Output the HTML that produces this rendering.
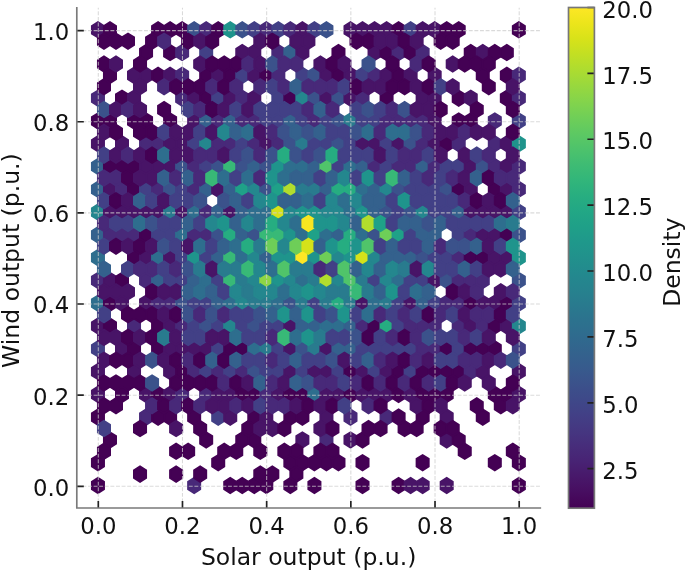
<!DOCTYPE html>
<html lang="en"><head><meta charset="utf-8"><title>Solar vs Wind output density</title>
<style>html,body{margin:0;padding:0;background:#fff}body{width:685px;height:571px;overflow:hidden}svg text{font-family:"DejaVu Sans","Liberation Sans",sans-serif}</style></head>
<body>
<svg width="685" height="571" viewBox="0 0 685 571" style="display:block">
<rect width="685" height="571" fill="#ffffff"/>
<defs><clipPath id="ax"><rect x="76.80" y="7.80" width="463.50" height="500.20"/></clipPath>
<linearGradient id="vg" x1="0" y1="0" x2="0" y2="1"><stop offset="0.0000" stop-color="#fde725"/><stop offset="0.0312" stop-color="#ece51b"/><stop offset="0.0625" stop-color="#d8e219"/><stop offset="0.0938" stop-color="#c2df23"/><stop offset="0.1250" stop-color="#addc30"/><stop offset="0.1562" stop-color="#98d83e"/><stop offset="0.1875" stop-color="#84d44b"/><stop offset="0.2188" stop-color="#70cf57"/><stop offset="0.2500" stop-color="#5ec962"/><stop offset="0.2812" stop-color="#4ec36b"/><stop offset="0.3125" stop-color="#3fbc73"/><stop offset="0.3438" stop-color="#32b67a"/><stop offset="0.3750" stop-color="#28ae80"/><stop offset="0.4062" stop-color="#22a785"/><stop offset="0.4375" stop-color="#1fa088"/><stop offset="0.4688" stop-color="#1f988b"/><stop offset="0.5000" stop-color="#21918c"/><stop offset="0.5312" stop-color="#23898e"/><stop offset="0.5625" stop-color="#26828e"/><stop offset="0.5938" stop-color="#297a8e"/><stop offset="0.6250" stop-color="#2c728e"/><stop offset="0.6562" stop-color="#2f6b8e"/><stop offset="0.6875" stop-color="#33638d"/><stop offset="0.7188" stop-color="#375b8d"/><stop offset="0.7500" stop-color="#3b528b"/><stop offset="0.7812" stop-color="#3e4989"/><stop offset="0.8125" stop-color="#424086"/><stop offset="0.8438" stop-color="#453781"/><stop offset="0.8750" stop-color="#472d7b"/><stop offset="0.9062" stop-color="#482374"/><stop offset="0.9375" stop-color="#48186a"/><stop offset="0.9688" stop-color="#470d60"/><stop offset="1.0000" stop-color="#440154"/></linearGradient></defs>
<g clip-path="url(#ax)" stroke-linejoin="miter" stroke-width="2.00">
<path fill="#440154" stroke="#440154" d="M103.96 481.70L103.96 489.30L97.95 493.10L91.94 489.30L91.94 481.70L97.95 477.90Z"/>
<path fill="#440154" stroke="#440154" d="M103.96 458.92L103.96 466.51L97.95 470.31L91.94 466.51L91.94 458.92L97.95 455.12Z"/>
<path fill="#440154" stroke="#440154" d="M103.96 413.35L103.96 420.94L97.95 424.74L91.94 420.94L91.94 413.35L97.95 409.55Z"/>
<path fill="#481467" stroke="#481467" d="M103.96 390.56L103.96 398.16L97.95 401.96L91.94 398.16L91.94 390.56L97.95 386.76Z"/>
<path fill="#481467" stroke="#481467" d="M103.96 367.78L103.96 375.37L97.95 379.17L91.94 375.37L91.94 367.78L97.95 363.98Z"/>
<path fill="#424086" stroke="#424086" d="M103.96 344.99L103.96 352.59L97.95 356.39L91.94 352.59L91.94 344.99L97.95 341.19Z"/>
<path fill="#481467" stroke="#481467" d="M103.96 322.21L103.96 329.80L97.95 333.60L91.94 329.80L91.94 322.21L97.95 318.41Z"/>
<path fill="#2e6e8e" stroke="#2e6e8e" d="M103.96 299.42L103.96 307.02L97.95 310.82L91.94 307.02L91.94 299.42L97.95 295.62Z"/>
<path fill="#482979" stroke="#482979" d="M103.96 276.64L103.96 284.23L97.95 288.03L91.94 284.23L91.94 276.64L97.95 272.84Z"/>
<path fill="#2e6e8e" stroke="#2e6e8e" d="M103.96 253.85L103.96 261.45L97.95 265.25L91.94 261.45L91.94 253.85L97.95 250.05Z"/>
<path fill="#34618d" stroke="#34618d" d="M103.96 231.07L103.96 238.66L97.95 242.46L91.94 238.66L91.94 231.07L97.95 227.27Z"/>
<path fill="#24878e" stroke="#24878e" d="M103.96 208.28L103.96 215.88L97.95 219.67L91.94 215.88L91.94 208.28L97.95 204.48Z"/>
<path fill="#34618d" stroke="#34618d" d="M103.96 185.50L103.96 193.09L97.95 196.89L91.94 193.09L91.94 185.50L97.95 181.70Z"/>
<path fill="#34618d" stroke="#34618d" d="M103.96 162.71L103.96 170.31L97.95 174.10L91.94 170.31L91.94 162.71L97.95 158.91Z"/>
<path fill="#481467" stroke="#481467" d="M103.96 139.93L103.96 147.52L97.95 151.32L91.94 147.52L91.94 139.93L97.95 136.13Z"/>
<path fill="#440154" stroke="#440154" d="M103.96 117.14L103.96 124.74L97.95 128.54L91.94 124.74L91.94 117.14L97.95 113.35Z"/>
<path fill="#482979" stroke="#482979" d="M103.96 94.36L103.96 101.95L97.95 105.75L91.94 101.95L91.94 94.36L97.95 90.56Z"/>
<path fill="#481467" stroke="#481467" d="M103.96 26.00L103.96 33.60L97.95 37.40L91.94 33.60L91.94 26.00L97.95 22.21Z"/>
<path fill="#440154" stroke="#440154" d="M115.99 436.13L115.99 443.73L109.98 447.53L103.96 443.73L103.96 436.13L109.98 432.33Z"/>
<path fill="#440154" stroke="#440154" d="M115.99 322.21L115.99 329.80L109.98 333.60L103.96 329.80L103.96 322.21L109.98 318.41Z"/>
<path fill="#440154" stroke="#440154" d="M115.99 299.42L115.99 307.02L109.98 310.82L103.96 307.02L103.96 299.42L109.98 295.62Z"/>
<path fill="#481467" stroke="#481467" d="M115.99 276.64L115.99 284.23L109.98 288.03L103.96 284.23L103.96 276.64L109.98 272.84Z"/>
<path fill="#482979" stroke="#482979" d="M115.99 231.07L115.99 238.66L109.98 242.46L103.96 238.66L103.96 231.07L109.98 227.27Z"/>
<path fill="#481467" stroke="#481467" d="M115.99 208.28L115.99 215.88L109.98 219.67L103.96 215.88L103.96 208.28L109.98 204.48Z"/>
<path fill="#481467" stroke="#481467" d="M115.99 185.50L115.99 193.09L109.98 196.89L103.96 193.09L103.96 185.50L109.98 181.70Z"/>
<path fill="#440154" stroke="#440154" d="M115.99 162.71L115.99 170.31L109.98 174.10L103.96 170.31L103.96 162.71L109.98 158.91Z"/>
<path fill="#440154" stroke="#440154" d="M115.99 117.14L115.99 124.74L109.98 128.54L103.96 124.74L103.96 117.14L109.98 113.35Z"/>
<path fill="#440154" stroke="#440154" d="M115.99 71.57L115.99 79.17L109.98 82.97L103.96 79.17L103.96 71.57L109.98 67.78Z"/>
<path fill="#440154" stroke="#440154" d="M115.99 26.00L115.99 33.60L109.98 37.40L103.96 33.60L103.96 26.00L109.98 22.21Z"/>
<path fill="#440154" stroke="#440154" d="M128.01 390.56L128.01 398.16L122.00 401.96L115.99 398.16L115.99 390.56L122.00 386.76Z"/>
<path fill="#481467" stroke="#481467" d="M128.01 344.99L128.01 352.59L122.00 356.39L115.99 352.59L115.99 344.99L122.00 341.19Z"/>
<path fill="#481467" stroke="#481467" d="M128.01 299.42L128.01 307.02L122.00 310.82L115.99 307.02L115.99 299.42L122.00 295.62Z"/>
<path fill="#440154" stroke="#440154" d="M128.01 276.64L128.01 284.23L122.00 288.03L115.99 284.23L115.99 276.64L122.00 272.84Z"/>
<path fill="#482979" stroke="#482979" d="M128.01 231.07L128.01 238.66L122.00 242.46L115.99 238.66L115.99 231.07L122.00 227.27Z"/>
<path fill="#481467" stroke="#481467" d="M128.01 208.28L128.01 215.88L122.00 219.67L115.99 215.88L115.99 208.28L122.00 204.48Z"/>
<path fill="#482979" stroke="#482979" d="M128.01 185.50L128.01 193.09L122.00 196.89L115.99 193.09L115.99 185.50L122.00 181.70Z"/>
<path fill="#440154" stroke="#440154" d="M128.01 162.71L128.01 170.31L122.00 174.10L115.99 170.31L115.99 162.71L122.00 158.91Z"/>
<path fill="#481467" stroke="#481467" d="M128.01 139.93L128.01 147.52L122.00 151.32L115.99 147.52L115.99 139.93L122.00 136.13Z"/>
<path fill="#440154" stroke="#440154" d="M128.01 94.36L128.01 101.95L122.00 105.75L115.99 101.95L115.99 94.36L122.00 90.56Z"/>
<path fill="#481467" stroke="#481467" d="M140.04 367.78L140.04 375.37L134.03 379.17L128.01 375.37L128.01 367.78L134.03 363.98Z"/>
<path fill="#440154" stroke="#440154" d="M140.04 344.99L140.04 352.59L134.03 356.39L128.01 352.59L128.01 344.99L134.03 341.19Z"/>
<path fill="#482979" stroke="#482979" d="M140.04 322.21L140.04 329.80L134.03 333.60L128.01 329.80L128.01 322.21L134.03 318.41Z"/>
<path fill="#440154" stroke="#440154" d="M140.04 253.85L140.04 261.45L134.03 265.25L128.01 261.45L128.01 253.85L134.03 250.05Z"/>
<path fill="#482979" stroke="#482979" d="M140.04 231.07L140.04 238.66L134.03 242.46L128.01 238.66L128.01 231.07L134.03 227.27Z"/>
<path fill="#481467" stroke="#481467" d="M140.04 208.28L140.04 215.88L134.03 219.67L128.01 215.88L128.01 208.28L134.03 204.48Z"/>
<path fill="#440154" stroke="#440154" d="M140.04 185.50L140.04 193.09L134.03 196.89L128.01 193.09L128.01 185.50L134.03 181.70Z"/>
<path fill="#440154" stroke="#440154" d="M140.04 162.71L140.04 170.31L134.03 174.10L128.01 170.31L128.01 162.71L134.03 158.91Z"/>
<path fill="#440154" stroke="#440154" d="M140.04 117.14L140.04 124.74L134.03 128.54L128.01 124.74L128.01 117.14L134.03 113.35Z"/>
<path fill="#481467" stroke="#481467" d="M140.04 94.36L140.04 101.95L134.03 105.75L128.01 101.95L128.01 94.36L134.03 90.56Z"/>
<path fill="#481467" stroke="#481467" d="M140.04 71.57L140.04 79.17L134.03 82.97L128.01 79.17L128.01 71.57L134.03 67.78Z"/>
<path fill="#482979" stroke="#482979" d="M152.07 413.35L152.07 420.94L146.05 424.74L140.04 420.94L140.04 413.35L146.05 409.55Z"/>
<path fill="#481467" stroke="#481467" d="M152.07 390.56L152.07 398.16L146.05 401.96L140.04 398.16L140.04 390.56L146.05 386.76Z"/>
<path fill="#481467" stroke="#481467" d="M152.07 299.42L152.07 307.02L146.05 310.82L140.04 307.02L140.04 299.42L146.05 295.62Z"/>
<path fill="#482979" stroke="#482979" d="M152.07 276.64L152.07 284.23L146.05 288.03L140.04 284.23L140.04 276.64L146.05 272.84Z"/>
<path fill="#481467" stroke="#481467" d="M152.07 253.85L152.07 261.45L146.05 265.25L140.04 261.45L140.04 253.85L146.05 250.05Z"/>
<path fill="#440154" stroke="#440154" d="M152.07 231.07L152.07 238.66L146.05 242.46L140.04 238.66L140.04 231.07L146.05 227.27Z"/>
<path fill="#481467" stroke="#481467" d="M152.07 208.28L152.07 215.88L146.05 219.67L140.04 215.88L140.04 208.28L146.05 204.48Z"/>
<path fill="#424086" stroke="#424086" d="M152.07 185.50L152.07 193.09L146.05 196.89L140.04 193.09L140.04 185.50L146.05 181.70Z"/>
<path fill="#481467" stroke="#481467" d="M152.07 162.71L152.07 170.31L146.05 174.10L140.04 170.31L140.04 162.71L146.05 158.91Z"/>
<path fill="#482979" stroke="#482979" d="M152.07 139.93L152.07 147.52L146.05 151.32L140.04 147.52L140.04 139.93L146.05 136.13Z"/>
<path fill="#440154" stroke="#440154" d="M152.07 117.14L152.07 124.74L146.05 128.54L140.04 124.74L140.04 117.14L146.05 113.35Z"/>
<path fill="#481467" stroke="#481467" d="M152.07 71.57L152.07 79.17L146.05 82.97L140.04 79.17L140.04 71.57L146.05 67.78Z"/>
<path fill="#440154" stroke="#440154" d="M152.07 48.79L152.07 56.38L146.05 60.18L140.04 56.38L140.04 48.79L146.05 44.99Z"/>
<path fill="#440154" stroke="#440154" d="M164.09 413.35L164.09 420.94L158.08 424.74L152.07 420.94L152.07 413.35L158.08 409.55Z"/>
<path fill="#440154" stroke="#440154" d="M164.09 390.56L164.09 398.16L158.08 401.96L152.07 398.16L152.07 390.56L158.08 386.76Z"/>
<path fill="#440154" stroke="#440154" d="M164.09 344.99L164.09 352.59L158.08 356.39L152.07 352.59L152.07 344.99L158.08 341.19Z"/>
<path fill="#440154" stroke="#440154" d="M164.09 322.21L164.09 329.80L158.08 333.60L152.07 329.80L152.07 322.21L158.08 318.41Z"/>
<path fill="#482979" stroke="#482979" d="M164.09 299.42L164.09 307.02L158.08 310.82L152.07 307.02L152.07 299.42L158.08 295.62Z"/>
<path fill="#34618d" stroke="#34618d" d="M164.09 276.64L164.09 284.23L158.08 288.03L152.07 284.23L152.07 276.64L158.08 272.84Z"/>
<path fill="#2e6e8e" stroke="#2e6e8e" d="M164.09 253.85L164.09 261.45L158.08 265.25L152.07 261.45L152.07 253.85L158.08 250.05Z"/>
<path fill="#424086" stroke="#424086" d="M164.09 231.07L164.09 238.66L158.08 242.46L152.07 238.66L152.07 231.07L158.08 227.27Z"/>
<path fill="#481467" stroke="#481467" d="M164.09 208.28L164.09 215.88L158.08 219.67L152.07 215.88L152.07 208.28L158.08 204.48Z"/>
<path fill="#482979" stroke="#482979" d="M164.09 185.50L164.09 193.09L158.08 196.89L152.07 193.09L152.07 185.50L158.08 181.70Z"/>
<path fill="#481467" stroke="#481467" d="M164.09 162.71L164.09 170.31L158.08 174.10L152.07 170.31L152.07 162.71L158.08 158.91Z"/>
<path fill="#482979" stroke="#482979" d="M164.09 139.93L164.09 147.52L158.08 151.32L152.07 147.52L152.07 139.93L158.08 136.13Z"/>
<path fill="#440154" stroke="#440154" d="M164.09 71.57L164.09 79.17L158.08 82.97L152.07 79.17L152.07 71.57L158.08 67.78Z"/>
<path fill="#440154" stroke="#440154" d="M164.09 26.00L164.09 33.60L158.08 37.40L152.07 33.60L152.07 26.00L158.08 22.21Z"/>
<path fill="#440154" stroke="#440154" d="M176.12 413.35L176.12 420.94L170.10 424.74L164.09 420.94L164.09 413.35L170.10 409.55Z"/>
<path fill="#481467" stroke="#481467" d="M176.12 390.56L176.12 398.16L170.10 401.96L164.09 398.16L164.09 390.56L170.10 386.76Z"/>
<path fill="#481467" stroke="#481467" d="M176.12 367.78L176.12 375.37L170.10 379.17L164.09 375.37L164.09 367.78L170.10 363.98Z"/>
<path fill="#481467" stroke="#481467" d="M176.12 344.99L176.12 352.59L170.10 356.39L164.09 352.59L164.09 344.99L170.10 341.19Z"/>
<path fill="#481467" stroke="#481467" d="M176.12 322.21L176.12 329.80L170.10 333.60L164.09 329.80L164.09 322.21L170.10 318.41Z"/>
<path fill="#482979" stroke="#482979" d="M176.12 299.42L176.12 307.02L170.10 310.82L164.09 307.02L164.09 299.42L170.10 295.62Z"/>
<path fill="#424086" stroke="#424086" d="M176.12 276.64L176.12 284.23L170.10 288.03L164.09 284.23L164.09 276.64L170.10 272.84Z"/>
<path fill="#481467" stroke="#481467" d="M176.12 253.85L176.12 261.45L170.10 265.25L164.09 261.45L164.09 253.85L170.10 250.05Z"/>
<path fill="#424086" stroke="#424086" d="M176.12 231.07L176.12 238.66L170.10 242.46L164.09 238.66L164.09 231.07L170.10 227.27Z"/>
<path fill="#297b8e" stroke="#297b8e" d="M176.12 208.28L176.12 215.88L170.10 219.67L164.09 215.88L164.09 208.28L170.10 204.48Z"/>
<path fill="#3b528b" stroke="#3b528b" d="M176.12 185.50L176.12 193.09L170.10 196.89L164.09 193.09L164.09 185.50L170.10 181.70Z"/>
<path fill="#481467" stroke="#481467" d="M176.12 162.71L176.12 170.31L170.10 174.10L164.09 170.31L164.09 162.71L170.10 158.91Z"/>
<path fill="#481467" stroke="#481467" d="M176.12 139.93L176.12 147.52L170.10 151.32L164.09 147.52L164.09 139.93L170.10 136.13Z"/>
<path fill="#440154" stroke="#440154" d="M176.12 117.14L176.12 124.74L170.10 128.54L164.09 124.74L164.09 117.14L170.10 113.35Z"/>
<path fill="#481467" stroke="#481467" d="M176.12 71.57L176.12 79.17L170.10 82.97L164.09 79.17L164.09 71.57L170.10 67.78Z"/>
<path fill="#440154" stroke="#440154" d="M176.12 48.79L176.12 56.38L170.10 60.18L164.09 56.38L164.09 48.79L170.10 44.99Z"/>
<path fill="#440154" stroke="#440154" d="M176.12 26.00L176.12 33.60L170.10 37.40L164.09 33.60L164.09 26.00L170.10 22.21Z"/>
<path fill="#482979" stroke="#482979" d="M188.14 390.56L188.14 398.16L182.13 401.96L176.12 398.16L176.12 390.56L182.13 386.76Z"/>
<path fill="#440154" stroke="#440154" d="M188.14 367.78L188.14 375.37L182.13 379.17L176.12 375.37L176.12 367.78L182.13 363.98Z"/>
<path fill="#481467" stroke="#481467" d="M188.14 344.99L188.14 352.59L182.13 356.39L176.12 352.59L176.12 344.99L182.13 341.19Z"/>
<path fill="#482979" stroke="#482979" d="M188.14 322.21L188.14 329.80L182.13 333.60L176.12 329.80L176.12 322.21L182.13 318.41Z"/>
<path fill="#3b528b" stroke="#3b528b" d="M188.14 299.42L188.14 307.02L182.13 310.82L176.12 307.02L176.12 299.42L182.13 295.62Z"/>
<path fill="#424086" stroke="#424086" d="M188.14 276.64L188.14 284.23L182.13 288.03L176.12 284.23L176.12 276.64L182.13 272.84Z"/>
<path fill="#424086" stroke="#424086" d="M188.14 253.85L188.14 261.45L182.13 265.25L176.12 261.45L176.12 253.85L182.13 250.05Z"/>
<path fill="#2e6e8e" stroke="#2e6e8e" d="M188.14 231.07L188.14 238.66L182.13 242.46L176.12 238.66L176.12 231.07L182.13 227.27Z"/>
<path fill="#481467" stroke="#481467" d="M188.14 208.28L188.14 215.88L182.13 219.67L176.12 215.88L176.12 208.28L182.13 204.48Z"/>
<path fill="#424086" stroke="#424086" d="M188.14 185.50L188.14 193.09L182.13 196.89L176.12 193.09L176.12 185.50L182.13 181.70Z"/>
<path fill="#3b528b" stroke="#3b528b" d="M188.14 162.71L188.14 170.31L182.13 174.10L176.12 170.31L176.12 162.71L182.13 158.91Z"/>
<path fill="#481467" stroke="#481467" d="M188.14 139.93L188.14 147.52L182.13 151.32L176.12 147.52L176.12 139.93L182.13 136.13Z"/>
<path fill="#482979" stroke="#482979" d="M188.14 94.36L188.14 101.95L182.13 105.75L176.12 101.95L176.12 94.36L182.13 90.56Z"/>
<path fill="#482979" stroke="#482979" d="M188.14 71.57L188.14 79.17L182.13 82.97L176.12 79.17L176.12 71.57L182.13 67.78Z"/>
<path fill="#482979" stroke="#482979" d="M188.14 48.79L188.14 56.38L182.13 60.18L176.12 56.38L176.12 48.79L182.13 44.99Z"/>
<path fill="#440154" stroke="#440154" d="M188.14 26.00L188.14 33.60L182.13 37.40L176.12 33.60L176.12 26.00L182.13 22.21Z"/>
<path fill="#482979" stroke="#482979" d="M200.17 481.70L200.17 489.30L194.16 493.10L188.14 489.30L188.14 481.70L194.16 477.90Z"/>
<path fill="#440154" stroke="#440154" d="M200.17 413.35L200.17 420.94L194.16 424.74L188.14 420.94L188.14 413.35L194.16 409.55Z"/>
<path fill="#482979" stroke="#482979" d="M200.17 367.78L200.17 375.37L194.16 379.17L188.14 375.37L188.14 367.78L194.16 363.98Z"/>
<path fill="#481467" stroke="#481467" d="M200.17 344.99L200.17 352.59L194.16 356.39L188.14 352.59L188.14 344.99L194.16 341.19Z"/>
<path fill="#424086" stroke="#424086" d="M200.17 322.21L200.17 329.80L194.16 333.60L188.14 329.80L188.14 322.21L194.16 318.41Z"/>
<path fill="#424086" stroke="#424086" d="M200.17 299.42L200.17 307.02L194.16 310.82L188.14 307.02L188.14 299.42L194.16 295.62Z"/>
<path fill="#34618d" stroke="#34618d" d="M200.17 276.64L200.17 284.23L194.16 288.03L188.14 284.23L188.14 276.64L194.16 272.84Z"/>
<path fill="#1f948c" stroke="#1f948c" d="M200.17 253.85L200.17 261.45L194.16 265.25L188.14 261.45L188.14 253.85L194.16 250.05Z"/>
<path fill="#482979" stroke="#482979" d="M200.17 231.07L200.17 238.66L194.16 242.46L188.14 238.66L188.14 231.07L194.16 227.27Z"/>
<path fill="#2e6e8e" stroke="#2e6e8e" d="M200.17 208.28L200.17 215.88L194.16 219.67L188.14 215.88L188.14 208.28L194.16 204.48Z"/>
<path fill="#482979" stroke="#482979" d="M200.17 185.50L200.17 193.09L194.16 196.89L188.14 193.09L188.14 185.50L194.16 181.70Z"/>
<path fill="#482979" stroke="#482979" d="M200.17 162.71L200.17 170.31L194.16 174.10L188.14 170.31L188.14 162.71L194.16 158.91Z"/>
<path fill="#424086" stroke="#424086" d="M200.17 139.93L200.17 147.52L194.16 151.32L188.14 147.52L188.14 139.93L194.16 136.13Z"/>
<path fill="#481467" stroke="#481467" d="M200.17 117.14L200.17 124.74L194.16 128.54L188.14 124.74L188.14 117.14L194.16 113.35Z"/>
<path fill="#481467" stroke="#481467" d="M200.17 94.36L200.17 101.95L194.16 105.75L188.14 101.95L188.14 94.36L194.16 90.56Z"/>
<path fill="#3b528b" stroke="#3b528b" d="M200.17 26.00L200.17 33.60L194.16 37.40L188.14 33.60L188.14 26.00L194.16 22.21Z"/>
<path fill="#440154" stroke="#440154" d="M212.19 436.13L212.19 443.73L206.18 447.53L200.17 443.73L200.17 436.13L206.18 432.33Z"/>
<path fill="#482979" stroke="#482979" d="M212.19 390.56L212.19 398.16L206.18 401.96L200.17 398.16L200.17 390.56L206.18 386.76Z"/>
<path fill="#424086" stroke="#424086" d="M212.19 367.78L212.19 375.37L206.18 379.17L200.17 375.37L200.17 367.78L206.18 363.98Z"/>
<path fill="#481467" stroke="#481467" d="M212.19 344.99L212.19 352.59L206.18 356.39L200.17 352.59L200.17 344.99L206.18 341.19Z"/>
<path fill="#3b528b" stroke="#3b528b" d="M212.19 322.21L212.19 329.80L206.18 333.60L200.17 329.80L200.17 322.21L206.18 318.41Z"/>
<path fill="#424086" stroke="#424086" d="M212.19 299.42L212.19 307.02L206.18 310.82L200.17 307.02L200.17 299.42L206.18 295.62Z"/>
<path fill="#2e6e8e" stroke="#2e6e8e" d="M212.19 276.64L212.19 284.23L206.18 288.03L200.17 284.23L200.17 276.64L206.18 272.84Z"/>
<path fill="#424086" stroke="#424086" d="M212.19 253.85L212.19 261.45L206.18 265.25L200.17 261.45L200.17 253.85L206.18 250.05Z"/>
<path fill="#482979" stroke="#482979" d="M212.19 231.07L212.19 238.66L206.18 242.46L200.17 238.66L200.17 231.07L206.18 227.27Z"/>
<path fill="#482979" stroke="#482979" d="M212.19 208.28L212.19 215.88L206.18 219.67L200.17 215.88L200.17 208.28L206.18 204.48Z"/>
<path fill="#34618d" stroke="#34618d" d="M212.19 185.50L212.19 193.09L206.18 196.89L200.17 193.09L200.17 185.50L206.18 181.70Z"/>
<path fill="#424086" stroke="#424086" d="M212.19 162.71L212.19 170.31L206.18 174.10L200.17 170.31L200.17 162.71L206.18 158.91Z"/>
<path fill="#24878e" stroke="#24878e" d="M212.19 139.93L212.19 147.52L206.18 151.32L200.17 147.52L200.17 139.93L206.18 136.13Z"/>
<path fill="#34618d" stroke="#34618d" d="M212.19 117.14L212.19 124.74L206.18 128.54L200.17 124.74L200.17 117.14L206.18 113.35Z"/>
<path fill="#440154" stroke="#440154" d="M212.19 94.36L212.19 101.95L206.18 105.75L200.17 101.95L200.17 94.36L206.18 90.56Z"/>
<path fill="#440154" stroke="#440154" d="M212.19 71.57L212.19 79.17L206.18 82.97L200.17 79.17L200.17 71.57L206.18 67.78Z"/>
<path fill="#424086" stroke="#424086" d="M212.19 48.79L212.19 56.38L206.18 60.18L200.17 56.38L200.17 48.79L206.18 44.99Z"/>
<path fill="#482979" stroke="#482979" d="M212.19 26.00L212.19 33.60L206.18 37.40L200.17 33.60L200.17 26.00L206.18 22.21Z"/>
<path fill="#440154" stroke="#440154" d="M224.22 458.92L224.22 466.51L218.21 470.31L212.19 466.51L212.19 458.92L218.21 455.12Z"/>
<path fill="#424086" stroke="#424086" d="M224.22 413.35L224.22 420.94L218.21 424.74L212.19 420.94L212.19 413.35L218.21 409.55Z"/>
<path fill="#481467" stroke="#481467" d="M224.22 390.56L224.22 398.16L218.21 401.96L212.19 398.16L212.19 390.56L218.21 386.76Z"/>
<path fill="#482979" stroke="#482979" d="M224.22 367.78L224.22 375.37L218.21 379.17L212.19 375.37L212.19 367.78L218.21 363.98Z"/>
<path fill="#424086" stroke="#424086" d="M224.22 344.99L224.22 352.59L218.21 356.39L212.19 352.59L212.19 344.99L218.21 341.19Z"/>
<path fill="#424086" stroke="#424086" d="M224.22 322.21L224.22 329.80L218.21 333.60L212.19 329.80L212.19 322.21L218.21 318.41Z"/>
<path fill="#34618d" stroke="#34618d" d="M224.22 299.42L224.22 307.02L218.21 310.82L212.19 307.02L212.19 299.42L218.21 295.62Z"/>
<path fill="#424086" stroke="#424086" d="M224.22 276.64L224.22 284.23L218.21 288.03L212.19 284.23L212.19 276.64L218.21 272.84Z"/>
<path fill="#34618d" stroke="#34618d" d="M224.22 253.85L224.22 261.45L218.21 265.25L212.19 261.45L212.19 253.85L218.21 250.05Z"/>
<path fill="#3b528b" stroke="#3b528b" d="M224.22 231.07L224.22 238.66L218.21 242.46L212.19 238.66L212.19 231.07L218.21 227.27Z"/>
<path fill="#34618d" stroke="#34618d" d="M224.22 208.28L224.22 215.88L218.21 219.67L212.19 215.88L212.19 208.28L218.21 204.48Z"/>
<path fill="#481467" stroke="#481467" d="M224.22 185.50L224.22 193.09L218.21 196.89L212.19 193.09L212.19 185.50L218.21 181.70Z"/>
<path fill="#3b528b" stroke="#3b528b" d="M224.22 162.71L224.22 170.31L218.21 174.10L212.19 170.31L212.19 162.71L218.21 158.91Z"/>
<path fill="#482979" stroke="#482979" d="M224.22 139.93L224.22 147.52L218.21 151.32L212.19 147.52L212.19 139.93L218.21 136.13Z"/>
<path fill="#482979" stroke="#482979" d="M224.22 117.14L224.22 124.74L218.21 128.54L212.19 124.74L212.19 117.14L218.21 113.35Z"/>
<path fill="#424086" stroke="#424086" d="M224.22 94.36L224.22 101.95L218.21 105.75L212.19 101.95L212.19 94.36L218.21 90.56Z"/>
<path fill="#481467" stroke="#481467" d="M224.22 71.57L224.22 79.17L218.21 82.97L212.19 79.17L212.19 71.57L218.21 67.78Z"/>
<path fill="#440154" stroke="#440154" d="M224.22 26.00L224.22 33.60L218.21 37.40L212.19 33.60L212.19 26.00L218.21 22.21Z"/>
<path fill="#440154" stroke="#440154" d="M236.25 481.70L236.25 489.30L230.23 493.10L224.22 489.30L224.22 481.70L230.23 477.90Z"/>
<path fill="#481467" stroke="#481467" d="M236.25 413.35L236.25 420.94L230.23 424.74L224.22 420.94L224.22 413.35L230.23 409.55Z"/>
<path fill="#481467" stroke="#481467" d="M236.25 390.56L236.25 398.16L230.23 401.96L224.22 398.16L224.22 390.56L230.23 386.76Z"/>
<path fill="#424086" stroke="#424086" d="M236.25 367.78L236.25 375.37L230.23 379.17L224.22 375.37L224.22 367.78L230.23 363.98Z"/>
<path fill="#440154" stroke="#440154" d="M236.25 344.99L236.25 352.59L230.23 356.39L224.22 352.59L224.22 344.99L230.23 341.19Z"/>
<path fill="#24878e" stroke="#24878e" d="M236.25 322.21L236.25 329.80L230.23 333.60L224.22 329.80L224.22 322.21L230.23 318.41Z"/>
<path fill="#2e6e8e" stroke="#2e6e8e" d="M236.25 299.42L236.25 307.02L230.23 310.82L224.22 307.02L224.22 299.42L230.23 295.62Z"/>
<path fill="#38b977" stroke="#38b977" d="M236.25 276.64L236.25 284.23L230.23 288.03L224.22 284.23L224.22 276.64L230.23 272.84Z"/>
<path fill="#38b977" stroke="#38b977" d="M236.25 253.85L236.25 261.45L230.23 265.25L224.22 261.45L224.22 253.85L230.23 250.05Z"/>
<path fill="#26ad81" stroke="#26ad81" d="M236.25 231.07L236.25 238.66L230.23 242.46L224.22 238.66L224.22 231.07L230.23 227.27Z"/>
<path fill="#481467" stroke="#481467" d="M236.25 208.28L236.25 215.88L230.23 219.67L224.22 215.88L224.22 208.28L230.23 204.48Z"/>
<path fill="#34618d" stroke="#34618d" d="M236.25 185.50L236.25 193.09L230.23 196.89L224.22 193.09L224.22 185.50L230.23 181.70Z"/>
<path fill="#38b977" stroke="#38b977" d="M236.25 162.71L236.25 170.31L230.23 174.10L224.22 170.31L224.22 162.71L230.23 158.91Z"/>
<path fill="#482979" stroke="#482979" d="M236.25 139.93L236.25 147.52L230.23 151.32L224.22 147.52L224.22 139.93L230.23 136.13Z"/>
<path fill="#34618d" stroke="#34618d" d="M236.25 117.14L236.25 124.74L230.23 128.54L224.22 124.74L224.22 117.14L230.23 113.35Z"/>
<path fill="#481467" stroke="#481467" d="M236.25 94.36L236.25 101.95L230.23 105.75L224.22 101.95L224.22 94.36L230.23 90.56Z"/>
<path fill="#440154" stroke="#440154" d="M236.25 71.57L236.25 79.17L230.23 82.97L224.22 79.17L224.22 71.57L230.23 67.78Z"/>
<path fill="#1f948c" stroke="#1f948c" d="M236.25 26.00L236.25 33.60L230.23 37.40L224.22 33.60L224.22 26.00L230.23 22.21Z"/>
<path fill="#440154" stroke="#440154" d="M248.27 481.70L248.27 489.30L242.26 493.10L236.25 489.30L236.25 481.70L242.26 477.90Z"/>
<path fill="#440154" stroke="#440154" d="M248.27 436.13L248.27 443.73L242.26 447.53L236.25 443.73L236.25 436.13L242.26 432.33Z"/>
<path fill="#440154" stroke="#440154" d="M248.27 390.56L248.27 398.16L242.26 401.96L236.25 398.16L236.25 390.56L242.26 386.76Z"/>
<path fill="#482979" stroke="#482979" d="M248.27 367.78L248.27 375.37L242.26 379.17L236.25 375.37L236.25 367.78L242.26 363.98Z"/>
<path fill="#440154" stroke="#440154" d="M248.27 344.99L248.27 352.59L242.26 356.39L236.25 352.59L236.25 344.99L242.26 341.19Z"/>
<path fill="#424086" stroke="#424086" d="M248.27 322.21L248.27 329.80L242.26 333.60L236.25 329.80L236.25 322.21L242.26 318.41Z"/>
<path fill="#24878e" stroke="#24878e" d="M248.27 299.42L248.27 307.02L242.26 310.82L236.25 307.02L236.25 299.42L242.26 295.62Z"/>
<path fill="#297b8e" stroke="#297b8e" d="M248.27 276.64L248.27 284.23L242.26 288.03L236.25 284.23L236.25 276.64L242.26 272.84Z"/>
<path fill="#2e6e8e" stroke="#2e6e8e" d="M248.27 253.85L248.27 261.45L242.26 265.25L236.25 261.45L236.25 253.85L242.26 250.05Z"/>
<path fill="#34618d" stroke="#34618d" d="M248.27 231.07L248.27 238.66L242.26 242.46L236.25 238.66L236.25 231.07L242.26 227.27Z"/>
<path fill="#34618d" stroke="#34618d" d="M248.27 208.28L248.27 215.88L242.26 219.67L236.25 215.88L236.25 208.28L242.26 204.48Z"/>
<path fill="#1fa188" stroke="#1fa188" d="M248.27 185.50L248.27 193.09L242.26 196.89L236.25 193.09L236.25 185.50L242.26 181.70Z"/>
<path fill="#3b528b" stroke="#3b528b" d="M248.27 162.71L248.27 170.31L242.26 174.10L236.25 170.31L236.25 162.71L242.26 158.91Z"/>
<path fill="#424086" stroke="#424086" d="M248.27 139.93L248.27 147.52L242.26 151.32L236.25 147.52L236.25 139.93L242.26 136.13Z"/>
<path fill="#482979" stroke="#482979" d="M248.27 117.14L248.27 124.74L242.26 128.54L236.25 124.74L236.25 117.14L242.26 113.35Z"/>
<path fill="#482979" stroke="#482979" d="M248.27 94.36L248.27 101.95L242.26 105.75L236.25 101.95L236.25 94.36L242.26 90.56Z"/>
<path fill="#424086" stroke="#424086" d="M248.27 71.57L248.27 79.17L242.26 82.97L236.25 79.17L236.25 71.57L242.26 67.78Z"/>
<path fill="#481467" stroke="#481467" d="M248.27 48.79L248.27 56.38L242.26 60.18L236.25 56.38L236.25 48.79L242.26 44.99Z"/>
<path fill="#3b528b" stroke="#3b528b" d="M248.27 26.00L248.27 33.60L242.26 37.40L236.25 33.60L236.25 26.00L242.26 22.21Z"/>
<path fill="#440154" stroke="#440154" d="M260.30 481.70L260.30 489.30L254.28 493.10L248.27 489.30L248.27 481.70L254.28 477.90Z"/>
<path fill="#440154" stroke="#440154" d="M260.30 436.13L260.30 443.73L254.28 447.53L248.27 443.73L248.27 436.13L254.28 432.33Z"/>
<path fill="#440154" stroke="#440154" d="M260.30 413.35L260.30 420.94L254.28 424.74L248.27 420.94L248.27 413.35L254.28 409.55Z"/>
<path fill="#440154" stroke="#440154" d="M260.30 390.56L260.30 398.16L254.28 401.96L248.27 398.16L248.27 390.56L254.28 386.76Z"/>
<path fill="#3b528b" stroke="#3b528b" d="M260.30 367.78L260.30 375.37L254.28 379.17L248.27 375.37L248.27 367.78L254.28 363.98Z"/>
<path fill="#2e6e8e" stroke="#2e6e8e" d="M260.30 344.99L260.30 352.59L254.28 356.39L248.27 352.59L248.27 344.99L254.28 341.19Z"/>
<path fill="#3b528b" stroke="#3b528b" d="M260.30 322.21L260.30 329.80L254.28 333.60L248.27 329.80L248.27 322.21L254.28 318.41Z"/>
<path fill="#297b8e" stroke="#297b8e" d="M260.30 299.42L260.30 307.02L254.28 310.82L248.27 307.02L248.27 299.42L254.28 295.62Z"/>
<path fill="#24878e" stroke="#24878e" d="M260.30 276.64L260.30 284.23L254.28 288.03L248.27 284.23L248.27 276.64L254.28 272.84Z"/>
<path fill="#24878e" stroke="#24878e" d="M260.30 253.85L260.30 261.45L254.28 265.25L248.27 261.45L248.27 253.85L254.28 250.05Z"/>
<path fill="#3b528b" stroke="#3b528b" d="M260.30 231.07L260.30 238.66L254.28 242.46L248.27 238.66L248.27 231.07L254.28 227.27Z"/>
<path fill="#2e6e8e" stroke="#2e6e8e" d="M260.30 208.28L260.30 215.88L254.28 219.67L248.27 215.88L248.27 208.28L254.28 204.48Z"/>
<path fill="#24878e" stroke="#24878e" d="M260.30 185.50L260.30 193.09L254.28 196.89L248.27 193.09L248.27 185.50L254.28 181.70Z"/>
<path fill="#34618d" stroke="#34618d" d="M260.30 162.71L260.30 170.31L254.28 174.10L248.27 170.31L248.27 162.71L254.28 158.91Z"/>
<path fill="#482979" stroke="#482979" d="M260.30 139.93L260.30 147.52L254.28 151.32L248.27 147.52L248.27 139.93L254.28 136.13Z"/>
<path fill="#482979" stroke="#482979" d="M260.30 117.14L260.30 124.74L254.28 128.54L248.27 124.74L248.27 117.14L254.28 113.35Z"/>
<path fill="#481467" stroke="#481467" d="M260.30 94.36L260.30 101.95L254.28 105.75L248.27 101.95L248.27 94.36L254.28 90.56Z"/>
<path fill="#481467" stroke="#481467" d="M260.30 71.57L260.30 79.17L254.28 82.97L248.27 79.17L248.27 71.57L254.28 67.78Z"/>
<path fill="#481467" stroke="#481467" d="M260.30 48.79L260.30 56.38L254.28 60.18L248.27 56.38L248.27 48.79L254.28 44.99Z"/>
<path fill="#424086" stroke="#424086" d="M260.30 26.00L260.30 33.60L254.28 37.40L248.27 33.60L248.27 26.00L254.28 22.21Z"/>
<path fill="#440154" stroke="#440154" d="M272.32 481.70L272.32 489.30L266.31 493.10L260.30 489.30L260.30 481.70L266.31 477.90Z"/>
<path fill="#481467" stroke="#481467" d="M272.32 413.35L272.32 420.94L266.31 424.74L260.30 420.94L260.30 413.35L266.31 409.55Z"/>
<path fill="#482979" stroke="#482979" d="M272.32 390.56L272.32 398.16L266.31 401.96L260.30 398.16L260.30 390.56L266.31 386.76Z"/>
<path fill="#424086" stroke="#424086" d="M272.32 367.78L272.32 375.37L266.31 379.17L260.30 375.37L260.30 367.78L266.31 363.98Z"/>
<path fill="#297b8e" stroke="#297b8e" d="M272.32 344.99L272.32 352.59L266.31 356.39L260.30 352.59L260.30 344.99L266.31 341.19Z"/>
<path fill="#424086" stroke="#424086" d="M272.32 322.21L272.32 329.80L266.31 333.60L260.30 329.80L260.30 322.21L266.31 318.41Z"/>
<path fill="#297b8e" stroke="#297b8e" d="M272.32 299.42L272.32 307.02L266.31 310.82L260.30 307.02L260.30 299.42L266.31 295.62Z"/>
<path fill="#8ed645" stroke="#8ed645" d="M272.32 276.64L272.32 284.23L266.31 288.03L260.30 284.23L260.30 276.64L266.31 272.84Z"/>
<path fill="#34618d" stroke="#34618d" d="M272.32 253.85L272.32 261.45L266.31 265.25L260.30 261.45L260.30 253.85L266.31 250.05Z"/>
<path fill="#38b977" stroke="#38b977" d="M272.32 231.07L272.32 238.66L266.31 242.46L260.30 238.66L260.30 231.07L266.31 227.27Z"/>
<path fill="#2e6e8e" stroke="#2e6e8e" d="M272.32 208.28L272.32 215.88L266.31 219.67L260.30 215.88L260.30 208.28L266.31 204.48Z"/>
<path fill="#3b528b" stroke="#3b528b" d="M272.32 185.50L272.32 193.09L266.31 196.89L260.30 193.09L260.30 185.50L266.31 181.70Z"/>
<path fill="#3b528b" stroke="#3b528b" d="M272.32 162.71L272.32 170.31L266.31 174.10L260.30 170.31L260.30 162.71L266.31 158.91Z"/>
<path fill="#481467" stroke="#481467" d="M272.32 139.93L272.32 147.52L266.31 151.32L260.30 147.52L260.30 139.93L266.31 136.13Z"/>
<path fill="#424086" stroke="#424086" d="M272.32 117.14L272.32 124.74L266.31 128.54L260.30 124.74L260.30 117.14L266.31 113.35Z"/>
<path fill="#440154" stroke="#440154" d="M272.32 71.57L272.32 79.17L266.31 82.97L260.30 79.17L260.30 71.57L266.31 67.78Z"/>
<path fill="#482979" stroke="#482979" d="M272.32 26.00L272.32 33.60L266.31 37.40L260.30 33.60L260.30 26.00L266.31 22.21Z"/>
<path fill="#481467" stroke="#481467" d="M284.35 390.56L284.35 398.16L278.34 401.96L272.32 398.16L272.32 390.56L278.34 386.76Z"/>
<path fill="#424086" stroke="#424086" d="M284.35 367.78L284.35 375.37L278.34 379.17L272.32 375.37L272.32 367.78L278.34 363.98Z"/>
<path fill="#424086" stroke="#424086" d="M284.35 344.99L284.35 352.59L278.34 356.39L272.32 352.59L272.32 344.99L278.34 341.19Z"/>
<path fill="#424086" stroke="#424086" d="M284.35 322.21L284.35 329.80L278.34 333.60L272.32 329.80L272.32 322.21L278.34 318.41Z"/>
<path fill="#2e6e8e" stroke="#2e6e8e" d="M284.35 299.42L284.35 307.02L278.34 310.82L272.32 307.02L272.32 299.42L278.34 295.62Z"/>
<path fill="#1f948c" stroke="#1f948c" d="M284.35 276.64L284.35 284.23L278.34 288.03L272.32 284.23L272.32 276.64L278.34 272.84Z"/>
<path fill="#1f948c" stroke="#1f948c" d="M284.35 253.85L284.35 261.45L278.34 265.25L272.32 261.45L272.32 253.85L278.34 250.05Z"/>
<path fill="#38b977" stroke="#38b977" d="M284.35 231.07L284.35 238.66L278.34 242.46L272.32 238.66L272.32 231.07L278.34 227.27Z"/>
<path fill="#d5e21a" stroke="#d5e21a" d="M284.35 208.28L284.35 215.88L278.34 219.67L272.32 215.88L272.32 208.28L278.34 204.48Z"/>
<path fill="#1fa188" stroke="#1fa188" d="M284.35 185.50L284.35 193.09L278.34 196.89L272.32 193.09L272.32 185.50L278.34 181.70Z"/>
<path fill="#1f948c" stroke="#1f948c" d="M284.35 162.71L284.35 170.31L278.34 174.10L272.32 170.31L272.32 162.71L278.34 158.91Z"/>
<path fill="#482979" stroke="#482979" d="M284.35 139.93L284.35 147.52L278.34 151.32L272.32 147.52L272.32 139.93L278.34 136.13Z"/>
<path fill="#424086" stroke="#424086" d="M284.35 117.14L284.35 124.74L278.34 128.54L272.32 124.74L272.32 117.14L278.34 113.35Z"/>
<path fill="#424086" stroke="#424086" d="M284.35 94.36L284.35 101.95L278.34 105.75L272.32 101.95L272.32 94.36L278.34 90.56Z"/>
<path fill="#482979" stroke="#482979" d="M284.35 71.57L284.35 79.17L278.34 82.97L272.32 79.17L272.32 71.57L278.34 67.78Z"/>
<path fill="#482979" stroke="#482979" d="M284.35 48.79L284.35 56.38L278.34 60.18L272.32 56.38L272.32 48.79L278.34 44.99Z"/>
<path fill="#424086" stroke="#424086" d="M284.35 26.00L284.35 33.60L278.34 37.40L272.32 33.60L272.32 26.00L278.34 22.21Z"/>
<path fill="#440154" stroke="#440154" d="M296.37 481.70L296.37 489.30L290.36 493.10L284.35 489.30L284.35 481.70L290.36 477.90Z"/>
<path fill="#440154" stroke="#440154" d="M296.37 458.92L296.37 466.51L290.36 470.31L284.35 466.51L284.35 458.92L290.36 455.12Z"/>
<path fill="#440154" stroke="#440154" d="M296.37 413.35L296.37 420.94L290.36 424.74L284.35 420.94L284.35 413.35L290.36 409.55Z"/>
<path fill="#440154" stroke="#440154" d="M296.37 390.56L296.37 398.16L290.36 401.96L284.35 398.16L284.35 390.56L290.36 386.76Z"/>
<path fill="#481467" stroke="#481467" d="M296.37 367.78L296.37 375.37L290.36 379.17L284.35 375.37L284.35 367.78L290.36 363.98Z"/>
<path fill="#481467" stroke="#481467" d="M296.37 344.99L296.37 352.59L290.36 356.39L284.35 352.59L284.35 344.99L290.36 341.19Z"/>
<path fill="#481467" stroke="#481467" d="M296.37 322.21L296.37 329.80L290.36 333.60L284.35 329.80L284.35 322.21L290.36 318.41Z"/>
<path fill="#3b528b" stroke="#3b528b" d="M296.37 299.42L296.37 307.02L290.36 310.82L284.35 307.02L284.35 299.42L290.36 295.62Z"/>
<path fill="#24878e" stroke="#24878e" d="M296.37 276.64L296.37 284.23L290.36 288.03L284.35 284.23L284.35 276.64L290.36 272.84Z"/>
<path fill="#1f948c" stroke="#1f948c" d="M296.37 253.85L296.37 261.45L290.36 265.25L284.35 261.45L284.35 253.85L290.36 250.05Z"/>
<path fill="#1f948c" stroke="#1f948c" d="M296.37 231.07L296.37 238.66L290.36 242.46L284.35 238.66L284.35 231.07L290.36 227.27Z"/>
<path fill="#24878e" stroke="#24878e" d="M296.37 208.28L296.37 215.88L290.36 219.67L284.35 215.88L284.35 208.28L290.36 204.48Z"/>
<path fill="#b2dd2d" stroke="#b2dd2d" d="M296.37 185.50L296.37 193.09L290.36 196.89L284.35 193.09L284.35 185.50L290.36 181.70Z"/>
<path fill="#2e6e8e" stroke="#2e6e8e" d="M296.37 162.71L296.37 170.31L290.36 174.10L284.35 170.31L284.35 162.71L290.36 158.91Z"/>
<path fill="#3b528b" stroke="#3b528b" d="M296.37 139.93L296.37 147.52L290.36 151.32L284.35 147.52L284.35 139.93L290.36 136.13Z"/>
<path fill="#34618d" stroke="#34618d" d="M296.37 117.14L296.37 124.74L290.36 128.54L284.35 124.74L284.35 117.14L290.36 113.35Z"/>
<path fill="#440154" stroke="#440154" d="M296.37 94.36L296.37 101.95L290.36 105.75L284.35 101.95L284.35 94.36L290.36 90.56Z"/>
<path fill="#34618d" stroke="#34618d" d="M296.37 48.79L296.37 56.38L290.36 60.18L284.35 56.38L284.35 48.79L290.36 44.99Z"/>
<path fill="#482979" stroke="#482979" d="M296.37 26.00L296.37 33.60L290.36 37.40L284.35 33.60L284.35 26.00L290.36 22.21Z"/>
<path fill="#440154" stroke="#440154" d="M308.40 458.92L308.40 466.51L302.39 470.31L296.37 466.51L296.37 458.92L302.39 455.12Z"/>
<path fill="#481467" stroke="#481467" d="M308.40 436.13L308.40 443.73L302.39 447.53L296.37 443.73L296.37 436.13L302.39 432.33Z"/>
<path fill="#440154" stroke="#440154" d="M308.40 413.35L308.40 420.94L302.39 424.74L296.37 420.94L296.37 413.35L302.39 409.55Z"/>
<path fill="#440154" stroke="#440154" d="M308.40 390.56L308.40 398.16L302.39 401.96L296.37 398.16L296.37 390.56L302.39 386.76Z"/>
<path fill="#424086" stroke="#424086" d="M308.40 367.78L308.40 375.37L302.39 379.17L296.37 375.37L296.37 367.78L302.39 363.98Z"/>
<path fill="#3b528b" stroke="#3b528b" d="M308.40 344.99L308.40 352.59L302.39 356.39L296.37 352.59L296.37 344.99L302.39 341.19Z"/>
<path fill="#34618d" stroke="#34618d" d="M308.40 322.21L308.40 329.80L302.39 333.60L296.37 329.80L296.37 322.21L302.39 318.41Z"/>
<path fill="#297b8e" stroke="#297b8e" d="M308.40 299.42L308.40 307.02L302.39 310.82L296.37 307.02L296.37 299.42L302.39 295.62Z"/>
<path fill="#2e6e8e" stroke="#2e6e8e" d="M308.40 276.64L308.40 284.23L302.39 288.03L296.37 284.23L296.37 276.64L302.39 272.84Z"/>
<path fill="#fde725" stroke="#fde725" d="M308.40 253.85L308.40 261.45L302.39 265.25L296.37 261.45L296.37 253.85L302.39 250.05Z"/>
<path fill="#2e6e8e" stroke="#2e6e8e" d="M308.40 231.07L308.40 238.66L302.39 242.46L296.37 238.66L296.37 231.07L302.39 227.27Z"/>
<path fill="#1f948c" stroke="#1f948c" d="M308.40 208.28L308.40 215.88L302.39 219.67L296.37 215.88L296.37 208.28L302.39 204.48Z"/>
<path fill="#297b8e" stroke="#297b8e" d="M308.40 185.50L308.40 193.09L302.39 196.89L296.37 193.09L296.37 185.50L302.39 181.70Z"/>
<path fill="#2e6e8e" stroke="#2e6e8e" d="M308.40 162.71L308.40 170.31L302.39 174.10L296.37 170.31L296.37 162.71L302.39 158.91Z"/>
<path fill="#297b8e" stroke="#297b8e" d="M308.40 139.93L308.40 147.52L302.39 151.32L296.37 147.52L296.37 139.93L302.39 136.13Z"/>
<path fill="#424086" stroke="#424086" d="M308.40 117.14L308.40 124.74L302.39 128.54L296.37 124.74L296.37 117.14L302.39 113.35Z"/>
<path fill="#24878e" stroke="#24878e" d="M308.40 94.36L308.40 101.95L302.39 105.75L296.37 101.95L296.37 94.36L302.39 90.56Z"/>
<path fill="#424086" stroke="#424086" d="M308.40 71.57L308.40 79.17L302.39 82.97L296.37 79.17L296.37 71.57L302.39 67.78Z"/>
<path fill="#481467" stroke="#481467" d="M308.40 48.79L308.40 56.38L302.39 60.18L296.37 56.38L296.37 48.79L302.39 44.99Z"/>
<path fill="#481467" stroke="#481467" d="M308.40 26.00L308.40 33.60L302.39 37.40L296.37 33.60L296.37 26.00L302.39 22.21Z"/>
<path fill="#440154" stroke="#440154" d="M320.43 481.70L320.43 489.30L314.41 493.10L308.40 489.30L308.40 481.70L314.41 477.90Z"/>
<path fill="#440154" stroke="#440154" d="M320.43 458.92L320.43 466.51L314.41 470.31L308.40 466.51L308.40 458.92L314.41 455.12Z"/>
<path fill="#2e6e8e" stroke="#2e6e8e" d="M320.43 390.56L320.43 398.16L314.41 401.96L308.40 398.16L308.40 390.56L314.41 386.76Z"/>
<path fill="#481467" stroke="#481467" d="M320.43 367.78L320.43 375.37L314.41 379.17L308.40 375.37L308.40 367.78L314.41 363.98Z"/>
<path fill="#297b8e" stroke="#297b8e" d="M320.43 344.99L320.43 352.59L314.41 356.39L308.40 352.59L308.40 344.99L314.41 341.19Z"/>
<path fill="#34618d" stroke="#34618d" d="M320.43 322.21L320.43 329.80L314.41 333.60L308.40 329.80L308.40 322.21L314.41 318.41Z"/>
<path fill="#424086" stroke="#424086" d="M320.43 299.42L320.43 307.02L314.41 310.82L308.40 307.02L308.40 299.42L314.41 295.62Z"/>
<path fill="#297b8e" stroke="#297b8e" d="M320.43 276.64L320.43 284.23L314.41 288.03L308.40 284.23L308.40 276.64L314.41 272.84Z"/>
<path fill="#1f948c" stroke="#1f948c" d="M320.43 253.85L320.43 261.45L314.41 265.25L308.40 261.45L308.40 253.85L314.41 250.05Z"/>
<path fill="#1fa188" stroke="#1fa188" d="M320.43 231.07L320.43 238.66L314.41 242.46L308.40 238.66L308.40 231.07L314.41 227.27Z"/>
<path fill="#1f948c" stroke="#1f948c" d="M320.43 208.28L320.43 215.88L314.41 219.67L308.40 215.88L308.40 208.28L314.41 204.48Z"/>
<path fill="#297b8e" stroke="#297b8e" d="M320.43 185.50L320.43 193.09L314.41 196.89L308.40 193.09L308.40 185.50L314.41 181.70Z"/>
<path fill="#34618d" stroke="#34618d" d="M320.43 162.71L320.43 170.31L314.41 174.10L308.40 170.31L308.40 162.71L314.41 158.91Z"/>
<path fill="#424086" stroke="#424086" d="M320.43 139.93L320.43 147.52L314.41 151.32L308.40 147.52L308.40 139.93L314.41 136.13Z"/>
<path fill="#482979" stroke="#482979" d="M320.43 117.14L320.43 124.74L314.41 128.54L308.40 124.74L308.40 117.14L314.41 113.35Z"/>
<path fill="#3b528b" stroke="#3b528b" d="M320.43 94.36L320.43 101.95L314.41 105.75L308.40 101.95L308.40 94.36L314.41 90.56Z"/>
<path fill="#3b528b" stroke="#3b528b" d="M320.43 71.57L320.43 79.17L314.41 82.97L308.40 79.17L308.40 71.57L314.41 67.78Z"/>
<path fill="#424086" stroke="#424086" d="M320.43 26.00L320.43 33.60L314.41 37.40L308.40 33.60L308.40 26.00L314.41 22.21Z"/>
<path fill="#440154" stroke="#440154" d="M332.45 458.92L332.45 466.51L326.44 470.31L320.43 466.51L320.43 458.92L326.44 455.12Z"/>
<path fill="#482979" stroke="#482979" d="M332.45 436.13L332.45 443.73L326.44 447.53L320.43 443.73L320.43 436.13L326.44 432.33Z"/>
<path fill="#481467" stroke="#481467" d="M332.45 413.35L332.45 420.94L326.44 424.74L320.43 420.94L320.43 413.35L326.44 409.55Z"/>
<path fill="#481467" stroke="#481467" d="M332.45 390.56L332.45 398.16L326.44 401.96L320.43 398.16L320.43 390.56L326.44 386.76Z"/>
<path fill="#481467" stroke="#481467" d="M332.45 367.78L332.45 375.37L326.44 379.17L320.43 375.37L320.43 367.78L326.44 363.98Z"/>
<path fill="#481467" stroke="#481467" d="M332.45 344.99L332.45 352.59L326.44 356.39L320.43 352.59L320.43 344.99L326.44 341.19Z"/>
<path fill="#2e6e8e" stroke="#2e6e8e" d="M332.45 322.21L332.45 329.80L326.44 333.60L320.43 329.80L320.43 322.21L326.44 318.41Z"/>
<path fill="#297b8e" stroke="#297b8e" d="M332.45 299.42L332.45 307.02L326.44 310.82L320.43 307.02L320.43 299.42L326.44 295.62Z"/>
<path fill="#b2dd2d" stroke="#b2dd2d" d="M332.45 276.64L332.45 284.23L326.44 288.03L320.43 284.23L320.43 276.64L326.44 272.84Z"/>
<path fill="#6ece58" stroke="#6ece58" d="M332.45 253.85L332.45 261.45L326.44 265.25L320.43 261.45L320.43 253.85L326.44 250.05Z"/>
<path fill="#2e6e8e" stroke="#2e6e8e" d="M332.45 231.07L332.45 238.66L326.44 242.46L320.43 238.66L320.43 231.07L326.44 227.27Z"/>
<path fill="#24878e" stroke="#24878e" d="M332.45 208.28L332.45 215.88L326.44 219.67L320.43 215.88L320.43 208.28L326.44 204.48Z"/>
<path fill="#34618d" stroke="#34618d" d="M332.45 185.50L332.45 193.09L326.44 196.89L320.43 193.09L320.43 185.50L326.44 181.70Z"/>
<path fill="#50c46a" stroke="#50c46a" d="M332.45 162.71L332.45 170.31L326.44 174.10L320.43 170.31L320.43 162.71L326.44 158.91Z"/>
<path fill="#424086" stroke="#424086" d="M332.45 139.93L332.45 147.52L326.44 151.32L320.43 147.52L320.43 139.93L326.44 136.13Z"/>
<path fill="#424086" stroke="#424086" d="M332.45 117.14L332.45 124.74L326.44 128.54L320.43 124.74L320.43 117.14L326.44 113.35Z"/>
<path fill="#481467" stroke="#481467" d="M332.45 94.36L332.45 101.95L326.44 105.75L320.43 101.95L320.43 94.36L326.44 90.56Z"/>
<path fill="#481467" stroke="#481467" d="M332.45 71.57L332.45 79.17L326.44 82.97L320.43 79.17L320.43 71.57L326.44 67.78Z"/>
<path fill="#3b528b" stroke="#3b528b" d="M332.45 26.00L332.45 33.60L326.44 37.40L320.43 33.60L320.43 26.00L326.44 22.21Z"/>
<path fill="#440154" stroke="#440154" d="M344.48 458.92L344.48 466.51L338.46 470.31L332.45 466.51L332.45 458.92L338.46 455.12Z"/>
<path fill="#481467" stroke="#481467" d="M344.48 390.56L344.48 398.16L338.46 401.96L332.45 398.16L332.45 390.56L338.46 386.76Z"/>
<path fill="#424086" stroke="#424086" d="M344.48 367.78L344.48 375.37L338.46 379.17L332.45 375.37L332.45 367.78L338.46 363.98Z"/>
<path fill="#34618d" stroke="#34618d" d="M344.48 344.99L344.48 352.59L338.46 356.39L332.45 352.59L332.45 344.99L338.46 341.19Z"/>
<path fill="#2e6e8e" stroke="#2e6e8e" d="M344.48 322.21L344.48 329.80L338.46 333.60L332.45 329.80L332.45 322.21L338.46 318.41Z"/>
<path fill="#26ad81" stroke="#26ad81" d="M344.48 299.42L344.48 307.02L338.46 310.82L332.45 307.02L332.45 299.42L338.46 295.62Z"/>
<path fill="#24878e" stroke="#24878e" d="M344.48 276.64L344.48 284.23L338.46 288.03L332.45 284.23L332.45 276.64L338.46 272.84Z"/>
<path fill="#24878e" stroke="#24878e" d="M344.48 253.85L344.48 261.45L338.46 265.25L332.45 261.45L332.45 253.85L338.46 250.05Z"/>
<path fill="#34618d" stroke="#34618d" d="M344.48 231.07L344.48 238.66L338.46 242.46L332.45 238.66L332.45 231.07L338.46 227.27Z"/>
<path fill="#24878e" stroke="#24878e" d="M344.48 208.28L344.48 215.88L338.46 219.67L332.45 215.88L332.45 208.28L338.46 204.48Z"/>
<path fill="#26ad81" stroke="#26ad81" d="M344.48 185.50L344.48 193.09L338.46 196.89L332.45 193.09L332.45 185.50L338.46 181.70Z"/>
<path fill="#424086" stroke="#424086" d="M344.48 162.71L344.48 170.31L338.46 174.10L332.45 170.31L332.45 162.71L338.46 158.91Z"/>
<path fill="#3b528b" stroke="#3b528b" d="M344.48 139.93L344.48 147.52L338.46 151.32L332.45 147.52L332.45 139.93L338.46 136.13Z"/>
<path fill="#3b528b" stroke="#3b528b" d="M344.48 117.14L344.48 124.74L338.46 128.54L332.45 124.74L332.45 117.14L338.46 113.35Z"/>
<path fill="#3b528b" stroke="#3b528b" d="M344.48 94.36L344.48 101.95L338.46 105.75L332.45 101.95L332.45 94.36L338.46 90.56Z"/>
<path fill="#440154" stroke="#440154" d="M344.48 71.57L344.48 79.17L338.46 82.97L332.45 79.17L332.45 71.57L338.46 67.78Z"/>
<path fill="#440154" stroke="#440154" d="M344.48 48.79L344.48 56.38L338.46 60.18L332.45 56.38L332.45 48.79L338.46 44.99Z"/>
<path fill="#481467" stroke="#481467" d="M356.50 436.13L356.50 443.73L350.49 447.53L344.48 443.73L344.48 436.13L350.49 432.33Z"/>
<path fill="#482979" stroke="#482979" d="M356.50 413.35L356.50 420.94L350.49 424.74L344.48 420.94L344.48 413.35L350.49 409.55Z"/>
<path fill="#440154" stroke="#440154" d="M356.50 390.56L356.50 398.16L350.49 401.96L344.48 398.16L344.48 390.56L350.49 386.76Z"/>
<path fill="#440154" stroke="#440154" d="M356.50 367.78L356.50 375.37L350.49 379.17L344.48 375.37L344.48 367.78L350.49 363.98Z"/>
<path fill="#34618d" stroke="#34618d" d="M356.50 344.99L356.50 352.59L350.49 356.39L344.48 352.59L344.48 344.99L350.49 341.19Z"/>
<path fill="#34618d" stroke="#34618d" d="M356.50 322.21L356.50 329.80L350.49 333.60L344.48 329.80L344.48 322.21L350.49 318.41Z"/>
<path fill="#297b8e" stroke="#297b8e" d="M356.50 299.42L356.50 307.02L350.49 310.82L344.48 307.02L344.48 299.42L350.49 295.62Z"/>
<path fill="#50c46a" stroke="#50c46a" d="M356.50 276.64L356.50 284.23L350.49 288.03L344.48 284.23L344.48 276.64L350.49 272.84Z"/>
<path fill="#1f948c" stroke="#1f948c" d="M356.50 253.85L356.50 261.45L350.49 265.25L344.48 261.45L344.48 253.85L350.49 250.05Z"/>
<path fill="#26ad81" stroke="#26ad81" d="M356.50 231.07L356.50 238.66L350.49 242.46L344.48 238.66L344.48 231.07L350.49 227.27Z"/>
<path fill="#2e6e8e" stroke="#2e6e8e" d="M356.50 208.28L356.50 215.88L350.49 219.67L344.48 215.88L344.48 208.28L350.49 204.48Z"/>
<path fill="#26ad81" stroke="#26ad81" d="M356.50 185.50L356.50 193.09L350.49 196.89L344.48 193.09L344.48 185.50L350.49 181.70Z"/>
<path fill="#2e6e8e" stroke="#2e6e8e" d="M356.50 162.71L356.50 170.31L350.49 174.10L344.48 170.31L344.48 162.71L350.49 158.91Z"/>
<path fill="#424086" stroke="#424086" d="M356.50 139.93L356.50 147.52L350.49 151.32L344.48 147.52L344.48 139.93L350.49 136.13Z"/>
<path fill="#297b8e" stroke="#297b8e" d="M356.50 117.14L356.50 124.74L350.49 128.54L344.48 124.74L344.48 117.14L350.49 113.35Z"/>
<path fill="#481467" stroke="#481467" d="M356.50 94.36L356.50 101.95L350.49 105.75L344.48 101.95L344.48 94.36L350.49 90.56Z"/>
<path fill="#481467" stroke="#481467" d="M356.50 71.57L356.50 79.17L350.49 82.97L344.48 79.17L344.48 71.57L350.49 67.78Z"/>
<path fill="#481467" stroke="#481467" d="M356.50 26.00L356.50 33.60L350.49 37.40L344.48 33.60L344.48 26.00L350.49 22.21Z"/>
<path fill="#440154" stroke="#440154" d="M368.53 481.70L368.53 489.30L362.52 493.10L356.50 489.30L356.50 481.70L362.52 477.90Z"/>
<path fill="#440154" stroke="#440154" d="M368.53 458.92L368.53 466.51L362.52 470.31L356.50 466.51L356.50 458.92L362.52 455.12Z"/>
<path fill="#440154" stroke="#440154" d="M368.53 436.13L368.53 443.73L362.52 447.53L356.50 443.73L356.50 436.13L362.52 432.33Z"/>
<path fill="#481467" stroke="#481467" d="M368.53 390.56L368.53 398.16L362.52 401.96L356.50 398.16L356.50 390.56L362.52 386.76Z"/>
<path fill="#481467" stroke="#481467" d="M368.53 367.78L368.53 375.37L362.52 379.17L356.50 375.37L356.50 367.78L362.52 363.98Z"/>
<path fill="#424086" stroke="#424086" d="M368.53 344.99L368.53 352.59L362.52 356.39L356.50 352.59L356.50 344.99L362.52 341.19Z"/>
<path fill="#482979" stroke="#482979" d="M368.53 322.21L368.53 329.80L362.52 333.60L356.50 329.80L356.50 322.21L362.52 318.41Z"/>
<path fill="#481467" stroke="#481467" d="M368.53 299.42L368.53 307.02L362.52 310.82L356.50 307.02L356.50 299.42L362.52 295.62Z"/>
<path fill="#297b8e" stroke="#297b8e" d="M368.53 276.64L368.53 284.23L362.52 288.03L356.50 284.23L356.50 276.64L362.52 272.84Z"/>
<path fill="#d5e21a" stroke="#d5e21a" d="M368.53 253.85L368.53 261.45L362.52 265.25L356.50 261.45L356.50 253.85L362.52 250.05Z"/>
<path fill="#2e6e8e" stroke="#2e6e8e" d="M368.53 231.07L368.53 238.66L362.52 242.46L356.50 238.66L356.50 231.07L362.52 227.27Z"/>
<path fill="#1f948c" stroke="#1f948c" d="M368.53 208.28L368.53 215.88L362.52 219.67L356.50 215.88L356.50 208.28L362.52 204.48Z"/>
<path fill="#2e6e8e" stroke="#2e6e8e" d="M368.53 185.50L368.53 193.09L362.52 196.89L356.50 193.09L356.50 185.50L362.52 181.70Z"/>
<path fill="#34618d" stroke="#34618d" d="M368.53 162.71L368.53 170.31L362.52 174.10L356.50 170.31L356.50 162.71L362.52 158.91Z"/>
<path fill="#481467" stroke="#481467" d="M368.53 139.93L368.53 147.52L362.52 151.32L356.50 147.52L356.50 139.93L362.52 136.13Z"/>
<path fill="#424086" stroke="#424086" d="M368.53 117.14L368.53 124.74L362.52 128.54L356.50 124.74L356.50 117.14L362.52 113.35Z"/>
<path fill="#482979" stroke="#482979" d="M368.53 94.36L368.53 101.95L362.52 105.75L356.50 101.95L356.50 94.36L362.52 90.56Z"/>
<path fill="#424086" stroke="#424086" d="M368.53 71.57L368.53 79.17L362.52 82.97L356.50 79.17L356.50 71.57L362.52 67.78Z"/>
<path fill="#481467" stroke="#481467" d="M368.53 26.00L368.53 33.60L362.52 37.40L356.50 33.60L356.50 26.00L362.52 22.21Z"/>
<path fill="#481467" stroke="#481467" d="M380.55 390.56L380.55 398.16L374.54 401.96L368.53 398.16L368.53 390.56L374.54 386.76Z"/>
<path fill="#424086" stroke="#424086" d="M380.55 367.78L380.55 375.37L374.54 379.17L368.53 375.37L368.53 367.78L374.54 363.98Z"/>
<path fill="#424086" stroke="#424086" d="M380.55 344.99L380.55 352.59L374.54 356.39L368.53 352.59L368.53 344.99L374.54 341.19Z"/>
<path fill="#440154" stroke="#440154" d="M380.55 322.21L380.55 329.80L374.54 333.60L368.53 329.80L368.53 322.21L374.54 318.41Z"/>
<path fill="#2e6e8e" stroke="#2e6e8e" d="M380.55 299.42L380.55 307.02L374.54 310.82L368.53 307.02L368.53 299.42L374.54 295.62Z"/>
<path fill="#424086" stroke="#424086" d="M380.55 276.64L380.55 284.23L374.54 288.03L368.53 284.23L368.53 276.64L374.54 272.84Z"/>
<path fill="#24878e" stroke="#24878e" d="M380.55 253.85L380.55 261.45L374.54 265.25L368.53 261.45L368.53 253.85L374.54 250.05Z"/>
<path fill="#3b528b" stroke="#3b528b" d="M380.55 231.07L380.55 238.66L374.54 242.46L368.53 238.66L368.53 231.07L374.54 227.27Z"/>
<path fill="#34618d" stroke="#34618d" d="M380.55 208.28L380.55 215.88L374.54 219.67L368.53 215.88L368.53 208.28L374.54 204.48Z"/>
<path fill="#34618d" stroke="#34618d" d="M380.55 185.50L380.55 193.09L374.54 196.89L368.53 193.09L368.53 185.50L374.54 181.70Z"/>
<path fill="#482979" stroke="#482979" d="M380.55 162.71L380.55 170.31L374.54 174.10L368.53 170.31L368.53 162.71L374.54 158.91Z"/>
<path fill="#481467" stroke="#481467" d="M380.55 139.93L380.55 147.52L374.54 151.32L368.53 147.52L368.53 139.93L374.54 136.13Z"/>
<path fill="#424086" stroke="#424086" d="M380.55 117.14L380.55 124.74L374.54 128.54L368.53 124.74L368.53 117.14L374.54 113.35Z"/>
<path fill="#482979" stroke="#482979" d="M380.55 71.57L380.55 79.17L374.54 82.97L368.53 79.17L368.53 71.57L374.54 67.78Z"/>
<path fill="#481467" stroke="#481467" d="M380.55 48.79L380.55 56.38L374.54 60.18L368.53 56.38L368.53 48.79L374.54 44.99Z"/>
<path fill="#481467" stroke="#481467" d="M380.55 26.00L380.55 33.60L374.54 37.40L368.53 33.60L368.53 26.00L374.54 22.21Z"/>
<path fill="#482979" stroke="#482979" d="M392.58 413.35L392.58 420.94L386.57 424.74L380.55 420.94L380.55 413.35L386.57 409.55Z"/>
<path fill="#481467" stroke="#481467" d="M392.58 390.56L392.58 398.16L386.57 401.96L380.55 398.16L380.55 390.56L386.57 386.76Z"/>
<path fill="#481467" stroke="#481467" d="M392.58 367.78L392.58 375.37L386.57 379.17L380.55 375.37L380.55 367.78L386.57 363.98Z"/>
<path fill="#424086" stroke="#424086" d="M392.58 344.99L392.58 352.59L386.57 356.39L380.55 352.59L380.55 344.99L386.57 341.19Z"/>
<path fill="#26ad81" stroke="#26ad81" d="M392.58 322.21L392.58 329.80L386.57 333.60L380.55 329.80L380.55 322.21L386.57 318.41Z"/>
<path fill="#297b8e" stroke="#297b8e" d="M392.58 299.42L392.58 307.02L386.57 310.82L380.55 307.02L380.55 299.42L386.57 295.62Z"/>
<path fill="#24878e" stroke="#24878e" d="M392.58 276.64L392.58 284.23L386.57 288.03L380.55 284.23L380.55 276.64L386.57 272.84Z"/>
<path fill="#34618d" stroke="#34618d" d="M392.58 253.85L392.58 261.45L386.57 265.25L380.55 261.45L380.55 253.85L386.57 250.05Z"/>
<path fill="#6ece58" stroke="#6ece58" d="M392.58 231.07L392.58 238.66L386.57 242.46L380.55 238.66L380.55 231.07L386.57 227.27Z"/>
<path fill="#3b528b" stroke="#3b528b" d="M392.58 208.28L392.58 215.88L386.57 219.67L380.55 215.88L380.55 208.28L386.57 204.48Z"/>
<path fill="#24878e" stroke="#24878e" d="M392.58 185.50L392.58 193.09L386.57 196.89L380.55 193.09L380.55 185.50L386.57 181.70Z"/>
<path fill="#424086" stroke="#424086" d="M392.58 162.71L392.58 170.31L386.57 174.10L380.55 170.31L380.55 162.71L386.57 158.91Z"/>
<path fill="#424086" stroke="#424086" d="M392.58 139.93L392.58 147.52L386.57 151.32L380.55 147.52L380.55 139.93L386.57 136.13Z"/>
<path fill="#482979" stroke="#482979" d="M392.58 117.14L392.58 124.74L386.57 128.54L380.55 124.74L380.55 117.14L386.57 113.35Z"/>
<path fill="#440154" stroke="#440154" d="M392.58 94.36L392.58 101.95L386.57 105.75L380.55 101.95L380.55 94.36L386.57 90.56Z"/>
<path fill="#481467" stroke="#481467" d="M392.58 71.57L392.58 79.17L386.57 82.97L380.55 79.17L380.55 71.57L386.57 67.78Z"/>
<path fill="#440154" stroke="#440154" d="M392.58 48.79L392.58 56.38L386.57 60.18L380.55 56.38L380.55 48.79L386.57 44.99Z"/>
<path fill="#481467" stroke="#481467" d="M392.58 26.00L392.58 33.60L386.57 37.40L380.55 33.60L380.55 26.00L386.57 22.21Z"/>
<path fill="#440154" stroke="#440154" d="M404.61 481.70L404.61 489.30L398.59 493.10L392.58 489.30L392.58 481.70L398.59 477.90Z"/>
<path fill="#440154" stroke="#440154" d="M404.61 413.35L404.61 420.94L398.59 424.74L392.58 420.94L392.58 413.35L398.59 409.55Z"/>
<path fill="#440154" stroke="#440154" d="M404.61 390.56L404.61 398.16L398.59 401.96L392.58 398.16L392.58 390.56L398.59 386.76Z"/>
<path fill="#440154" stroke="#440154" d="M404.61 367.78L404.61 375.37L398.59 379.17L392.58 375.37L392.58 367.78L398.59 363.98Z"/>
<path fill="#424086" stroke="#424086" d="M404.61 344.99L404.61 352.59L398.59 356.39L392.58 352.59L392.58 344.99L398.59 341.19Z"/>
<path fill="#424086" stroke="#424086" d="M404.61 322.21L404.61 329.80L398.59 333.60L392.58 329.80L392.58 322.21L398.59 318.41Z"/>
<path fill="#424086" stroke="#424086" d="M404.61 299.42L404.61 307.02L398.59 310.82L392.58 307.02L392.58 299.42L398.59 295.62Z"/>
<path fill="#2e6e8e" stroke="#2e6e8e" d="M404.61 276.64L404.61 284.23L398.59 288.03L392.58 284.23L392.58 276.64L398.59 272.84Z"/>
<path fill="#34618d" stroke="#34618d" d="M404.61 253.85L404.61 261.45L398.59 265.25L392.58 261.45L392.58 253.85L398.59 250.05Z"/>
<path fill="#1fa188" stroke="#1fa188" d="M404.61 231.07L404.61 238.66L398.59 242.46L392.58 238.66L392.58 231.07L398.59 227.27Z"/>
<path fill="#424086" stroke="#424086" d="M404.61 208.28L404.61 215.88L398.59 219.67L392.58 215.88L392.58 208.28L398.59 204.48Z"/>
<path fill="#3b528b" stroke="#3b528b" d="M404.61 185.50L404.61 193.09L398.59 196.89L392.58 193.09L392.58 185.50L398.59 181.70Z"/>
<path fill="#482979" stroke="#482979" d="M404.61 162.71L404.61 170.31L398.59 174.10L392.58 170.31L392.58 162.71L398.59 158.91Z"/>
<path fill="#481467" stroke="#481467" d="M404.61 139.93L404.61 147.52L398.59 151.32L392.58 147.52L392.58 139.93L398.59 136.13Z"/>
<path fill="#482979" stroke="#482979" d="M404.61 117.14L404.61 124.74L398.59 128.54L392.58 124.74L392.58 117.14L398.59 113.35Z"/>
<path fill="#440154" stroke="#440154" d="M404.61 71.57L404.61 79.17L398.59 82.97L392.58 79.17L392.58 71.57L398.59 67.78Z"/>
<path fill="#482979" stroke="#482979" d="M404.61 48.79L404.61 56.38L398.59 60.18L392.58 56.38L392.58 48.79L398.59 44.99Z"/>
<path fill="#440154" stroke="#440154" d="M404.61 26.00L404.61 33.60L398.59 37.40L392.58 33.60L392.58 26.00L398.59 22.21Z"/>
<path fill="#481467" stroke="#481467" d="M416.63 481.70L416.63 489.30L410.62 493.10L404.61 489.30L404.61 481.70L410.62 477.90Z"/>
<path fill="#481467" stroke="#481467" d="M416.63 390.56L416.63 398.16L410.62 401.96L404.61 398.16L404.61 390.56L410.62 386.76Z"/>
<path fill="#424086" stroke="#424086" d="M416.63 367.78L416.63 375.37L410.62 379.17L404.61 375.37L404.61 367.78L410.62 363.98Z"/>
<path fill="#424086" stroke="#424086" d="M416.63 344.99L416.63 352.59L410.62 356.39L404.61 352.59L404.61 344.99L410.62 341.19Z"/>
<path fill="#482979" stroke="#482979" d="M416.63 322.21L416.63 329.80L410.62 333.60L404.61 329.80L404.61 322.21L410.62 318.41Z"/>
<path fill="#481467" stroke="#481467" d="M416.63 299.42L416.63 307.02L410.62 310.82L404.61 307.02L404.61 299.42L410.62 295.62Z"/>
<path fill="#424086" stroke="#424086" d="M416.63 276.64L416.63 284.23L410.62 288.03L404.61 284.23L404.61 276.64L410.62 272.84Z"/>
<path fill="#34618d" stroke="#34618d" d="M416.63 253.85L416.63 261.45L410.62 265.25L404.61 261.45L404.61 253.85L410.62 250.05Z"/>
<path fill="#424086" stroke="#424086" d="M416.63 231.07L416.63 238.66L410.62 242.46L404.61 238.66L404.61 231.07L410.62 227.27Z"/>
<path fill="#3b528b" stroke="#3b528b" d="M416.63 208.28L416.63 215.88L410.62 219.67L404.61 215.88L404.61 208.28L410.62 204.48Z"/>
<path fill="#424086" stroke="#424086" d="M416.63 185.50L416.63 193.09L410.62 196.89L404.61 193.09L404.61 185.50L410.62 181.70Z"/>
<path fill="#482979" stroke="#482979" d="M416.63 162.71L416.63 170.31L410.62 174.10L404.61 170.31L404.61 162.71L410.62 158.91Z"/>
<path fill="#3b528b" stroke="#3b528b" d="M416.63 139.93L416.63 147.52L410.62 151.32L404.61 147.52L404.61 139.93L410.62 136.13Z"/>
<path fill="#482979" stroke="#482979" d="M416.63 117.14L416.63 124.74L410.62 128.54L404.61 124.74L404.61 117.14L410.62 113.35Z"/>
<path fill="#481467" stroke="#481467" d="M416.63 71.57L416.63 79.17L410.62 82.97L404.61 79.17L404.61 71.57L410.62 67.78Z"/>
<path fill="#440154" stroke="#440154" d="M416.63 48.79L416.63 56.38L410.62 60.18L404.61 56.38L404.61 48.79L410.62 44.99Z"/>
<path fill="#424086" stroke="#424086" d="M416.63 26.00L416.63 33.60L410.62 37.40L404.61 33.60L404.61 26.00L410.62 22.21Z"/>
<path fill="#481467" stroke="#481467" d="M428.66 481.70L428.66 489.30L422.64 493.10L416.63 489.30L416.63 481.70L422.64 477.90Z"/>
<path fill="#440154" stroke="#440154" d="M428.66 458.92L428.66 466.51L422.64 470.31L416.63 466.51L416.63 458.92L422.64 455.12Z"/>
<path fill="#440154" stroke="#440154" d="M428.66 413.35L428.66 420.94L422.64 424.74L416.63 420.94L416.63 413.35L422.64 409.55Z"/>
<path fill="#440154" stroke="#440154" d="M428.66 390.56L428.66 398.16L422.64 401.96L416.63 398.16L416.63 390.56L422.64 386.76Z"/>
<path fill="#440154" stroke="#440154" d="M428.66 367.78L428.66 375.37L422.64 379.17L416.63 375.37L416.63 367.78L422.64 363.98Z"/>
<path fill="#482979" stroke="#482979" d="M428.66 344.99L428.66 352.59L422.64 356.39L416.63 352.59L416.63 344.99L422.64 341.19Z"/>
<path fill="#482979" stroke="#482979" d="M428.66 322.21L428.66 329.80L422.64 333.60L416.63 329.80L416.63 322.21L422.64 318.41Z"/>
<path fill="#34618d" stroke="#34618d" d="M428.66 299.42L428.66 307.02L422.64 310.82L416.63 307.02L416.63 299.42L422.64 295.62Z"/>
<path fill="#424086" stroke="#424086" d="M428.66 276.64L428.66 284.23L422.64 288.03L416.63 284.23L416.63 276.64L422.64 272.84Z"/>
<path fill="#3b528b" stroke="#3b528b" d="M428.66 253.85L428.66 261.45L422.64 265.25L416.63 261.45L416.63 253.85L422.64 250.05Z"/>
<path fill="#34618d" stroke="#34618d" d="M428.66 231.07L428.66 238.66L422.64 242.46L416.63 238.66L416.63 231.07L422.64 227.27Z"/>
<path fill="#24878e" stroke="#24878e" d="M428.66 208.28L428.66 215.88L422.64 219.67L416.63 215.88L416.63 208.28L422.64 204.48Z"/>
<path fill="#424086" stroke="#424086" d="M428.66 185.50L428.66 193.09L422.64 196.89L416.63 193.09L416.63 185.50L422.64 181.70Z"/>
<path fill="#34618d" stroke="#34618d" d="M428.66 162.71L428.66 170.31L422.64 174.10L416.63 170.31L416.63 162.71L422.64 158.91Z"/>
<path fill="#482979" stroke="#482979" d="M428.66 139.93L428.66 147.52L422.64 151.32L416.63 147.52L416.63 139.93L422.64 136.13Z"/>
<path fill="#482979" stroke="#482979" d="M428.66 117.14L428.66 124.74L422.64 128.54L416.63 124.74L416.63 117.14L422.64 113.35Z"/>
<path fill="#481467" stroke="#481467" d="M428.66 94.36L428.66 101.95L422.64 105.75L416.63 101.95L416.63 94.36L422.64 90.56Z"/>
<path fill="#482979" stroke="#482979" d="M428.66 48.79L428.66 56.38L422.64 60.18L416.63 56.38L416.63 48.79L422.64 44.99Z"/>
<path fill="#481467" stroke="#481467" d="M428.66 26.00L428.66 33.60L422.64 37.40L416.63 33.60L416.63 26.00L422.64 22.21Z"/>
<path fill="#440154" stroke="#440154" d="M440.68 390.56L440.68 398.16L434.67 401.96L428.66 398.16L428.66 390.56L434.67 386.76Z"/>
<path fill="#440154" stroke="#440154" d="M440.68 367.78L440.68 375.37L434.67 379.17L428.66 375.37L428.66 367.78L434.67 363.98Z"/>
<path fill="#482979" stroke="#482979" d="M440.68 344.99L440.68 352.59L434.67 356.39L428.66 352.59L428.66 344.99L434.67 341.19Z"/>
<path fill="#482979" stroke="#482979" d="M440.68 322.21L440.68 329.80L434.67 333.60L428.66 329.80L428.66 322.21L434.67 318.41Z"/>
<path fill="#424086" stroke="#424086" d="M440.68 299.42L440.68 307.02L434.67 310.82L428.66 307.02L428.66 299.42L434.67 295.62Z"/>
<path fill="#481467" stroke="#481467" d="M440.68 276.64L440.68 284.23L434.67 288.03L428.66 284.23L428.66 276.64L434.67 272.84Z"/>
<path fill="#424086" stroke="#424086" d="M440.68 253.85L440.68 261.45L434.67 265.25L428.66 261.45L428.66 253.85L434.67 250.05Z"/>
<path fill="#34618d" stroke="#34618d" d="M440.68 231.07L440.68 238.66L434.67 242.46L428.66 238.66L428.66 231.07L434.67 227.27Z"/>
<path fill="#424086" stroke="#424086" d="M440.68 208.28L440.68 215.88L434.67 219.67L428.66 215.88L428.66 208.28L434.67 204.48Z"/>
<path fill="#424086" stroke="#424086" d="M440.68 185.50L440.68 193.09L434.67 196.89L428.66 193.09L428.66 185.50L434.67 181.70Z"/>
<path fill="#482979" stroke="#482979" d="M440.68 162.71L440.68 170.31L434.67 174.10L428.66 170.31L428.66 162.71L434.67 158.91Z"/>
<path fill="#481467" stroke="#481467" d="M440.68 139.93L440.68 147.52L434.67 151.32L428.66 147.52L428.66 139.93L434.67 136.13Z"/>
<path fill="#481467" stroke="#481467" d="M440.68 117.14L440.68 124.74L434.67 128.54L428.66 124.74L428.66 117.14L434.67 113.35Z"/>
<path fill="#481467" stroke="#481467" d="M440.68 94.36L440.68 101.95L434.67 105.75L428.66 101.95L428.66 94.36L434.67 90.56Z"/>
<path fill="#481467" stroke="#481467" d="M440.68 71.57L440.68 79.17L434.67 82.97L428.66 79.17L428.66 71.57L434.67 67.78Z"/>
<path fill="#481467" stroke="#481467" d="M440.68 26.00L440.68 33.60L434.67 37.40L428.66 33.60L428.66 26.00L434.67 22.21Z"/>
<path fill="#481467" stroke="#481467" d="M452.71 481.70L452.71 489.30L446.70 493.10L440.68 489.30L440.68 481.70L446.70 477.90Z"/>
<path fill="#481467" stroke="#481467" d="M452.71 436.13L452.71 443.73L446.70 447.53L440.68 443.73L440.68 436.13L446.70 432.33Z"/>
<path fill="#481467" stroke="#481467" d="M452.71 413.35L452.71 420.94L446.70 424.74L440.68 420.94L440.68 413.35L446.70 409.55Z"/>
<path fill="#440154" stroke="#440154" d="M452.71 390.56L452.71 398.16L446.70 401.96L440.68 398.16L440.68 390.56L446.70 386.76Z"/>
<path fill="#440154" stroke="#440154" d="M452.71 367.78L452.71 375.37L446.70 379.17L440.68 375.37L440.68 367.78L446.70 363.98Z"/>
<path fill="#440154" stroke="#440154" d="M452.71 344.99L452.71 352.59L446.70 356.39L440.68 352.59L440.68 344.99L446.70 341.19Z"/>
<path fill="#482979" stroke="#482979" d="M452.71 299.42L452.71 307.02L446.70 310.82L440.68 307.02L440.68 299.42L446.70 295.62Z"/>
<path fill="#3b528b" stroke="#3b528b" d="M452.71 276.64L452.71 284.23L446.70 288.03L440.68 284.23L440.68 276.64L446.70 272.84Z"/>
<path fill="#424086" stroke="#424086" d="M452.71 253.85L452.71 261.45L446.70 265.25L440.68 261.45L440.68 253.85L446.70 250.05Z"/>
<path fill="#424086" stroke="#424086" d="M452.71 208.28L452.71 215.88L446.70 219.67L440.68 215.88L440.68 208.28L446.70 204.48Z"/>
<path fill="#3b528b" stroke="#3b528b" d="M452.71 185.50L452.71 193.09L446.70 196.89L440.68 193.09L440.68 185.50L446.70 181.70Z"/>
<path fill="#424086" stroke="#424086" d="M452.71 162.71L452.71 170.31L446.70 174.10L440.68 170.31L440.68 162.71L446.70 158.91Z"/>
<path fill="#440154" stroke="#440154" d="M452.71 139.93L452.71 147.52L446.70 151.32L440.68 147.52L440.68 139.93L446.70 136.13Z"/>
<path fill="#440154" stroke="#440154" d="M452.71 26.00L452.71 33.60L446.70 37.40L440.68 33.60L440.68 26.00L446.70 22.21Z"/>
<path fill="#440154" stroke="#440154" d="M464.73 436.13L464.73 443.73L458.72 447.53L452.71 443.73L452.71 436.13L458.72 432.33Z"/>
<path fill="#440154" stroke="#440154" d="M464.73 367.78L464.73 375.37L458.72 379.17L452.71 375.37L452.71 367.78L458.72 363.98Z"/>
<path fill="#424086" stroke="#424086" d="M464.73 344.99L464.73 352.59L458.72 356.39L452.71 352.59L452.71 344.99L458.72 341.19Z"/>
<path fill="#482979" stroke="#482979" d="M464.73 322.21L464.73 329.80L458.72 333.60L452.71 329.80L452.71 322.21L458.72 318.41Z"/>
<path fill="#482979" stroke="#482979" d="M464.73 299.42L464.73 307.02L458.72 310.82L452.71 307.02L452.71 299.42L458.72 295.62Z"/>
<path fill="#482979" stroke="#482979" d="M464.73 276.64L464.73 284.23L458.72 288.03L452.71 284.23L452.71 276.64L458.72 272.84Z"/>
<path fill="#482979" stroke="#482979" d="M464.73 253.85L464.73 261.45L458.72 265.25L452.71 261.45L452.71 253.85L458.72 250.05Z"/>
<path fill="#424086" stroke="#424086" d="M464.73 231.07L464.73 238.66L458.72 242.46L452.71 238.66L452.71 231.07L458.72 227.27Z"/>
<path fill="#34618d" stroke="#34618d" d="M464.73 208.28L464.73 215.88L458.72 219.67L452.71 215.88L452.71 208.28L458.72 204.48Z"/>
<path fill="#440154" stroke="#440154" d="M464.73 185.50L464.73 193.09L458.72 196.89L452.71 193.09L452.71 185.50L458.72 181.70Z"/>
<path fill="#424086" stroke="#424086" d="M464.73 162.71L464.73 170.31L458.72 174.10L452.71 170.31L452.71 162.71L458.72 158.91Z"/>
<path fill="#482979" stroke="#482979" d="M464.73 139.93L464.73 147.52L458.72 151.32L452.71 147.52L452.71 139.93L458.72 136.13Z"/>
<path fill="#440154" stroke="#440154" d="M464.73 117.14L464.73 124.74L458.72 128.54L452.71 124.74L452.71 117.14L458.72 113.35Z"/>
<path fill="#440154" stroke="#440154" d="M464.73 94.36L464.73 101.95L458.72 105.75L452.71 101.95L452.71 94.36L458.72 90.56Z"/>
<path fill="#440154" stroke="#440154" d="M464.73 26.00L464.73 33.60L458.72 37.40L452.71 33.60L452.71 26.00L458.72 22.21Z"/>
<path fill="#482979" stroke="#482979" d="M476.76 367.78L476.76 375.37L470.75 379.17L464.73 375.37L464.73 367.78L470.75 363.98Z"/>
<path fill="#440154" stroke="#440154" d="M476.76 344.99L476.76 352.59L470.75 356.39L464.73 352.59L464.73 344.99L470.75 341.19Z"/>
<path fill="#481467" stroke="#481467" d="M476.76 322.21L476.76 329.80L470.75 333.60L464.73 329.80L464.73 322.21L470.75 318.41Z"/>
<path fill="#440154" stroke="#440154" d="M476.76 299.42L476.76 307.02L470.75 310.82L464.73 307.02L464.73 299.42L470.75 295.62Z"/>
<path fill="#482979" stroke="#482979" d="M476.76 276.64L476.76 284.23L470.75 288.03L464.73 284.23L464.73 276.64L470.75 272.84Z"/>
<path fill="#440154" stroke="#440154" d="M476.76 253.85L476.76 261.45L470.75 265.25L464.73 261.45L464.73 253.85L470.75 250.05Z"/>
<path fill="#482979" stroke="#482979" d="M476.76 231.07L476.76 238.66L470.75 242.46L464.73 238.66L464.73 231.07L470.75 227.27Z"/>
<path fill="#481467" stroke="#481467" d="M476.76 208.28L476.76 215.88L470.75 219.67L464.73 215.88L464.73 208.28L470.75 204.48Z"/>
<path fill="#481467" stroke="#481467" d="M476.76 185.50L476.76 193.09L470.75 196.89L464.73 193.09L464.73 185.50L470.75 181.70Z"/>
<path fill="#481467" stroke="#481467" d="M476.76 162.71L476.76 170.31L470.75 174.10L464.73 170.31L464.73 162.71L470.75 158.91Z"/>
<path fill="#440154" stroke="#440154" d="M476.76 117.14L476.76 124.74L470.75 128.54L464.73 124.74L464.73 117.14L470.75 113.35Z"/>
<path fill="#481467" stroke="#481467" d="M476.76 94.36L476.76 101.95L470.75 105.75L464.73 101.95L464.73 94.36L470.75 90.56Z"/>
<path fill="#440154" stroke="#440154" d="M476.76 48.79L476.76 56.38L470.75 60.18L464.73 56.38L464.73 48.79L470.75 44.99Z"/>
<path fill="#440154" stroke="#440154" d="M488.79 413.35L488.79 420.94L482.77 424.74L476.76 420.94L476.76 413.35L482.77 409.55Z"/>
<path fill="#481467" stroke="#481467" d="M488.79 367.78L488.79 375.37L482.77 379.17L476.76 375.37L476.76 367.78L482.77 363.98Z"/>
<path fill="#440154" stroke="#440154" d="M488.79 344.99L488.79 352.59L482.77 356.39L476.76 352.59L476.76 344.99L482.77 341.19Z"/>
<path fill="#482979" stroke="#482979" d="M488.79 322.21L488.79 329.80L482.77 333.60L476.76 329.80L476.76 322.21L482.77 318.41Z"/>
<path fill="#481467" stroke="#481467" d="M488.79 299.42L488.79 307.02L482.77 310.82L476.76 307.02L476.76 299.42L482.77 295.62Z"/>
<path fill="#482979" stroke="#482979" d="M488.79 276.64L488.79 284.23L482.77 288.03L476.76 284.23L476.76 276.64L482.77 272.84Z"/>
<path fill="#440154" stroke="#440154" d="M488.79 253.85L488.79 261.45L482.77 265.25L476.76 261.45L476.76 253.85L482.77 250.05Z"/>
<path fill="#481467" stroke="#481467" d="M488.79 231.07L488.79 238.66L482.77 242.46L476.76 238.66L476.76 231.07L482.77 227.27Z"/>
<path fill="#481467" stroke="#481467" d="M488.79 208.28L488.79 215.88L482.77 219.67L476.76 215.88L476.76 208.28L482.77 204.48Z"/>
<path fill="#3b528b" stroke="#3b528b" d="M488.79 162.71L488.79 170.31L482.77 174.10L476.76 170.31L476.76 162.71L482.77 158.91Z"/>
<path fill="#440154" stroke="#440154" d="M488.79 71.57L488.79 79.17L482.77 82.97L476.76 79.17L476.76 71.57L482.77 67.78Z"/>
<path fill="#481467" stroke="#481467" d="M488.79 48.79L488.79 56.38L482.77 60.18L476.76 56.38L476.76 48.79L482.77 44.99Z"/>
<path fill="#440154" stroke="#440154" d="M500.81 458.92L500.81 466.51L494.80 470.31L488.79 466.51L488.79 458.92L494.80 455.12Z"/>
<path fill="#440154" stroke="#440154" d="M500.81 390.56L500.81 398.16L494.80 401.96L488.79 398.16L488.79 390.56L494.80 386.76Z"/>
<path fill="#440154" stroke="#440154" d="M500.81 344.99L500.81 352.59L494.80 356.39L488.79 352.59L488.79 344.99L494.80 341.19Z"/>
<path fill="#440154" stroke="#440154" d="M500.81 322.21L500.81 329.80L494.80 333.60L488.79 329.80L488.79 322.21L494.80 318.41Z"/>
<path fill="#481467" stroke="#481467" d="M500.81 299.42L500.81 307.02L494.80 310.82L488.79 307.02L488.79 299.42L494.80 295.62Z"/>
<path fill="#481467" stroke="#481467" d="M500.81 253.85L500.81 261.45L494.80 265.25L488.79 261.45L488.79 253.85L494.80 250.05Z"/>
<path fill="#481467" stroke="#481467" d="M500.81 231.07L500.81 238.66L494.80 242.46L488.79 238.66L488.79 231.07L494.80 227.27Z"/>
<path fill="#481467" stroke="#481467" d="M500.81 208.28L500.81 215.88L494.80 219.67L488.79 215.88L488.79 208.28L494.80 204.48Z"/>
<path fill="#440154" stroke="#440154" d="M500.81 185.50L500.81 193.09L494.80 196.89L488.79 193.09L488.79 185.50L494.80 181.70Z"/>
<path fill="#482979" stroke="#482979" d="M500.81 162.71L500.81 170.31L494.80 174.10L488.79 170.31L488.79 162.71L494.80 158.91Z"/>
<path fill="#482979" stroke="#482979" d="M500.81 139.93L500.81 147.52L494.80 151.32L488.79 147.52L488.79 139.93L494.80 136.13Z"/>
<path fill="#482979" stroke="#482979" d="M500.81 117.14L500.81 124.74L494.80 128.54L488.79 124.74L488.79 117.14L494.80 113.35Z"/>
<path fill="#440154" stroke="#440154" d="M500.81 48.79L500.81 56.38L494.80 60.18L488.79 56.38L488.79 48.79L494.80 44.99Z"/>
<path fill="#440154" stroke="#440154" d="M512.84 390.56L512.84 398.16L506.82 401.96L500.81 398.16L500.81 390.56L506.82 386.76Z"/>
<path fill="#481467" stroke="#481467" d="M512.84 322.21L512.84 329.80L506.82 333.60L500.81 329.80L500.81 322.21L506.82 318.41Z"/>
<path fill="#440154" stroke="#440154" d="M512.84 299.42L512.84 307.02L506.82 310.82L500.81 307.02L500.81 299.42L506.82 295.62Z"/>
<path fill="#481467" stroke="#481467" d="M512.84 253.85L512.84 261.45L506.82 265.25L500.81 261.45L500.81 253.85L506.82 250.05Z"/>
<path fill="#440154" stroke="#440154" d="M512.84 231.07L512.84 238.66L506.82 242.46L500.81 238.66L500.81 231.07L506.82 227.27Z"/>
<path fill="#481467" stroke="#481467" d="M512.84 208.28L512.84 215.88L506.82 219.67L500.81 215.88L500.81 208.28L506.82 204.48Z"/>
<path fill="#481467" stroke="#481467" d="M512.84 185.50L512.84 193.09L506.82 196.89L500.81 193.09L500.81 185.50L506.82 181.70Z"/>
<path fill="#481467" stroke="#481467" d="M512.84 162.71L512.84 170.31L506.82 174.10L500.81 170.31L500.81 162.71L506.82 158.91Z"/>
<path fill="#481467" stroke="#481467" d="M512.84 139.93L512.84 147.52L506.82 151.32L500.81 147.52L500.81 139.93L506.82 136.13Z"/>
<path fill="#440154" stroke="#440154" d="M512.84 94.36L512.84 101.95L506.82 105.75L500.81 101.95L500.81 94.36L506.82 90.56Z"/>
<path fill="#440154" stroke="#440154" d="M512.84 71.57L512.84 79.17L506.82 82.97L500.81 79.17L500.81 71.57L506.82 67.78Z"/>
<path fill="#440154" stroke="#440154" d="M512.84 48.79L512.84 56.38L506.82 60.18L500.81 56.38L500.81 48.79L506.82 44.99Z"/>
<path fill="#440154" stroke="#440154" d="M524.86 481.70L524.86 489.30L518.85 493.10L512.84 489.30L512.84 481.70L518.85 477.90Z"/>
<path fill="#440154" stroke="#440154" d="M524.86 458.92L524.86 466.51L518.85 470.31L512.84 466.51L512.84 458.92L518.85 455.12Z"/>
<path fill="#481467" stroke="#481467" d="M524.86 390.56L524.86 398.16L518.85 401.96L512.84 398.16L512.84 390.56L518.85 386.76Z"/>
<path fill="#481467" stroke="#481467" d="M524.86 367.78L524.86 375.37L518.85 379.17L512.84 375.37L512.84 367.78L518.85 363.98Z"/>
<path fill="#424086" stroke="#424086" d="M524.86 344.99L524.86 352.59L518.85 356.39L512.84 352.59L512.84 344.99L518.85 341.19Z"/>
<path fill="#24878e" stroke="#24878e" d="M524.86 322.21L524.86 329.80L518.85 333.60L512.84 329.80L512.84 322.21L518.85 318.41Z"/>
<path fill="#424086" stroke="#424086" d="M524.86 299.42L524.86 307.02L518.85 310.82L512.84 307.02L512.84 299.42L518.85 295.62Z"/>
<path fill="#3b528b" stroke="#3b528b" d="M524.86 276.64L524.86 284.23L518.85 288.03L512.84 284.23L512.84 276.64L518.85 272.84Z"/>
<path fill="#1f948c" stroke="#1f948c" d="M524.86 253.85L524.86 261.45L518.85 265.25L512.84 261.45L512.84 253.85L518.85 250.05Z"/>
<path fill="#3b528b" stroke="#3b528b" d="M524.86 231.07L524.86 238.66L518.85 242.46L512.84 238.66L512.84 231.07L518.85 227.27Z"/>
<path fill="#424086" stroke="#424086" d="M524.86 208.28L524.86 215.88L518.85 219.67L512.84 215.88L512.84 208.28L518.85 204.48Z"/>
<path fill="#482979" stroke="#482979" d="M524.86 185.50L524.86 193.09L518.85 196.89L512.84 193.09L512.84 185.50L518.85 181.70Z"/>
<path fill="#482979" stroke="#482979" d="M524.86 162.71L524.86 170.31L518.85 174.10L512.84 170.31L512.84 162.71L518.85 158.91Z"/>
<path fill="#1f948c" stroke="#1f948c" d="M524.86 139.93L524.86 147.52L518.85 151.32L512.84 147.52L512.84 139.93L518.85 136.13Z"/>
<path fill="#424086" stroke="#424086" d="M524.86 117.14L524.86 124.74L518.85 128.54L512.84 124.74L512.84 117.14L518.85 113.35Z"/>
<path fill="#482979" stroke="#482979" d="M524.86 94.36L524.86 101.95L518.85 105.75L512.84 101.95L512.84 94.36L518.85 90.56Z"/>
<path fill="#482979" stroke="#482979" d="M524.86 71.57L524.86 79.17L518.85 82.97L512.84 79.17L512.84 71.57L518.85 67.78Z"/>
<path fill="#440154" stroke="#440154" d="M524.86 26.00L524.86 33.60L518.85 37.40L512.84 33.60L512.84 26.00L518.85 22.21Z"/>
<path fill="#440154" stroke="#440154" d="M109.98 447.52L109.98 455.12L103.96 458.92L97.95 455.12L97.95 447.52L103.96 443.73Z"/>
<path fill="#424086" stroke="#424086" d="M109.98 424.74L109.98 432.34L103.96 436.13L97.95 432.34L97.95 424.74L103.96 420.94Z"/>
<path fill="#440154" stroke="#440154" d="M109.98 401.95L109.98 409.55L103.96 413.35L97.95 409.55L97.95 401.95L103.96 398.16Z"/>
<path fill="#440154" stroke="#440154" d="M109.98 379.17L109.98 386.77L103.96 390.56L97.95 386.77L97.95 379.17L103.96 375.37Z"/>
<path fill="#481467" stroke="#481467" d="M109.98 356.38L109.98 363.98L103.96 367.78L97.95 363.98L97.95 356.38L103.96 352.59Z"/>
<path fill="#481467" stroke="#481467" d="M109.98 333.60L109.98 341.20L103.96 344.99L97.95 341.20L97.95 333.60L103.96 329.80Z"/>
<path fill="#424086" stroke="#424086" d="M109.98 310.81L109.98 318.41L103.96 322.21L97.95 318.41L97.95 310.81L103.96 307.02Z"/>
<path fill="#481467" stroke="#481467" d="M109.98 288.03L109.98 295.62L103.96 299.42L97.95 295.62L97.95 288.03L103.96 284.23Z"/>
<path fill="#34618d" stroke="#34618d" d="M109.98 265.25L109.98 272.84L103.96 276.64L97.95 272.84L97.95 265.25L103.96 261.45Z"/>
<path fill="#424086" stroke="#424086" d="M109.98 242.46L109.98 250.06L103.96 253.85L97.95 250.06L97.95 242.46L103.96 238.66Z"/>
<path fill="#482979" stroke="#482979" d="M109.98 219.67L109.98 227.27L103.96 231.07L97.95 227.27L97.95 219.67L103.96 215.88Z"/>
<path fill="#424086" stroke="#424086" d="M109.98 196.89L109.98 204.48L103.96 208.28L97.95 204.48L97.95 196.89L103.96 193.09Z"/>
<path fill="#482979" stroke="#482979" d="M109.98 174.10L109.98 181.70L103.96 185.50L97.95 181.70L97.95 174.10L103.96 170.31Z"/>
<path fill="#424086" stroke="#424086" d="M109.98 151.32L109.98 158.91L103.96 162.71L97.95 158.91L97.95 151.32L103.96 147.52Z"/>
<path fill="#481467" stroke="#481467" d="M109.98 128.53L109.98 136.13L103.96 139.93L97.95 136.13L97.95 128.53L103.96 124.74Z"/>
<path fill="#3b528b" stroke="#3b528b" d="M109.98 105.75L109.98 113.34L103.96 117.14L97.95 113.34L97.95 105.75L103.96 101.95Z"/>
<path fill="#440154" stroke="#440154" d="M109.98 82.97L109.98 90.56L103.96 94.36L97.95 90.56L97.95 82.97L103.96 79.17Z"/>
<path fill="#440154" stroke="#440154" d="M109.98 60.18L109.98 67.78L103.96 71.57L97.95 67.78L97.95 60.18L103.96 56.38Z"/>
<path fill="#440154" stroke="#440154" d="M109.98 37.40L109.98 44.99L103.96 48.79L97.95 44.99L97.95 37.40L103.96 33.60Z"/>
<path fill="#440154" stroke="#440154" d="M122.00 401.95L122.00 409.55L115.99 413.35L109.98 409.55L109.98 401.95L115.99 398.16Z"/>
<path fill="#440154" stroke="#440154" d="M122.00 379.17L122.00 386.77L115.99 390.56L109.98 386.77L109.98 379.17L115.99 375.37Z"/>
<path fill="#440154" stroke="#440154" d="M122.00 356.38L122.00 363.98L115.99 367.78L109.98 363.98L109.98 356.38L115.99 352.59Z"/>
<path fill="#481467" stroke="#481467" d="M122.00 333.60L122.00 341.20L115.99 344.99L109.98 341.20L109.98 333.60L115.99 329.80Z"/>
<path fill="#481467" stroke="#481467" d="M122.00 288.03L122.00 295.62L115.99 299.42L109.98 295.62L109.98 288.03L115.99 284.23Z"/>
<path fill="#440154" stroke="#440154" d="M122.00 242.46L122.00 250.06L115.99 253.85L109.98 250.06L109.98 242.46L115.99 238.66Z"/>
<path fill="#424086" stroke="#424086" d="M122.00 219.67L122.00 227.27L115.99 231.07L109.98 227.27L109.98 219.67L115.99 215.88Z"/>
<path fill="#440154" stroke="#440154" d="M122.00 196.89L122.00 204.48L115.99 208.28L109.98 204.48L109.98 196.89L115.99 193.09Z"/>
<path fill="#482979" stroke="#482979" d="M122.00 174.10L122.00 181.70L115.99 185.50L109.98 181.70L109.98 174.10L115.99 170.31Z"/>
<path fill="#481467" stroke="#481467" d="M122.00 151.32L122.00 158.91L115.99 162.71L109.98 158.91L109.98 151.32L115.99 147.52Z"/>
<path fill="#440154" stroke="#440154" d="M122.00 128.53L122.00 136.13L115.99 139.93L109.98 136.13L109.98 128.53L115.99 124.74Z"/>
<path fill="#481467" stroke="#481467" d="M122.00 105.75L122.00 113.34L115.99 117.14L109.98 113.34L109.98 105.75L115.99 101.95Z"/>
<path fill="#481467" stroke="#481467" d="M122.00 60.18L122.00 67.78L115.99 71.57L109.98 67.78L109.98 60.18L115.99 56.38Z"/>
<path fill="#440154" stroke="#440154" d="M122.00 37.40L122.00 44.99L115.99 48.79L109.98 44.99L109.98 37.40L115.99 33.60Z"/>
<path fill="#440154" stroke="#440154" d="M134.03 379.17L134.03 386.77L128.01 390.56L122.00 386.77L122.00 379.17L128.01 375.37Z"/>
<path fill="#440154" stroke="#440154" d="M134.03 356.38L134.03 363.98L128.01 367.78L122.00 363.98L122.00 356.38L128.01 352.59Z"/>
<path fill="#440154" stroke="#440154" d="M134.03 333.60L134.03 341.20L128.01 344.99L122.00 341.20L122.00 333.60L128.01 329.80Z"/>
<path fill="#440154" stroke="#440154" d="M134.03 310.81L134.03 318.41L128.01 322.21L122.00 318.41L122.00 310.81L128.01 307.02Z"/>
<path fill="#481467" stroke="#481467" d="M134.03 288.03L134.03 295.62L128.01 299.42L122.00 295.62L122.00 288.03L128.01 284.23Z"/>
<path fill="#424086" stroke="#424086" d="M134.03 265.25L134.03 272.84L128.01 276.64L122.00 272.84L122.00 265.25L128.01 261.45Z"/>
<path fill="#481467" stroke="#481467" d="M134.03 242.46L134.03 250.06L128.01 253.85L122.00 250.06L122.00 242.46L128.01 238.66Z"/>
<path fill="#424086" stroke="#424086" d="M134.03 219.67L134.03 227.27L128.01 231.07L122.00 227.27L122.00 219.67L128.01 215.88Z"/>
<path fill="#481467" stroke="#481467" d="M134.03 196.89L134.03 204.48L128.01 208.28L122.00 204.48L122.00 196.89L128.01 193.09Z"/>
<path fill="#440154" stroke="#440154" d="M134.03 174.10L134.03 181.70L128.01 185.50L122.00 181.70L122.00 174.10L128.01 170.31Z"/>
<path fill="#482979" stroke="#482979" d="M134.03 151.32L134.03 158.91L128.01 162.71L122.00 158.91L122.00 151.32L128.01 147.52Z"/>
<path fill="#482979" stroke="#482979" d="M134.03 105.75L134.03 113.34L128.01 117.14L122.00 113.34L122.00 105.75L128.01 101.95Z"/>
<path fill="#440154" stroke="#440154" d="M134.03 37.40L134.03 44.99L128.01 48.79L122.00 44.99L122.00 37.40L128.01 33.60Z"/>
<path fill="#440154" stroke="#440154" d="M146.05 470.31L146.05 477.91L140.04 481.70L134.03 477.91L134.03 470.31L140.04 466.51Z"/>
<path fill="#440154" stroke="#440154" d="M146.05 424.74L146.05 432.34L140.04 436.13L134.03 432.34L134.03 424.74L140.04 420.94Z"/>
<path fill="#440154" stroke="#440154" d="M146.05 379.17L146.05 386.77L140.04 390.56L134.03 386.77L134.03 379.17L140.04 375.37Z"/>
<path fill="#481467" stroke="#481467" d="M146.05 356.38L146.05 363.98L140.04 367.78L134.03 363.98L134.03 356.38L140.04 352.59Z"/>
<path fill="#481467" stroke="#481467" d="M146.05 333.60L146.05 341.20L140.04 344.99L134.03 341.20L134.03 333.60L140.04 329.80Z"/>
<path fill="#440154" stroke="#440154" d="M146.05 310.81L146.05 318.41L140.04 322.21L134.03 318.41L134.03 310.81L140.04 307.02Z"/>
<path fill="#482979" stroke="#482979" d="M146.05 265.25L146.05 272.84L140.04 276.64L134.03 272.84L134.03 265.25L140.04 261.45Z"/>
<path fill="#440154" stroke="#440154" d="M146.05 242.46L146.05 250.06L140.04 253.85L134.03 250.06L134.03 242.46L140.04 238.66Z"/>
<path fill="#2e6e8e" stroke="#2e6e8e" d="M146.05 219.67L146.05 227.27L140.04 231.07L134.03 227.27L134.03 219.67L140.04 215.88Z"/>
<path fill="#34618d" stroke="#34618d" d="M146.05 196.89L146.05 204.48L140.04 208.28L134.03 204.48L134.03 196.89L140.04 193.09Z"/>
<path fill="#481467" stroke="#481467" d="M146.05 174.10L146.05 181.70L140.04 185.50L134.03 181.70L134.03 174.10L140.04 170.31Z"/>
<path fill="#481467" stroke="#481467" d="M146.05 151.32L146.05 158.91L140.04 162.71L134.03 158.91L134.03 151.32L140.04 147.52Z"/>
<path fill="#440154" stroke="#440154" d="M146.05 128.53L146.05 136.13L140.04 139.93L134.03 136.13L134.03 128.53L140.04 124.74Z"/>
<path fill="#481467" stroke="#481467" d="M146.05 105.75L146.05 113.34L140.04 117.14L134.03 113.34L134.03 105.75L140.04 101.95Z"/>
<path fill="#481467" stroke="#481467" d="M146.05 82.97L146.05 90.56L140.04 94.36L134.03 90.56L134.03 82.97L140.04 79.17Z"/>
<path fill="#440154" stroke="#440154" d="M146.05 60.18L146.05 67.78L140.04 71.57L134.03 67.78L134.03 60.18L140.04 56.38Z"/>
<path fill="#482979" stroke="#482979" d="M158.08 401.95L158.08 409.55L152.07 413.35L146.05 409.55L146.05 401.95L152.07 398.16Z"/>
<path fill="#3b528b" stroke="#3b528b" d="M158.08 379.17L158.08 386.77L152.07 390.56L146.05 386.77L146.05 379.17L152.07 375.37Z"/>
<path fill="#3b528b" stroke="#3b528b" d="M158.08 356.38L158.08 363.98L152.07 367.78L146.05 363.98L146.05 356.38L152.07 352.59Z"/>
<path fill="#440154" stroke="#440154" d="M158.08 333.60L158.08 341.20L152.07 344.99L146.05 341.20L146.05 333.60L152.07 329.80Z"/>
<path fill="#440154" stroke="#440154" d="M158.08 310.81L158.08 318.41L152.07 322.21L146.05 318.41L146.05 310.81L152.07 307.02Z"/>
<path fill="#440154" stroke="#440154" d="M158.08 288.03L158.08 295.62L152.07 299.42L146.05 295.62L146.05 288.03L152.07 284.23Z"/>
<path fill="#482979" stroke="#482979" d="M158.08 265.25L158.08 272.84L152.07 276.64L146.05 272.84L146.05 265.25L152.07 261.45Z"/>
<path fill="#481467" stroke="#481467" d="M158.08 242.46L158.08 250.06L152.07 253.85L146.05 250.06L146.05 242.46L152.07 238.66Z"/>
<path fill="#3b528b" stroke="#3b528b" d="M158.08 219.67L158.08 227.27L152.07 231.07L146.05 227.27L146.05 219.67L152.07 215.88Z"/>
<path fill="#424086" stroke="#424086" d="M158.08 196.89L158.08 204.48L152.07 208.28L146.05 204.48L146.05 196.89L152.07 193.09Z"/>
<path fill="#481467" stroke="#481467" d="M158.08 174.10L158.08 181.70L152.07 185.50L146.05 181.70L146.05 174.10L152.07 170.31Z"/>
<path fill="#440154" stroke="#440154" d="M158.08 151.32L158.08 158.91L152.07 162.71L146.05 158.91L146.05 151.32L152.07 147.52Z"/>
<path fill="#440154" stroke="#440154" d="M158.08 128.53L158.08 136.13L152.07 139.93L146.05 136.13L146.05 128.53L152.07 124.74Z"/>
<path fill="#440154" stroke="#440154" d="M158.08 37.40L158.08 44.99L152.07 48.79L146.05 44.99L146.05 37.40L152.07 33.60Z"/>
<path fill="#440154" stroke="#440154" d="M170.10 401.95L170.10 409.55L164.09 413.35L158.08 409.55L158.08 401.95L164.09 398.16Z"/>
<path fill="#481467" stroke="#481467" d="M170.10 356.38L170.10 363.98L164.09 367.78L158.08 363.98L158.08 356.38L164.09 352.59Z"/>
<path fill="#297b8e" stroke="#297b8e" d="M170.10 333.60L170.10 341.20L164.09 344.99L158.08 341.20L158.08 333.60L164.09 329.80Z"/>
<path fill="#481467" stroke="#481467" d="M170.10 310.81L170.10 318.41L164.09 322.21L158.08 318.41L158.08 310.81L164.09 307.02Z"/>
<path fill="#481467" stroke="#481467" d="M170.10 288.03L170.10 295.62L164.09 299.42L158.08 295.62L158.08 288.03L164.09 284.23Z"/>
<path fill="#424086" stroke="#424086" d="M170.10 265.25L170.10 272.84L164.09 276.64L158.08 272.84L158.08 265.25L164.09 261.45Z"/>
<path fill="#3b528b" stroke="#3b528b" d="M170.10 242.46L170.10 250.06L164.09 253.85L158.08 250.06L158.08 242.46L164.09 238.66Z"/>
<path fill="#424086" stroke="#424086" d="M170.10 219.67L170.10 227.27L164.09 231.07L158.08 227.27L158.08 219.67L164.09 215.88Z"/>
<path fill="#481467" stroke="#481467" d="M170.10 196.89L170.10 204.48L164.09 208.28L158.08 204.48L158.08 196.89L164.09 193.09Z"/>
<path fill="#34618d" stroke="#34618d" d="M170.10 174.10L170.10 181.70L164.09 185.50L158.08 181.70L158.08 174.10L164.09 170.31Z"/>
<path fill="#2e6e8e" stroke="#2e6e8e" d="M170.10 151.32L170.10 158.91L164.09 162.71L158.08 158.91L158.08 151.32L164.09 147.52Z"/>
<path fill="#424086" stroke="#424086" d="M170.10 128.53L170.10 136.13L164.09 139.93L158.08 136.13L158.08 128.53L164.09 124.74Z"/>
<path fill="#440154" stroke="#440154" d="M170.10 105.75L170.10 113.34L164.09 117.14L158.08 113.34L158.08 105.75L164.09 101.95Z"/>
<path fill="#482979" stroke="#482979" d="M170.10 82.97L170.10 90.56L164.09 94.36L158.08 90.56L158.08 82.97L164.09 79.17Z"/>
<path fill="#482979" stroke="#482979" d="M170.10 37.40L170.10 44.99L164.09 48.79L158.08 44.99L158.08 37.40L164.09 33.60Z"/>
<path fill="#440154" stroke="#440154" d="M182.13 470.31L182.13 477.91L176.12 481.70L170.10 477.91L170.10 470.31L176.12 466.51Z"/>
<path fill="#440154" stroke="#440154" d="M182.13 447.52L182.13 455.12L176.12 458.92L170.10 455.12L170.10 447.52L176.12 443.73Z"/>
<path fill="#481467" stroke="#481467" d="M182.13 424.74L182.13 432.34L176.12 436.13L170.10 432.34L170.10 424.74L176.12 420.94Z"/>
<path fill="#482979" stroke="#482979" d="M182.13 401.95L182.13 409.55L176.12 413.35L170.10 409.55L170.10 401.95L176.12 398.16Z"/>
<path fill="#440154" stroke="#440154" d="M182.13 379.17L182.13 386.77L176.12 390.56L170.10 386.77L170.10 379.17L176.12 375.37Z"/>
<path fill="#440154" stroke="#440154" d="M182.13 356.38L182.13 363.98L176.12 367.78L170.10 363.98L170.10 356.38L176.12 352.59Z"/>
<path fill="#481467" stroke="#481467" d="M182.13 333.60L182.13 341.20L176.12 344.99L170.10 341.20L170.10 333.60L176.12 329.80Z"/>
<path fill="#440154" stroke="#440154" d="M182.13 310.81L182.13 318.41L176.12 322.21L170.10 318.41L170.10 310.81L176.12 307.02Z"/>
<path fill="#481467" stroke="#481467" d="M182.13 288.03L182.13 295.62L176.12 299.42L170.10 295.62L170.10 288.03L176.12 284.23Z"/>
<path fill="#482979" stroke="#482979" d="M182.13 265.25L182.13 272.84L176.12 276.64L170.10 272.84L170.10 265.25L176.12 261.45Z"/>
<path fill="#424086" stroke="#424086" d="M182.13 242.46L182.13 250.06L176.12 253.85L170.10 250.06L170.10 242.46L176.12 238.66Z"/>
<path fill="#424086" stroke="#424086" d="M182.13 219.67L182.13 227.27L176.12 231.07L170.10 227.27L170.10 219.67L176.12 215.88Z"/>
<path fill="#424086" stroke="#424086" d="M182.13 196.89L182.13 204.48L176.12 208.28L170.10 204.48L170.10 196.89L176.12 193.09Z"/>
<path fill="#482979" stroke="#482979" d="M182.13 174.10L182.13 181.70L176.12 185.50L170.10 181.70L170.10 174.10L176.12 170.31Z"/>
<path fill="#481467" stroke="#481467" d="M182.13 151.32L182.13 158.91L176.12 162.71L170.10 158.91L170.10 151.32L176.12 147.52Z"/>
<path fill="#481467" stroke="#481467" d="M182.13 128.53L182.13 136.13L176.12 139.93L170.10 136.13L170.10 128.53L176.12 124.74Z"/>
<path fill="#440154" stroke="#440154" d="M182.13 82.97L182.13 90.56L176.12 94.36L170.10 90.56L170.10 82.97L176.12 79.17Z"/>
<path fill="#440154" stroke="#440154" d="M194.16 447.52L194.16 455.12L188.14 458.92L182.13 455.12L182.13 447.52L188.14 443.73Z"/>
<path fill="#440154" stroke="#440154" d="M194.16 401.95L194.16 409.55L188.14 413.35L182.13 409.55L182.13 401.95L188.14 398.16Z"/>
<path fill="#440154" stroke="#440154" d="M194.16 379.17L194.16 386.77L188.14 390.56L182.13 386.77L182.13 379.17L188.14 375.37Z"/>
<path fill="#482979" stroke="#482979" d="M194.16 356.38L194.16 363.98L188.14 367.78L182.13 363.98L182.13 356.38L188.14 352.59Z"/>
<path fill="#424086" stroke="#424086" d="M194.16 333.60L194.16 341.20L188.14 344.99L182.13 341.20L182.13 333.60L188.14 329.80Z"/>
<path fill="#3b528b" stroke="#3b528b" d="M194.16 310.81L194.16 318.41L188.14 322.21L182.13 318.41L182.13 310.81L188.14 307.02Z"/>
<path fill="#34618d" stroke="#34618d" d="M194.16 288.03L194.16 295.62L188.14 299.42L182.13 295.62L182.13 288.03L188.14 284.23Z"/>
<path fill="#3b528b" stroke="#3b528b" d="M194.16 265.25L194.16 272.84L188.14 276.64L182.13 272.84L182.13 265.25L188.14 261.45Z"/>
<path fill="#481467" stroke="#481467" d="M194.16 242.46L194.16 250.06L188.14 253.85L182.13 250.06L182.13 242.46L188.14 238.66Z"/>
<path fill="#34618d" stroke="#34618d" d="M194.16 219.67L194.16 227.27L188.14 231.07L182.13 227.27L182.13 219.67L188.14 215.88Z"/>
<path fill="#424086" stroke="#424086" d="M194.16 196.89L194.16 204.48L188.14 208.28L182.13 204.48L182.13 196.89L188.14 193.09Z"/>
<path fill="#34618d" stroke="#34618d" d="M194.16 174.10L194.16 181.70L188.14 185.50L182.13 181.70L182.13 174.10L188.14 170.31Z"/>
<path fill="#481467" stroke="#481467" d="M194.16 151.32L194.16 158.91L188.14 162.71L182.13 158.91L182.13 151.32L188.14 147.52Z"/>
<path fill="#481467" stroke="#481467" d="M194.16 128.53L194.16 136.13L188.14 139.93L182.13 136.13L182.13 128.53L188.14 124.74Z"/>
<path fill="#424086" stroke="#424086" d="M194.16 105.75L194.16 113.34L188.14 117.14L182.13 113.34L182.13 105.75L188.14 101.95Z"/>
<path fill="#440154" stroke="#440154" d="M194.16 82.97L194.16 90.56L188.14 94.36L182.13 90.56L182.13 82.97L188.14 79.17Z"/>
<path fill="#440154" stroke="#440154" d="M194.16 37.40L194.16 44.99L188.14 48.79L182.13 44.99L182.13 37.40L188.14 33.60Z"/>
<path fill="#440154" stroke="#440154" d="M206.18 470.31L206.18 477.91L200.17 481.70L194.16 477.91L194.16 470.31L200.17 466.51Z"/>
<path fill="#440154" stroke="#440154" d="M206.18 424.74L206.18 432.34L200.17 436.13L194.16 432.34L194.16 424.74L200.17 420.94Z"/>
<path fill="#482979" stroke="#482979" d="M206.18 401.95L206.18 409.55L200.17 413.35L194.16 409.55L194.16 401.95L200.17 398.16Z"/>
<path fill="#440154" stroke="#440154" d="M206.18 379.17L206.18 386.77L200.17 390.56L194.16 386.77L194.16 379.17L200.17 375.37Z"/>
<path fill="#440154" stroke="#440154" d="M206.18 356.38L206.18 363.98L200.17 367.78L194.16 363.98L194.16 356.38L200.17 352.59Z"/>
<path fill="#424086" stroke="#424086" d="M206.18 333.60L206.18 341.20L200.17 344.99L194.16 341.20L194.16 333.60L200.17 329.80Z"/>
<path fill="#482979" stroke="#482979" d="M206.18 310.81L206.18 318.41L200.17 322.21L194.16 318.41L194.16 310.81L200.17 307.02Z"/>
<path fill="#2e6e8e" stroke="#2e6e8e" d="M206.18 288.03L206.18 295.62L200.17 299.42L194.16 295.62L194.16 288.03L200.17 284.23Z"/>
<path fill="#297b8e" stroke="#297b8e" d="M206.18 265.25L206.18 272.84L200.17 276.64L194.16 272.84L194.16 265.25L200.17 261.45Z"/>
<path fill="#2e6e8e" stroke="#2e6e8e" d="M206.18 242.46L206.18 250.06L200.17 253.85L194.16 250.06L194.16 242.46L200.17 238.66Z"/>
<path fill="#424086" stroke="#424086" d="M206.18 219.67L206.18 227.27L200.17 231.07L194.16 227.27L194.16 219.67L200.17 215.88Z"/>
<path fill="#3b528b" stroke="#3b528b" d="M206.18 196.89L206.18 204.48L200.17 208.28L194.16 204.48L194.16 196.89L200.17 193.09Z"/>
<path fill="#482979" stroke="#482979" d="M206.18 174.10L206.18 181.70L200.17 185.50L194.16 181.70L194.16 174.10L200.17 170.31Z"/>
<path fill="#482979" stroke="#482979" d="M206.18 151.32L206.18 158.91L200.17 162.71L194.16 158.91L194.16 151.32L200.17 147.52Z"/>
<path fill="#424086" stroke="#424086" d="M206.18 128.53L206.18 136.13L200.17 139.93L194.16 136.13L194.16 128.53L200.17 124.74Z"/>
<path fill="#482979" stroke="#482979" d="M206.18 105.75L206.18 113.34L200.17 117.14L194.16 113.34L194.16 105.75L200.17 101.95Z"/>
<path fill="#440154" stroke="#440154" d="M206.18 82.97L206.18 90.56L200.17 94.36L194.16 90.56L194.16 82.97L200.17 79.17Z"/>
<path fill="#481467" stroke="#481467" d="M206.18 60.18L206.18 67.78L200.17 71.57L194.16 67.78L194.16 60.18L200.17 56.38Z"/>
<path fill="#481467" stroke="#481467" d="M206.18 37.40L206.18 44.99L200.17 48.79L194.16 44.99L194.16 37.40L200.17 33.60Z"/>
<path fill="#481467" stroke="#481467" d="M218.21 401.95L218.21 409.55L212.19 413.35L206.18 409.55L206.18 401.95L212.19 398.16Z"/>
<path fill="#440154" stroke="#440154" d="M218.21 379.17L218.21 386.77L212.19 390.56L206.18 386.77L206.18 379.17L212.19 375.37Z"/>
<path fill="#34618d" stroke="#34618d" d="M218.21 356.38L218.21 363.98L212.19 367.78L206.18 363.98L206.18 356.38L212.19 352.59Z"/>
<path fill="#481467" stroke="#481467" d="M218.21 333.60L218.21 341.20L212.19 344.99L206.18 341.20L206.18 333.60L212.19 329.80Z"/>
<path fill="#3b528b" stroke="#3b528b" d="M218.21 310.81L218.21 318.41L212.19 322.21L206.18 318.41L206.18 310.81L212.19 307.02Z"/>
<path fill="#34618d" stroke="#34618d" d="M218.21 288.03L218.21 295.62L212.19 299.42L206.18 295.62L206.18 288.03L212.19 284.23Z"/>
<path fill="#481467" stroke="#481467" d="M218.21 265.25L218.21 272.84L212.19 276.64L206.18 272.84L206.18 265.25L212.19 261.45Z"/>
<path fill="#424086" stroke="#424086" d="M218.21 242.46L218.21 250.06L212.19 253.85L206.18 250.06L206.18 242.46L212.19 238.66Z"/>
<path fill="#24878e" stroke="#24878e" d="M218.21 219.67L218.21 227.27L212.19 231.07L206.18 227.27L206.18 219.67L212.19 215.88Z"/>
<path fill="#38b977" stroke="#38b977" d="M218.21 174.10L218.21 181.70L212.19 185.50L206.18 181.70L206.18 174.10L212.19 170.31Z"/>
<path fill="#482979" stroke="#482979" d="M218.21 151.32L218.21 158.91L212.19 162.71L206.18 158.91L206.18 151.32L212.19 147.52Z"/>
<path fill="#481467" stroke="#481467" d="M218.21 128.53L218.21 136.13L212.19 139.93L206.18 136.13L206.18 128.53L212.19 124.74Z"/>
<path fill="#440154" stroke="#440154" d="M218.21 105.75L218.21 113.34L212.19 117.14L206.18 113.34L206.18 105.75L212.19 101.95Z"/>
<path fill="#482979" stroke="#482979" d="M218.21 82.97L218.21 90.56L212.19 94.36L206.18 90.56L206.18 82.97L212.19 79.17Z"/>
<path fill="#440154" stroke="#440154" d="M218.21 60.18L218.21 67.78L212.19 71.57L206.18 67.78L206.18 60.18L212.19 56.38Z"/>
<path fill="#440154" stroke="#440154" d="M218.21 37.40L218.21 44.99L212.19 48.79L206.18 44.99L206.18 37.40L212.19 33.60Z"/>
<path fill="#440154" stroke="#440154" d="M230.23 447.52L230.23 455.12L224.22 458.92L218.21 455.12L218.21 447.52L224.22 443.73Z"/>
<path fill="#481467" stroke="#481467" d="M230.23 401.95L230.23 409.55L224.22 413.35L218.21 409.55L218.21 401.95L224.22 398.16Z"/>
<path fill="#482979" stroke="#482979" d="M230.23 379.17L230.23 386.77L224.22 390.56L218.21 386.77L218.21 379.17L224.22 375.37Z"/>
<path fill="#440154" stroke="#440154" d="M230.23 356.38L230.23 363.98L224.22 367.78L218.21 363.98L218.21 356.38L224.22 352.59Z"/>
<path fill="#481467" stroke="#481467" d="M230.23 333.60L230.23 341.20L224.22 344.99L218.21 341.20L218.21 333.60L224.22 329.80Z"/>
<path fill="#482979" stroke="#482979" d="M230.23 310.81L230.23 318.41L224.22 322.21L218.21 318.41L218.21 310.81L224.22 307.02Z"/>
<path fill="#424086" stroke="#424086" d="M230.23 288.03L230.23 295.62L224.22 299.42L218.21 295.62L218.21 288.03L224.22 284.23Z"/>
<path fill="#297b8e" stroke="#297b8e" d="M230.23 265.25L230.23 272.84L224.22 276.64L218.21 272.84L218.21 265.25L224.22 261.45Z"/>
<path fill="#34618d" stroke="#34618d" d="M230.23 242.46L230.23 250.06L224.22 253.85L218.21 250.06L218.21 242.46L224.22 238.66Z"/>
<path fill="#1f948c" stroke="#1f948c" d="M230.23 219.67L230.23 227.27L224.22 231.07L218.21 227.27L218.21 219.67L224.22 215.88Z"/>
<path fill="#3b528b" stroke="#3b528b" d="M230.23 196.89L230.23 204.48L224.22 208.28L218.21 204.48L218.21 196.89L224.22 193.09Z"/>
<path fill="#2e6e8e" stroke="#2e6e8e" d="M230.23 174.10L230.23 181.70L224.22 185.50L218.21 181.70L218.21 174.10L224.22 170.31Z"/>
<path fill="#481467" stroke="#481467" d="M230.23 151.32L230.23 158.91L224.22 162.71L218.21 158.91L218.21 151.32L224.22 147.52Z"/>
<path fill="#24878e" stroke="#24878e" d="M230.23 128.53L230.23 136.13L224.22 139.93L218.21 136.13L218.21 128.53L224.22 124.74Z"/>
<path fill="#481467" stroke="#481467" d="M230.23 105.75L230.23 113.34L224.22 117.14L218.21 113.34L218.21 105.75L224.22 101.95Z"/>
<path fill="#440154" stroke="#440154" d="M230.23 82.97L230.23 90.56L224.22 94.36L218.21 90.56L218.21 82.97L224.22 79.17Z"/>
<path fill="#440154" stroke="#440154" d="M230.23 60.18L230.23 67.78L224.22 71.57L218.21 67.78L218.21 60.18L224.22 56.38Z"/>
<path fill="#440154" stroke="#440154" d="M242.26 447.52L242.26 455.12L236.25 458.92L230.23 455.12L230.23 447.52L236.25 443.73Z"/>
<path fill="#482979" stroke="#482979" d="M242.26 401.95L242.26 409.55L236.25 413.35L230.23 409.55L230.23 401.95L236.25 398.16Z"/>
<path fill="#440154" stroke="#440154" d="M242.26 379.17L242.26 386.77L236.25 390.56L230.23 386.77L230.23 379.17L236.25 375.37Z"/>
<path fill="#34618d" stroke="#34618d" d="M242.26 356.38L242.26 363.98L236.25 367.78L230.23 363.98L230.23 356.38L236.25 352.59Z"/>
<path fill="#2e6e8e" stroke="#2e6e8e" d="M242.26 333.60L242.26 341.20L236.25 344.99L230.23 341.20L230.23 333.60L236.25 329.80Z"/>
<path fill="#424086" stroke="#424086" d="M242.26 310.81L242.26 318.41L236.25 322.21L230.23 318.41L230.23 310.81L236.25 307.02Z"/>
<path fill="#24878e" stroke="#24878e" d="M242.26 288.03L242.26 295.62L236.25 299.42L230.23 295.62L230.23 288.03L236.25 284.23Z"/>
<path fill="#297b8e" stroke="#297b8e" d="M242.26 265.25L242.26 272.84L236.25 276.64L230.23 272.84L230.23 265.25L236.25 261.45Z"/>
<path fill="#2e6e8e" stroke="#2e6e8e" d="M242.26 242.46L242.26 250.06L236.25 253.85L230.23 250.06L230.23 242.46L236.25 238.66Z"/>
<path fill="#34618d" stroke="#34618d" d="M242.26 219.67L242.26 227.27L236.25 231.07L230.23 227.27L230.23 219.67L236.25 215.88Z"/>
<path fill="#34618d" stroke="#34618d" d="M242.26 196.89L242.26 204.48L236.25 208.28L230.23 204.48L230.23 196.89L236.25 193.09Z"/>
<path fill="#424086" stroke="#424086" d="M242.26 174.10L242.26 181.70L236.25 185.50L230.23 181.70L230.23 174.10L236.25 170.31Z"/>
<path fill="#424086" stroke="#424086" d="M242.26 151.32L242.26 158.91L236.25 162.71L230.23 158.91L230.23 151.32L236.25 147.52Z"/>
<path fill="#34618d" stroke="#34618d" d="M242.26 128.53L242.26 136.13L236.25 139.93L230.23 136.13L230.23 128.53L236.25 124.74Z"/>
<path fill="#424086" stroke="#424086" d="M242.26 105.75L242.26 113.34L236.25 117.14L230.23 113.34L230.23 105.75L236.25 101.95Z"/>
<path fill="#482979" stroke="#482979" d="M242.26 82.97L242.26 90.56L236.25 94.36L230.23 90.56L230.23 82.97L236.25 79.17Z"/>
<path fill="#440154" stroke="#440154" d="M242.26 60.18L242.26 67.78L236.25 71.57L230.23 67.78L230.23 60.18L236.25 56.38Z"/>
<path fill="#440154" stroke="#440154" d="M254.28 424.74L254.28 432.34L248.27 436.13L242.26 432.34L242.26 424.74L248.27 420.94Z"/>
<path fill="#481467" stroke="#481467" d="M254.28 401.95L254.28 409.55L248.27 413.35L242.26 409.55L242.26 401.95L248.27 398.16Z"/>
<path fill="#481467" stroke="#481467" d="M254.28 379.17L254.28 386.77L248.27 390.56L242.26 386.77L242.26 379.17L248.27 375.37Z"/>
<path fill="#424086" stroke="#424086" d="M254.28 356.38L254.28 363.98L248.27 367.78L242.26 363.98L242.26 356.38L248.27 352.59Z"/>
<path fill="#424086" stroke="#424086" d="M254.28 333.60L254.28 341.20L248.27 344.99L242.26 341.20L242.26 333.60L248.27 329.80Z"/>
<path fill="#424086" stroke="#424086" d="M254.28 310.81L254.28 318.41L248.27 322.21L242.26 318.41L242.26 310.81L248.27 307.02Z"/>
<path fill="#297b8e" stroke="#297b8e" d="M254.28 288.03L254.28 295.62L248.27 299.42L242.26 295.62L242.26 288.03L248.27 284.23Z"/>
<path fill="#38b977" stroke="#38b977" d="M254.28 265.25L254.28 272.84L248.27 276.64L242.26 272.84L242.26 265.25L248.27 261.45Z"/>
<path fill="#26ad81" stroke="#26ad81" d="M254.28 242.46L254.28 250.06L248.27 253.85L242.26 250.06L242.26 242.46L248.27 238.66Z"/>
<path fill="#24878e" stroke="#24878e" d="M254.28 219.67L254.28 227.27L248.27 231.07L242.26 227.27L242.26 219.67L248.27 215.88Z"/>
<path fill="#424086" stroke="#424086" d="M254.28 196.89L254.28 204.48L248.27 208.28L242.26 204.48L242.26 196.89L248.27 193.09Z"/>
<path fill="#2e6e8e" stroke="#2e6e8e" d="M254.28 174.10L254.28 181.70L248.27 185.50L242.26 181.70L242.26 174.10L248.27 170.31Z"/>
<path fill="#3b528b" stroke="#3b528b" d="M254.28 151.32L254.28 158.91L248.27 162.71L242.26 158.91L242.26 151.32L248.27 147.52Z"/>
<path fill="#2e6e8e" stroke="#2e6e8e" d="M254.28 128.53L254.28 136.13L248.27 139.93L242.26 136.13L242.26 128.53L248.27 124.74Z"/>
<path fill="#481467" stroke="#481467" d="M254.28 105.75L254.28 113.34L248.27 117.14L242.26 113.34L242.26 105.75L248.27 101.95Z"/>
<path fill="#482979" stroke="#482979" d="M254.28 60.18L254.28 67.78L248.27 71.57L242.26 67.78L242.26 60.18L248.27 56.38Z"/>
<path fill="#440154" stroke="#440154" d="M266.31 470.31L266.31 477.91L260.30 481.70L254.28 477.91L254.28 470.31L260.30 466.51Z"/>
<path fill="#440154" stroke="#440154" d="M266.31 447.52L266.31 455.12L260.30 458.92L254.28 455.12L254.28 447.52L260.30 443.73Z"/>
<path fill="#481467" stroke="#481467" d="M266.31 424.74L266.31 432.34L260.30 436.13L254.28 432.34L254.28 424.74L260.30 420.94Z"/>
<path fill="#424086" stroke="#424086" d="M266.31 401.95L266.31 409.55L260.30 413.35L254.28 409.55L254.28 401.95L260.30 398.16Z"/>
<path fill="#34618d" stroke="#34618d" d="M266.31 379.17L266.31 386.77L260.30 390.56L254.28 386.77L254.28 379.17L260.30 375.37Z"/>
<path fill="#424086" stroke="#424086" d="M266.31 356.38L266.31 363.98L260.30 367.78L254.28 363.98L254.28 356.38L260.30 352.59Z"/>
<path fill="#424086" stroke="#424086" d="M266.31 333.60L266.31 341.20L260.30 344.99L254.28 341.20L254.28 333.60L260.30 329.80Z"/>
<path fill="#3b528b" stroke="#3b528b" d="M266.31 310.81L266.31 318.41L260.30 322.21L254.28 318.41L254.28 310.81L260.30 307.02Z"/>
<path fill="#24878e" stroke="#24878e" d="M266.31 288.03L266.31 295.62L260.30 299.42L254.28 295.62L254.28 288.03L260.30 284.23Z"/>
<path fill="#24878e" stroke="#24878e" d="M266.31 265.25L266.31 272.84L260.30 276.64L254.28 272.84L254.28 265.25L260.30 261.45Z"/>
<path fill="#297b8e" stroke="#297b8e" d="M266.31 242.46L266.31 250.06L260.30 253.85L254.28 250.06L254.28 242.46L260.30 238.66Z"/>
<path fill="#2e6e8e" stroke="#2e6e8e" d="M266.31 219.67L266.31 227.27L260.30 231.07L254.28 227.27L254.28 219.67L260.30 215.88Z"/>
<path fill="#24878e" stroke="#24878e" d="M266.31 196.89L266.31 204.48L260.30 208.28L254.28 204.48L254.28 196.89L260.30 193.09Z"/>
<path fill="#482979" stroke="#482979" d="M266.31 174.10L266.31 181.70L260.30 185.50L254.28 181.70L254.28 174.10L260.30 170.31Z"/>
<path fill="#482979" stroke="#482979" d="M266.31 151.32L266.31 158.91L260.30 162.71L254.28 158.91L254.28 151.32L260.30 147.52Z"/>
<path fill="#481467" stroke="#481467" d="M266.31 128.53L266.31 136.13L260.30 139.93L254.28 136.13L254.28 128.53L260.30 124.74Z"/>
<path fill="#424086" stroke="#424086" d="M266.31 105.75L266.31 113.34L260.30 117.14L254.28 113.34L254.28 105.75L260.30 101.95Z"/>
<path fill="#482979" stroke="#482979" d="M266.31 82.97L266.31 90.56L260.30 94.36L254.28 90.56L254.28 82.97L260.30 79.17Z"/>
<path fill="#481467" stroke="#481467" d="M266.31 60.18L266.31 67.78L260.30 71.57L254.28 67.78L254.28 60.18L260.30 56.38Z"/>
<path fill="#481467" stroke="#481467" d="M266.31 37.40L266.31 44.99L260.30 48.79L254.28 44.99L254.28 37.40L260.30 33.60Z"/>
<path fill="#440154" stroke="#440154" d="M278.34 470.31L278.34 477.91L272.32 481.70L266.31 477.91L266.31 470.31L272.32 466.51Z"/>
<path fill="#481467" stroke="#481467" d="M278.34 424.74L278.34 432.34L272.32 436.13L266.31 432.34L266.31 424.74L272.32 420.94Z"/>
<path fill="#482979" stroke="#482979" d="M278.34 401.95L278.34 409.55L272.32 413.35L266.31 409.55L266.31 401.95L272.32 398.16Z"/>
<path fill="#482979" stroke="#482979" d="M278.34 379.17L278.34 386.77L272.32 390.56L266.31 386.77L266.31 379.17L272.32 375.37Z"/>
<path fill="#482979" stroke="#482979" d="M278.34 356.38L278.34 363.98L272.32 367.78L266.31 363.98L266.31 356.38L272.32 352.59Z"/>
<path fill="#482979" stroke="#482979" d="M278.34 333.60L278.34 341.20L272.32 344.99L266.31 341.20L266.31 333.60L272.32 329.80Z"/>
<path fill="#34618d" stroke="#34618d" d="M278.34 310.81L278.34 318.41L272.32 322.21L266.31 318.41L266.31 310.81L272.32 307.02Z"/>
<path fill="#24878e" stroke="#24878e" d="M278.34 288.03L278.34 295.62L272.32 299.42L266.31 295.62L266.31 288.03L272.32 284.23Z"/>
<path fill="#2e6e8e" stroke="#2e6e8e" d="M278.34 265.25L278.34 272.84L272.32 276.64L266.31 272.84L266.31 265.25L272.32 261.45Z"/>
<path fill="#6ece58" stroke="#6ece58" d="M278.34 242.46L278.34 250.06L272.32 253.85L266.31 250.06L266.31 242.46L272.32 238.66Z"/>
<path fill="#26ad81" stroke="#26ad81" d="M278.34 219.67L278.34 227.27L272.32 231.07L266.31 227.27L266.31 219.67L272.32 215.88Z"/>
<path fill="#1f948c" stroke="#1f948c" d="M278.34 196.89L278.34 204.48L272.32 208.28L266.31 204.48L266.31 196.89L272.32 193.09Z"/>
<path fill="#1f948c" stroke="#1f948c" d="M278.34 174.10L278.34 181.70L272.32 185.50L266.31 181.70L266.31 174.10L272.32 170.31Z"/>
<path fill="#3b528b" stroke="#3b528b" d="M278.34 151.32L278.34 158.91L272.32 162.71L266.31 158.91L266.31 151.32L272.32 147.52Z"/>
<path fill="#482979" stroke="#482979" d="M278.34 128.53L278.34 136.13L272.32 139.93L266.31 136.13L266.31 128.53L272.32 124.74Z"/>
<path fill="#424086" stroke="#424086" d="M278.34 105.75L278.34 113.34L272.32 117.14L266.31 113.34L266.31 105.75L272.32 101.95Z"/>
<path fill="#424086" stroke="#424086" d="M278.34 82.97L278.34 90.56L272.32 94.36L266.31 90.56L266.31 82.97L272.32 79.17Z"/>
<path fill="#3b528b" stroke="#3b528b" d="M278.34 60.18L278.34 67.78L272.32 71.57L266.31 67.78L266.31 60.18L272.32 56.38Z"/>
<path fill="#440154" stroke="#440154" d="M278.34 37.40L278.34 44.99L272.32 48.79L266.31 44.99L266.31 37.40L272.32 33.60Z"/>
<path fill="#440154" stroke="#440154" d="M290.36 447.52L290.36 455.12L284.35 458.92L278.34 455.12L278.34 447.52L284.35 443.73Z"/>
<path fill="#440154" stroke="#440154" d="M290.36 424.74L290.36 432.34L284.35 436.13L278.34 432.34L278.34 424.74L284.35 420.94Z"/>
<path fill="#482979" stroke="#482979" d="M290.36 401.95L290.36 409.55L284.35 413.35L278.34 409.55L278.34 401.95L284.35 398.16Z"/>
<path fill="#481467" stroke="#481467" d="M290.36 379.17L290.36 386.77L284.35 390.56L278.34 386.77L278.34 379.17L284.35 375.37Z"/>
<path fill="#424086" stroke="#424086" d="M290.36 356.38L290.36 363.98L284.35 367.78L278.34 363.98L278.34 356.38L284.35 352.59Z"/>
<path fill="#38b977" stroke="#38b977" d="M290.36 333.60L290.36 341.20L284.35 344.99L278.34 341.20L278.34 333.60L284.35 329.80Z"/>
<path fill="#1f948c" stroke="#1f948c" d="M290.36 310.81L290.36 318.41L284.35 322.21L278.34 318.41L278.34 310.81L284.35 307.02Z"/>
<path fill="#2e6e8e" stroke="#2e6e8e" d="M290.36 288.03L290.36 295.62L284.35 299.42L278.34 295.62L278.34 288.03L284.35 284.23Z"/>
<path fill="#50c46a" stroke="#50c46a" d="M290.36 265.25L290.36 272.84L284.35 276.64L278.34 272.84L278.34 265.25L284.35 261.45Z"/>
<path fill="#24878e" stroke="#24878e" d="M290.36 242.46L290.36 250.06L284.35 253.85L278.34 250.06L278.34 242.46L284.35 238.66Z"/>
<path fill="#24878e" stroke="#24878e" d="M290.36 219.67L290.36 227.27L284.35 231.07L278.34 227.27L278.34 219.67L284.35 215.88Z"/>
<path fill="#34618d" stroke="#34618d" d="M290.36 196.89L290.36 204.48L284.35 208.28L278.34 204.48L278.34 196.89L284.35 193.09Z"/>
<path fill="#2e6e8e" stroke="#2e6e8e" d="M290.36 174.10L290.36 181.70L284.35 185.50L278.34 181.70L278.34 174.10L284.35 170.31Z"/>
<path fill="#26ad81" stroke="#26ad81" d="M290.36 151.32L290.36 158.91L284.35 162.71L278.34 158.91L278.34 151.32L284.35 147.52Z"/>
<path fill="#3b528b" stroke="#3b528b" d="M290.36 128.53L290.36 136.13L284.35 139.93L278.34 136.13L278.34 128.53L284.35 124.74Z"/>
<path fill="#424086" stroke="#424086" d="M290.36 105.75L290.36 113.34L284.35 117.14L278.34 113.34L278.34 105.75L284.35 101.95Z"/>
<path fill="#482979" stroke="#482979" d="M290.36 82.97L290.36 90.56L284.35 94.36L278.34 90.56L278.34 82.97L284.35 79.17Z"/>
<path fill="#482979" stroke="#482979" d="M290.36 60.18L290.36 67.78L284.35 71.57L278.34 67.78L278.34 60.18L284.35 56.38Z"/>
<path fill="#440154" stroke="#440154" d="M302.39 470.31L302.39 477.91L296.37 481.70L290.36 477.91L290.36 470.31L296.37 466.51Z"/>
<path fill="#440154" stroke="#440154" d="M302.39 447.52L302.39 455.12L296.37 458.92L290.36 455.12L290.36 447.52L296.37 443.73Z"/>
<path fill="#481467" stroke="#481467" d="M302.39 401.95L302.39 409.55L296.37 413.35L290.36 409.55L290.36 401.95L296.37 398.16Z"/>
<path fill="#34618d" stroke="#34618d" d="M302.39 379.17L302.39 386.77L296.37 390.56L290.36 386.77L290.36 379.17L296.37 375.37Z"/>
<path fill="#34618d" stroke="#34618d" d="M302.39 356.38L302.39 363.98L296.37 367.78L290.36 363.98L290.36 356.38L296.37 352.59Z"/>
<path fill="#2e6e8e" stroke="#2e6e8e" d="M302.39 333.60L302.39 341.20L296.37 344.99L290.36 341.20L290.36 333.60L296.37 329.80Z"/>
<path fill="#34618d" stroke="#34618d" d="M302.39 310.81L302.39 318.41L296.37 322.21L290.36 318.41L290.36 310.81L296.37 307.02Z"/>
<path fill="#24878e" stroke="#24878e" d="M302.39 288.03L302.39 295.62L296.37 299.42L290.36 295.62L290.36 288.03L296.37 284.23Z"/>
<path fill="#297b8e" stroke="#297b8e" d="M302.39 265.25L302.39 272.84L296.37 276.64L290.36 272.84L290.36 265.25L296.37 261.45Z"/>
<path fill="#6ece58" stroke="#6ece58" d="M302.39 242.46L302.39 250.06L296.37 253.85L290.36 250.06L290.36 242.46L296.37 238.66Z"/>
<path fill="#2e6e8e" stroke="#2e6e8e" d="M302.39 219.67L302.39 227.27L296.37 231.07L290.36 227.27L290.36 219.67L296.37 215.88Z"/>
<path fill="#34618d" stroke="#34618d" d="M302.39 196.89L302.39 204.48L296.37 208.28L290.36 204.48L290.36 196.89L296.37 193.09Z"/>
<path fill="#34618d" stroke="#34618d" d="M302.39 174.10L302.39 181.70L296.37 185.50L290.36 181.70L290.36 174.10L296.37 170.31Z"/>
<path fill="#3b528b" stroke="#3b528b" d="M302.39 151.32L302.39 158.91L296.37 162.71L290.36 158.91L290.36 151.32L296.37 147.52Z"/>
<path fill="#34618d" stroke="#34618d" d="M302.39 128.53L302.39 136.13L296.37 139.93L290.36 136.13L290.36 128.53L296.37 124.74Z"/>
<path fill="#424086" stroke="#424086" d="M302.39 105.75L302.39 113.34L296.37 117.14L290.36 113.34L290.36 105.75L296.37 101.95Z"/>
<path fill="#34618d" stroke="#34618d" d="M302.39 82.97L302.39 90.56L296.37 94.36L290.36 90.56L290.36 82.97L296.37 79.17Z"/>
<path fill="#482979" stroke="#482979" d="M302.39 60.18L302.39 67.78L296.37 71.57L290.36 67.78L290.36 60.18L296.37 56.38Z"/>
<path fill="#481467" stroke="#481467" d="M302.39 37.40L302.39 44.99L296.37 48.79L290.36 44.99L290.36 37.40L296.37 33.60Z"/>
<path fill="#440154" stroke="#440154" d="M314.41 401.95L314.41 409.55L308.40 413.35L302.39 409.55L302.39 401.95L308.40 398.16Z"/>
<path fill="#3b528b" stroke="#3b528b" d="M314.41 379.17L314.41 386.77L308.40 390.56L302.39 386.77L302.39 379.17L308.40 375.37Z"/>
<path fill="#424086" stroke="#424086" d="M314.41 356.38L314.41 363.98L308.40 367.78L302.39 363.98L302.39 356.38L308.40 352.59Z"/>
<path fill="#1f948c" stroke="#1f948c" d="M314.41 333.60L314.41 341.20L308.40 344.99L302.39 341.20L302.39 333.60L308.40 329.80Z"/>
<path fill="#1f948c" stroke="#1f948c" d="M314.41 310.81L314.41 318.41L308.40 322.21L302.39 318.41L302.39 310.81L308.40 307.02Z"/>
<path fill="#1f948c" stroke="#1f948c" d="M314.41 288.03L314.41 295.62L308.40 299.42L302.39 295.62L302.39 288.03L308.40 284.23Z"/>
<path fill="#297b8e" stroke="#297b8e" d="M314.41 265.25L314.41 272.84L308.40 276.64L302.39 272.84L302.39 265.25L308.40 261.45Z"/>
<path fill="#d5e21a" stroke="#d5e21a" d="M314.41 242.46L314.41 250.06L308.40 253.85L302.39 250.06L302.39 242.46L308.40 238.66Z"/>
<path fill="#f8e621" stroke="#f8e621" d="M314.41 219.67L314.41 227.27L308.40 231.07L302.39 227.27L302.39 219.67L308.40 215.88Z"/>
<path fill="#2e6e8e" stroke="#2e6e8e" d="M314.41 196.89L314.41 204.48L308.40 208.28L302.39 204.48L302.39 196.89L308.40 193.09Z"/>
<path fill="#34618d" stroke="#34618d" d="M314.41 174.10L314.41 181.70L308.40 185.50L302.39 181.70L302.39 174.10L308.40 170.31Z"/>
<path fill="#424086" stroke="#424086" d="M314.41 151.32L314.41 158.91L308.40 162.71L302.39 158.91L302.39 151.32L308.40 147.52Z"/>
<path fill="#3b528b" stroke="#3b528b" d="M314.41 128.53L314.41 136.13L308.40 139.93L302.39 136.13L302.39 128.53L308.40 124.74Z"/>
<path fill="#482979" stroke="#482979" d="M314.41 105.75L314.41 113.34L308.40 117.14L302.39 113.34L302.39 105.75L308.40 101.95Z"/>
<path fill="#482979" stroke="#482979" d="M314.41 82.97L314.41 90.56L308.40 94.36L302.39 90.56L302.39 82.97L308.40 79.17Z"/>
<path fill="#481467" stroke="#481467" d="M314.41 37.40L314.41 44.99L308.40 48.79L302.39 44.99L302.39 37.40L308.40 33.60Z"/>
<path fill="#440154" stroke="#440154" d="M326.44 447.52L326.44 455.12L320.43 458.92L314.41 455.12L314.41 447.52L320.43 443.73Z"/>
<path fill="#481467" stroke="#481467" d="M326.44 424.74L326.44 432.34L320.43 436.13L314.41 432.34L314.41 424.74L320.43 420.94Z"/>
<path fill="#481467" stroke="#481467" d="M326.44 401.95L326.44 409.55L320.43 413.35L314.41 409.55L314.41 401.95L320.43 398.16Z"/>
<path fill="#482979" stroke="#482979" d="M326.44 379.17L326.44 386.77L320.43 390.56L314.41 386.77L314.41 379.17L320.43 375.37Z"/>
<path fill="#424086" stroke="#424086" d="M326.44 356.38L326.44 363.98L320.43 367.78L314.41 363.98L314.41 356.38L320.43 352.59Z"/>
<path fill="#297b8e" stroke="#297b8e" d="M326.44 333.60L326.44 341.20L320.43 344.99L314.41 341.20L314.41 333.60L320.43 329.80Z"/>
<path fill="#424086" stroke="#424086" d="M326.44 310.81L326.44 318.41L320.43 322.21L314.41 318.41L314.41 310.81L320.43 307.02Z"/>
<path fill="#24878e" stroke="#24878e" d="M326.44 288.03L326.44 295.62L320.43 299.42L314.41 295.62L314.41 288.03L320.43 284.23Z"/>
<path fill="#482979" stroke="#482979" d="M326.44 265.25L326.44 272.84L320.43 276.64L314.41 272.84L314.41 265.25L320.43 261.45Z"/>
<path fill="#34618d" stroke="#34618d" d="M326.44 242.46L326.44 250.06L320.43 253.85L314.41 250.06L314.41 242.46L320.43 238.66Z"/>
<path fill="#1f948c" stroke="#1f948c" d="M326.44 219.67L326.44 227.27L320.43 231.07L314.41 227.27L314.41 219.67L320.43 215.88Z"/>
<path fill="#424086" stroke="#424086" d="M326.44 196.89L326.44 204.48L320.43 208.28L314.41 204.48L314.41 196.89L320.43 193.09Z"/>
<path fill="#424086" stroke="#424086" d="M326.44 174.10L326.44 181.70L320.43 185.50L314.41 181.70L314.41 174.10L320.43 170.31Z"/>
<path fill="#3b528b" stroke="#3b528b" d="M326.44 151.32L326.44 158.91L320.43 162.71L314.41 158.91L314.41 151.32L320.43 147.52Z"/>
<path fill="#34618d" stroke="#34618d" d="M326.44 128.53L326.44 136.13L320.43 139.93L314.41 136.13L314.41 128.53L320.43 124.74Z"/>
<path fill="#34618d" stroke="#34618d" d="M326.44 105.75L326.44 113.34L320.43 117.14L314.41 113.34L314.41 105.75L320.43 101.95Z"/>
<path fill="#482979" stroke="#482979" d="M326.44 82.97L326.44 90.56L320.43 94.36L314.41 90.56L314.41 82.97L320.43 79.17Z"/>
<path fill="#481467" stroke="#481467" d="M326.44 60.18L326.44 67.78L320.43 71.57L314.41 67.78L314.41 60.18L320.43 56.38Z"/>
<path fill="#440154" stroke="#440154" d="M338.46 447.52L338.46 455.12L332.45 458.92L326.44 455.12L326.44 447.52L332.45 443.73Z"/>
<path fill="#440154" stroke="#440154" d="M338.46 424.74L338.46 432.34L332.45 436.13L326.44 432.34L326.44 424.74L332.45 420.94Z"/>
<path fill="#440154" stroke="#440154" d="M338.46 401.95L338.46 409.55L332.45 413.35L326.44 409.55L326.44 401.95L332.45 398.16Z"/>
<path fill="#482979" stroke="#482979" d="M338.46 379.17L338.46 386.77L332.45 390.56L326.44 386.77L326.44 379.17L332.45 375.37Z"/>
<path fill="#3b528b" stroke="#3b528b" d="M338.46 356.38L338.46 363.98L332.45 367.78L326.44 363.98L326.44 356.38L332.45 352.59Z"/>
<path fill="#424086" stroke="#424086" d="M338.46 333.60L338.46 341.20L332.45 344.99L326.44 341.20L326.44 333.60L332.45 329.80Z"/>
<path fill="#3b528b" stroke="#3b528b" d="M338.46 310.81L338.46 318.41L332.45 322.21L326.44 318.41L326.44 310.81L332.45 307.02Z"/>
<path fill="#297b8e" stroke="#297b8e" d="M338.46 288.03L338.46 295.62L332.45 299.42L326.44 295.62L326.44 288.03L332.45 284.23Z"/>
<path fill="#424086" stroke="#424086" d="M338.46 265.25L338.46 272.84L332.45 276.64L326.44 272.84L326.44 265.25L332.45 261.45Z"/>
<path fill="#1f948c" stroke="#1f948c" d="M338.46 242.46L338.46 250.06L332.45 253.85L326.44 250.06L326.44 242.46L332.45 238.66Z"/>
<path fill="#1f948c" stroke="#1f948c" d="M338.46 219.67L338.46 227.27L332.45 231.07L326.44 227.27L326.44 219.67L332.45 215.88Z"/>
<path fill="#24878e" stroke="#24878e" d="M338.46 196.89L338.46 204.48L332.45 208.28L326.44 204.48L326.44 196.89L332.45 193.09Z"/>
<path fill="#34618d" stroke="#34618d" d="M338.46 174.10L338.46 181.70L332.45 185.50L326.44 181.70L326.44 174.10L332.45 170.31Z"/>
<path fill="#26ad81" stroke="#26ad81" d="M338.46 151.32L338.46 158.91L332.45 162.71L326.44 158.91L326.44 151.32L332.45 147.52Z"/>
<path fill="#424086" stroke="#424086" d="M338.46 128.53L338.46 136.13L332.45 139.93L326.44 136.13L326.44 128.53L332.45 124.74Z"/>
<path fill="#482979" stroke="#482979" d="M338.46 105.75L338.46 113.34L332.45 117.14L326.44 113.34L326.44 105.75L332.45 101.95Z"/>
<path fill="#482979" stroke="#482979" d="M338.46 82.97L338.46 90.56L332.45 94.36L326.44 90.56L326.44 82.97L332.45 79.17Z"/>
<path fill="#440154" stroke="#440154" d="M338.46 60.18L338.46 67.78L332.45 71.57L326.44 67.78L326.44 60.18L332.45 56.38Z"/>
<path fill="#424086" stroke="#424086" d="M350.49 401.95L350.49 409.55L344.48 413.35L338.46 409.55L338.46 401.95L344.48 398.16Z"/>
<path fill="#424086" stroke="#424086" d="M350.49 379.17L350.49 386.77L344.48 390.56L338.46 386.77L338.46 379.17L344.48 375.37Z"/>
<path fill="#481467" stroke="#481467" d="M350.49 356.38L350.49 363.98L344.48 367.78L338.46 363.98L338.46 356.38L344.48 352.59Z"/>
<path fill="#424086" stroke="#424086" d="M350.49 333.60L350.49 341.20L344.48 344.99L338.46 341.20L338.46 333.60L344.48 329.80Z"/>
<path fill="#1f948c" stroke="#1f948c" d="M350.49 310.81L350.49 318.41L344.48 322.21L338.46 318.41L338.46 310.81L344.48 307.02Z"/>
<path fill="#297b8e" stroke="#297b8e" d="M350.49 288.03L350.49 295.62L344.48 299.42L338.46 295.62L338.46 288.03L344.48 284.23Z"/>
<path fill="#50c46a" stroke="#50c46a" d="M350.49 265.25L350.49 272.84L344.48 276.64L338.46 272.84L338.46 265.25L344.48 261.45Z"/>
<path fill="#26ad81" stroke="#26ad81" d="M350.49 242.46L350.49 250.06L344.48 253.85L338.46 250.06L338.46 242.46L344.48 238.66Z"/>
<path fill="#24878e" stroke="#24878e" d="M350.49 219.67L350.49 227.27L344.48 231.07L338.46 227.27L338.46 219.67L344.48 215.88Z"/>
<path fill="#2e6e8e" stroke="#2e6e8e" d="M350.49 196.89L350.49 204.48L344.48 208.28L338.46 204.48L338.46 196.89L344.48 193.09Z"/>
<path fill="#24878e" stroke="#24878e" d="M350.49 174.10L350.49 181.70L344.48 185.50L338.46 181.70L338.46 174.10L344.48 170.31Z"/>
<path fill="#424086" stroke="#424086" d="M350.49 151.32L350.49 158.91L344.48 162.71L338.46 158.91L338.46 151.32L344.48 147.52Z"/>
<path fill="#424086" stroke="#424086" d="M350.49 128.53L350.49 136.13L344.48 139.93L338.46 136.13L338.46 128.53L344.48 124.74Z"/>
<path fill="#424086" stroke="#424086" d="M350.49 82.97L350.49 90.56L344.48 94.36L338.46 90.56L338.46 82.97L344.48 79.17Z"/>
<path fill="#481467" stroke="#481467" d="M350.49 60.18L350.49 67.78L344.48 71.57L338.46 67.78L338.46 60.18L344.48 56.38Z"/>
<path fill="#482979" stroke="#482979" d="M362.52 379.17L362.52 386.77L356.50 390.56L350.49 386.77L350.49 379.17L356.50 375.37Z"/>
<path fill="#424086" stroke="#424086" d="M362.52 356.38L362.52 363.98L356.50 367.78L350.49 363.98L350.49 356.38L356.50 352.59Z"/>
<path fill="#3b528b" stroke="#3b528b" d="M362.52 333.60L362.52 341.20L356.50 344.99L350.49 341.20L350.49 333.60L356.50 329.80Z"/>
<path fill="#424086" stroke="#424086" d="M362.52 310.81L362.52 318.41L356.50 322.21L350.49 318.41L350.49 310.81L356.50 307.02Z"/>
<path fill="#38b977" stroke="#38b977" d="M362.52 288.03L362.52 295.62L356.50 299.42L350.49 295.62L350.49 288.03L356.50 284.23Z"/>
<path fill="#34618d" stroke="#34618d" d="M362.52 265.25L362.52 272.84L356.50 276.64L350.49 272.84L350.49 265.25L356.50 261.45Z"/>
<path fill="#1f948c" stroke="#1f948c" d="M362.52 242.46L362.52 250.06L356.50 253.85L350.49 250.06L350.49 242.46L356.50 238.66Z"/>
<path fill="#34618d" stroke="#34618d" d="M362.52 219.67L362.52 227.27L356.50 231.07L350.49 227.27L350.49 219.67L356.50 215.88Z"/>
<path fill="#24878e" stroke="#24878e" d="M362.52 196.89L362.52 204.48L356.50 208.28L350.49 204.48L350.49 196.89L356.50 193.09Z"/>
<path fill="#424086" stroke="#424086" d="M362.52 174.10L362.52 181.70L356.50 185.50L350.49 181.70L350.49 174.10L356.50 170.31Z"/>
<path fill="#424086" stroke="#424086" d="M362.52 151.32L362.52 158.91L356.50 162.71L350.49 158.91L350.49 151.32L356.50 147.52Z"/>
<path fill="#3b528b" stroke="#3b528b" d="M362.52 128.53L362.52 136.13L356.50 139.93L350.49 136.13L350.49 128.53L356.50 124.74Z"/>
<path fill="#424086" stroke="#424086" d="M362.52 105.75L362.52 113.34L356.50 117.14L350.49 113.34L350.49 105.75L356.50 101.95Z"/>
<path fill="#440154" stroke="#440154" d="M362.52 82.97L362.52 90.56L356.50 94.36L350.49 90.56L350.49 82.97L356.50 79.17Z"/>
<path fill="#440154" stroke="#440154" d="M362.52 37.40L362.52 44.99L356.50 48.79L350.49 44.99L350.49 37.40L356.50 33.60Z"/>
<path fill="#440154" stroke="#440154" d="M374.54 424.74L374.54 432.34L368.53 436.13L362.52 432.34L362.52 424.74L368.53 420.94Z"/>
<path fill="#482979" stroke="#482979" d="M374.54 401.95L374.54 409.55L368.53 413.35L362.52 409.55L362.52 401.95L368.53 398.16Z"/>
<path fill="#440154" stroke="#440154" d="M374.54 379.17L374.54 386.77L368.53 390.56L362.52 386.77L362.52 379.17L368.53 375.37Z"/>
<path fill="#34618d" stroke="#34618d" d="M374.54 356.38L374.54 363.98L368.53 367.78L362.52 363.98L362.52 356.38L368.53 352.59Z"/>
<path fill="#440154" stroke="#440154" d="M374.54 333.60L374.54 341.20L368.53 344.99L362.52 341.20L362.52 333.60L368.53 329.80Z"/>
<path fill="#2e6e8e" stroke="#2e6e8e" d="M374.54 310.81L374.54 318.41L368.53 322.21L362.52 318.41L362.52 310.81L368.53 307.02Z"/>
<path fill="#297b8e" stroke="#297b8e" d="M374.54 288.03L374.54 295.62L368.53 299.42L362.52 295.62L362.52 288.03L368.53 284.23Z"/>
<path fill="#24878e" stroke="#24878e" d="M374.54 265.25L374.54 272.84L368.53 276.64L362.52 272.84L362.52 265.25L368.53 261.45Z"/>
<path fill="#50c46a" stroke="#50c46a" d="M374.54 242.46L374.54 250.06L368.53 253.85L362.52 250.06L362.52 242.46L368.53 238.66Z"/>
<path fill="#b2dd2d" stroke="#b2dd2d" d="M374.54 219.67L374.54 227.27L368.53 231.07L362.52 227.27L362.52 219.67L368.53 215.88Z"/>
<path fill="#34618d" stroke="#34618d" d="M374.54 196.89L374.54 204.48L368.53 208.28L362.52 204.48L362.52 196.89L368.53 193.09Z"/>
<path fill="#1f948c" stroke="#1f948c" d="M374.54 174.10L374.54 181.70L368.53 185.50L362.52 181.70L362.52 174.10L368.53 170.31Z"/>
<path fill="#424086" stroke="#424086" d="M374.54 151.32L374.54 158.91L368.53 162.71L362.52 158.91L362.52 151.32L368.53 147.52Z"/>
<path fill="#2e6e8e" stroke="#2e6e8e" d="M374.54 128.53L374.54 136.13L368.53 139.93L362.52 136.13L362.52 128.53L368.53 124.74Z"/>
<path fill="#3b528b" stroke="#3b528b" d="M374.54 105.75L374.54 113.34L368.53 117.14L362.52 113.34L362.52 105.75L368.53 101.95Z"/>
<path fill="#481467" stroke="#481467" d="M374.54 82.97L374.54 90.56L368.53 94.36L362.52 90.56L362.52 82.97L368.53 79.17Z"/>
<path fill="#3b528b" stroke="#3b528b" d="M374.54 60.18L374.54 67.78L368.53 71.57L362.52 67.78L362.52 60.18L368.53 56.38Z"/>
<path fill="#440154" stroke="#440154" d="M374.54 37.40L374.54 44.99L368.53 48.79L362.52 44.99L362.52 37.40L368.53 33.60Z"/>
<path fill="#440154" stroke="#440154" d="M386.57 424.74L386.57 432.34L380.55 436.13L374.54 432.34L374.54 424.74L380.55 420.94Z"/>
<path fill="#440154" stroke="#440154" d="M386.57 401.95L386.57 409.55L380.55 413.35L374.54 409.55L374.54 401.95L380.55 398.16Z"/>
<path fill="#482979" stroke="#482979" d="M386.57 379.17L386.57 386.77L380.55 390.56L374.54 386.77L374.54 379.17L380.55 375.37Z"/>
<path fill="#482979" stroke="#482979" d="M386.57 356.38L386.57 363.98L380.55 367.78L374.54 363.98L374.54 356.38L380.55 352.59Z"/>
<path fill="#424086" stroke="#424086" d="M386.57 333.60L386.57 341.20L380.55 344.99L374.54 341.20L374.54 333.60L380.55 329.80Z"/>
<path fill="#482979" stroke="#482979" d="M386.57 310.81L386.57 318.41L380.55 322.21L374.54 318.41L374.54 310.81L380.55 307.02Z"/>
<path fill="#34618d" stroke="#34618d" d="M386.57 288.03L386.57 295.62L380.55 299.42L374.54 295.62L374.54 288.03L380.55 284.23Z"/>
<path fill="#34618d" stroke="#34618d" d="M386.57 265.25L386.57 272.84L380.55 276.64L374.54 272.84L374.54 265.25L380.55 261.45Z"/>
<path fill="#424086" stroke="#424086" d="M386.57 242.46L386.57 250.06L380.55 253.85L374.54 250.06L374.54 242.46L380.55 238.66Z"/>
<path fill="#1fa188" stroke="#1fa188" d="M386.57 219.67L386.57 227.27L380.55 231.07L374.54 227.27L374.54 219.67L380.55 215.88Z"/>
<path fill="#34618d" stroke="#34618d" d="M386.57 196.89L386.57 204.48L380.55 208.28L374.54 204.48L374.54 196.89L380.55 193.09Z"/>
<path fill="#424086" stroke="#424086" d="M386.57 174.10L386.57 181.70L380.55 185.50L374.54 181.70L374.54 174.10L380.55 170.31Z"/>
<path fill="#481467" stroke="#481467" d="M386.57 151.32L386.57 158.91L380.55 162.71L374.54 158.91L374.54 151.32L380.55 147.52Z"/>
<path fill="#482979" stroke="#482979" d="M386.57 128.53L386.57 136.13L380.55 139.93L374.54 136.13L374.54 128.53L380.55 124.74Z"/>
<path fill="#424086" stroke="#424086" d="M386.57 105.75L386.57 113.34L380.55 117.14L374.54 113.34L374.54 105.75L380.55 101.95Z"/>
<path fill="#481467" stroke="#481467" d="M386.57 82.97L386.57 90.56L380.55 94.36L374.54 90.56L374.54 82.97L380.55 79.17Z"/>
<path fill="#481467" stroke="#481467" d="M386.57 37.40L386.57 44.99L380.55 48.79L374.54 44.99L374.54 37.40L380.55 33.60Z"/>
<path fill="#440154" stroke="#440154" d="M398.59 379.17L398.59 386.77L392.58 390.56L386.57 386.77L386.57 379.17L392.58 375.37Z"/>
<path fill="#481467" stroke="#481467" d="M398.59 356.38L398.59 363.98L392.58 367.78L386.57 363.98L386.57 356.38L392.58 352.59Z"/>
<path fill="#482979" stroke="#482979" d="M398.59 333.60L398.59 341.20L392.58 344.99L386.57 341.20L386.57 333.60L392.58 329.80Z"/>
<path fill="#424086" stroke="#424086" d="M398.59 310.81L398.59 318.41L392.58 322.21L386.57 318.41L386.57 310.81L392.58 307.02Z"/>
<path fill="#1f948c" stroke="#1f948c" d="M398.59 288.03L398.59 295.62L392.58 299.42L386.57 295.62L386.57 288.03L392.58 284.23Z"/>
<path fill="#24878e" stroke="#24878e" d="M398.59 265.25L398.59 272.84L392.58 276.64L386.57 272.84L386.57 265.25L392.58 261.45Z"/>
<path fill="#34618d" stroke="#34618d" d="M398.59 242.46L398.59 250.06L392.58 253.85L386.57 250.06L386.57 242.46L392.58 238.66Z"/>
<path fill="#424086" stroke="#424086" d="M398.59 219.67L398.59 227.27L392.58 231.07L386.57 227.27L386.57 219.67L392.58 215.88Z"/>
<path fill="#424086" stroke="#424086" d="M398.59 196.89L398.59 204.48L392.58 208.28L386.57 204.48L386.57 196.89L392.58 193.09Z"/>
<path fill="#38b977" stroke="#38b977" d="M398.59 174.10L398.59 181.70L392.58 185.50L386.57 181.70L386.57 174.10L392.58 170.31Z"/>
<path fill="#424086" stroke="#424086" d="M398.59 151.32L398.59 158.91L392.58 162.71L386.57 158.91L386.57 151.32L392.58 147.52Z"/>
<path fill="#2e6e8e" stroke="#2e6e8e" d="M398.59 128.53L398.59 136.13L392.58 139.93L386.57 136.13L386.57 128.53L392.58 124.74Z"/>
<path fill="#482979" stroke="#482979" d="M398.59 105.75L398.59 113.34L392.58 117.14L386.57 113.34L386.57 105.75L392.58 101.95Z"/>
<path fill="#440154" stroke="#440154" d="M398.59 82.97L398.59 90.56L392.58 94.36L386.57 90.56L386.57 82.97L392.58 79.17Z"/>
<path fill="#440154" stroke="#440154" d="M398.59 60.18L398.59 67.78L392.58 71.57L386.57 67.78L386.57 60.18L392.58 56.38Z"/>
<path fill="#481467" stroke="#481467" d="M398.59 37.40L398.59 44.99L392.58 48.79L386.57 44.99L386.57 37.40L392.58 33.60Z"/>
<path fill="#440154" stroke="#440154" d="M410.62 424.74L410.62 432.34L404.61 436.13L398.59 432.34L398.59 424.74L404.61 420.94Z"/>
<path fill="#482979" stroke="#482979" d="M410.62 379.17L410.62 386.77L404.61 390.56L398.59 386.77L398.59 379.17L404.61 375.37Z"/>
<path fill="#440154" stroke="#440154" d="M410.62 356.38L410.62 363.98L404.61 367.78L398.59 363.98L398.59 356.38L404.61 352.59Z"/>
<path fill="#440154" stroke="#440154" d="M410.62 333.60L410.62 341.20L404.61 344.99L398.59 341.20L398.59 333.60L404.61 329.80Z"/>
<path fill="#482979" stroke="#482979" d="M410.62 310.81L410.62 318.41L404.61 322.21L398.59 318.41L398.59 310.81L404.61 307.02Z"/>
<path fill="#424086" stroke="#424086" d="M410.62 288.03L410.62 295.62L404.61 299.42L398.59 295.62L398.59 288.03L404.61 284.23Z"/>
<path fill="#297b8e" stroke="#297b8e" d="M410.62 265.25L410.62 272.84L404.61 276.64L398.59 272.84L398.59 265.25L404.61 261.45Z"/>
<path fill="#424086" stroke="#424086" d="M410.62 242.46L410.62 250.06L404.61 253.85L398.59 250.06L398.59 242.46L404.61 238.66Z"/>
<path fill="#34618d" stroke="#34618d" d="M410.62 219.67L410.62 227.27L404.61 231.07L398.59 227.27L398.59 219.67L404.61 215.88Z"/>
<path fill="#1f948c" stroke="#1f948c" d="M410.62 196.89L410.62 204.48L404.61 208.28L398.59 204.48L398.59 196.89L404.61 193.09Z"/>
<path fill="#34618d" stroke="#34618d" d="M410.62 174.10L410.62 181.70L404.61 185.50L398.59 181.70L398.59 174.10L404.61 170.31Z"/>
<path fill="#482979" stroke="#482979" d="M410.62 151.32L410.62 158.91L404.61 162.71L398.59 158.91L398.59 151.32L404.61 147.52Z"/>
<path fill="#2e6e8e" stroke="#2e6e8e" d="M410.62 128.53L410.62 136.13L404.61 139.93L398.59 136.13L398.59 128.53L404.61 124.74Z"/>
<path fill="#3b528b" stroke="#3b528b" d="M410.62 105.75L410.62 113.34L404.61 117.14L398.59 113.34L398.59 105.75L404.61 101.95Z"/>
<path fill="#440154" stroke="#440154" d="M410.62 82.97L410.62 90.56L404.61 94.36L398.59 90.56L398.59 82.97L404.61 79.17Z"/>
<path fill="#440154" stroke="#440154" d="M410.62 37.40L410.62 44.99L404.61 48.79L398.59 44.99L398.59 37.40L404.61 33.60Z"/>
<path fill="#440154" stroke="#440154" d="M422.64 424.74L422.64 432.34L416.63 436.13L410.62 432.34L410.62 424.74L416.63 420.94Z"/>
<path fill="#481467" stroke="#481467" d="M422.64 401.95L422.64 409.55L416.63 413.35L410.62 409.55L410.62 401.95L416.63 398.16Z"/>
<path fill="#440154" stroke="#440154" d="M422.64 379.17L422.64 386.77L416.63 390.56L410.62 386.77L410.62 379.17L416.63 375.37Z"/>
<path fill="#482979" stroke="#482979" d="M422.64 356.38L422.64 363.98L416.63 367.78L410.62 363.98L410.62 356.38L416.63 352.59Z"/>
<path fill="#482979" stroke="#482979" d="M422.64 333.60L422.64 341.20L416.63 344.99L410.62 341.20L410.62 333.60L416.63 329.80Z"/>
<path fill="#424086" stroke="#424086" d="M422.64 310.81L422.64 318.41L416.63 322.21L410.62 318.41L410.62 310.81L416.63 307.02Z"/>
<path fill="#2e6e8e" stroke="#2e6e8e" d="M422.64 288.03L422.64 295.62L416.63 299.42L410.62 295.62L410.62 288.03L416.63 284.23Z"/>
<path fill="#481467" stroke="#481467" d="M422.64 265.25L422.64 272.84L416.63 276.64L410.62 272.84L410.62 265.25L416.63 261.45Z"/>
<path fill="#424086" stroke="#424086" d="M422.64 242.46L422.64 250.06L416.63 253.85L410.62 250.06L410.62 242.46L416.63 238.66Z"/>
<path fill="#34618d" stroke="#34618d" d="M422.64 219.67L422.64 227.27L416.63 231.07L410.62 227.27L410.62 219.67L416.63 215.88Z"/>
<path fill="#424086" stroke="#424086" d="M422.64 196.89L422.64 204.48L416.63 208.28L410.62 204.48L410.62 196.89L416.63 193.09Z"/>
<path fill="#424086" stroke="#424086" d="M422.64 174.10L422.64 181.70L416.63 185.50L410.62 181.70L410.62 174.10L416.63 170.31Z"/>
<path fill="#482979" stroke="#482979" d="M422.64 151.32L422.64 158.91L416.63 162.71L410.62 158.91L410.62 151.32L416.63 147.52Z"/>
<path fill="#3b528b" stroke="#3b528b" d="M422.64 128.53L422.64 136.13L416.63 139.93L410.62 136.13L410.62 128.53L416.63 124.74Z"/>
<path fill="#481467" stroke="#481467" d="M422.64 105.75L422.64 113.34L416.63 117.14L410.62 113.34L410.62 105.75L416.63 101.95Z"/>
<path fill="#481467" stroke="#481467" d="M422.64 82.97L422.64 90.56L416.63 94.36L410.62 90.56L410.62 82.97L416.63 79.17Z"/>
<path fill="#482979" stroke="#482979" d="M422.64 60.18L422.64 67.78L416.63 71.57L410.62 67.78L410.62 60.18L416.63 56.38Z"/>
<path fill="#481467" stroke="#481467" d="M422.64 37.40L422.64 44.99L416.63 48.79L410.62 44.99L410.62 37.40L416.63 33.60Z"/>
<path fill="#440154" stroke="#440154" d="M434.67 401.95L434.67 409.55L428.66 413.35L422.64 409.55L422.64 401.95L428.66 398.16Z"/>
<path fill="#482979" stroke="#482979" d="M434.67 379.17L434.67 386.77L428.66 390.56L422.64 386.77L422.64 379.17L428.66 375.37Z"/>
<path fill="#481467" stroke="#481467" d="M434.67 356.38L434.67 363.98L428.66 367.78L422.64 363.98L422.64 356.38L428.66 352.59Z"/>
<path fill="#3b528b" stroke="#3b528b" d="M434.67 333.60L434.67 341.20L428.66 344.99L422.64 341.20L422.64 333.60L428.66 329.80Z"/>
<path fill="#440154" stroke="#440154" d="M434.67 310.81L434.67 318.41L428.66 322.21L422.64 318.41L422.64 310.81L428.66 307.02Z"/>
<path fill="#34618d" stroke="#34618d" d="M434.67 288.03L434.67 295.62L428.66 299.42L422.64 295.62L422.64 288.03L428.66 284.23Z"/>
<path fill="#24878e" stroke="#24878e" d="M434.67 265.25L434.67 272.84L428.66 276.64L422.64 272.84L422.64 265.25L428.66 261.45Z"/>
<path fill="#34618d" stroke="#34618d" d="M434.67 242.46L434.67 250.06L428.66 253.85L422.64 250.06L422.64 242.46L428.66 238.66Z"/>
<path fill="#3b528b" stroke="#3b528b" d="M434.67 219.67L434.67 227.27L428.66 231.07L422.64 227.27L422.64 219.67L428.66 215.88Z"/>
<path fill="#424086" stroke="#424086" d="M434.67 196.89L434.67 204.48L428.66 208.28L422.64 204.48L422.64 196.89L428.66 193.09Z"/>
<path fill="#482979" stroke="#482979" d="M434.67 174.10L434.67 181.70L428.66 185.50L422.64 181.70L422.64 174.10L428.66 170.31Z"/>
<path fill="#424086" stroke="#424086" d="M434.67 151.32L434.67 158.91L428.66 162.71L422.64 158.91L422.64 151.32L428.66 147.52Z"/>
<path fill="#482979" stroke="#482979" d="M434.67 128.53L434.67 136.13L428.66 139.93L422.64 136.13L422.64 128.53L428.66 124.74Z"/>
<path fill="#481467" stroke="#481467" d="M434.67 105.75L434.67 113.34L428.66 117.14L422.64 113.34L422.64 105.75L428.66 101.95Z"/>
<path fill="#440154" stroke="#440154" d="M434.67 82.97L434.67 90.56L428.66 94.36L422.64 90.56L422.64 82.97L428.66 79.17Z"/>
<path fill="#440154" stroke="#440154" d="M434.67 60.18L434.67 67.78L428.66 71.57L422.64 67.78L422.64 60.18L428.66 56.38Z"/>
<path fill="#440154" stroke="#440154" d="M446.70 424.74L446.70 432.34L440.68 436.13L434.67 432.34L434.67 424.74L440.68 420.94Z"/>
<path fill="#481467" stroke="#481467" d="M446.70 401.95L446.70 409.55L440.68 413.35L434.67 409.55L434.67 401.95L440.68 398.16Z"/>
<path fill="#424086" stroke="#424086" d="M446.70 379.17L446.70 386.77L440.68 390.56L434.67 386.77L434.67 379.17L440.68 375.37Z"/>
<path fill="#424086" stroke="#424086" d="M446.70 356.38L446.70 363.98L440.68 367.78L434.67 363.98L434.67 356.38L440.68 352.59Z"/>
<path fill="#424086" stroke="#424086" d="M446.70 333.60L446.70 341.20L440.68 344.99L434.67 341.20L434.67 333.60L440.68 329.80Z"/>
<path fill="#482979" stroke="#482979" d="M446.70 310.81L446.70 318.41L440.68 322.21L434.67 318.41L434.67 310.81L440.68 307.02Z"/>
<path fill="#424086" stroke="#424086" d="M446.70 265.25L446.70 272.84L440.68 276.64L434.67 272.84L434.67 265.25L440.68 261.45Z"/>
<path fill="#482979" stroke="#482979" d="M446.70 242.46L446.70 250.06L440.68 253.85L434.67 250.06L434.67 242.46L440.68 238.66Z"/>
<path fill="#34618d" stroke="#34618d" d="M446.70 219.67L446.70 227.27L440.68 231.07L434.67 227.27L434.67 219.67L440.68 215.88Z"/>
<path fill="#424086" stroke="#424086" d="M446.70 196.89L446.70 204.48L440.68 208.28L434.67 204.48L434.67 196.89L440.68 193.09Z"/>
<path fill="#424086" stroke="#424086" d="M446.70 174.10L446.70 181.70L440.68 185.50L434.67 181.70L434.67 174.10L440.68 170.31Z"/>
<path fill="#481467" stroke="#481467" d="M446.70 151.32L446.70 158.91L440.68 162.71L434.67 158.91L434.67 151.32L440.68 147.52Z"/>
<path fill="#481467" stroke="#481467" d="M446.70 128.53L446.70 136.13L440.68 139.93L434.67 136.13L434.67 128.53L440.68 124.74Z"/>
<path fill="#440154" stroke="#440154" d="M446.70 105.75L446.70 113.34L440.68 117.14L434.67 113.34L434.67 105.75L440.68 101.95Z"/>
<path fill="#424086" stroke="#424086" d="M446.70 82.97L446.70 90.56L440.68 94.36L434.67 90.56L434.67 82.97L440.68 79.17Z"/>
<path fill="#440154" stroke="#440154" d="M446.70 37.40L446.70 44.99L440.68 48.79L434.67 44.99L434.67 37.40L440.68 33.60Z"/>
<path fill="#440154" stroke="#440154" d="M458.72 424.74L458.72 432.34L452.71 436.13L446.70 432.34L446.70 424.74L452.71 420.94Z"/>
<path fill="#440154" stroke="#440154" d="M458.72 379.17L458.72 386.77L452.71 390.56L446.70 386.77L446.70 379.17L452.71 375.37Z"/>
<path fill="#424086" stroke="#424086" d="M458.72 356.38L458.72 363.98L452.71 367.78L446.70 363.98L446.70 356.38L452.71 352.59Z"/>
<path fill="#424086" stroke="#424086" d="M458.72 333.60L458.72 341.20L452.71 344.99L446.70 341.20L446.70 333.60L452.71 329.80Z"/>
<path fill="#424086" stroke="#424086" d="M458.72 310.81L458.72 318.41L452.71 322.21L446.70 318.41L446.70 310.81L452.71 307.02Z"/>
<path fill="#440154" stroke="#440154" d="M458.72 288.03L458.72 295.62L452.71 299.42L446.70 295.62L446.70 288.03L452.71 284.23Z"/>
<path fill="#424086" stroke="#424086" d="M458.72 265.25L458.72 272.84L452.71 276.64L446.70 272.84L446.70 265.25L452.71 261.45Z"/>
<path fill="#3b528b" stroke="#3b528b" d="M458.72 242.46L458.72 250.06L452.71 253.85L446.70 250.06L446.70 242.46L452.71 238.66Z"/>
<path fill="#424086" stroke="#424086" d="M458.72 219.67L458.72 227.27L452.71 231.07L446.70 227.27L446.70 219.67L452.71 215.88Z"/>
<path fill="#424086" stroke="#424086" d="M458.72 196.89L458.72 204.48L452.71 208.28L446.70 204.48L446.70 196.89L452.71 193.09Z"/>
<path fill="#482979" stroke="#482979" d="M458.72 174.10L458.72 181.70L452.71 185.50L446.70 181.70L446.70 174.10L452.71 170.31Z"/>
<path fill="#481467" stroke="#481467" d="M458.72 128.53L458.72 136.13L452.71 139.93L446.70 136.13L446.70 128.53L452.71 124.74Z"/>
<path fill="#481467" stroke="#481467" d="M458.72 82.97L458.72 90.56L452.71 94.36L446.70 90.56L446.70 82.97L452.71 79.17Z"/>
<path fill="#481467" stroke="#481467" d="M458.72 60.18L458.72 67.78L452.71 71.57L446.70 67.78L446.70 60.18L452.71 56.38Z"/>
<path fill="#440154" stroke="#440154" d="M458.72 37.40L458.72 44.99L452.71 48.79L446.70 44.99L446.70 37.40L452.71 33.60Z"/>
<path fill="#440154" stroke="#440154" d="M470.75 447.52L470.75 455.12L464.73 458.92L458.72 455.12L458.72 447.52L464.73 443.73Z"/>
<path fill="#481467" stroke="#481467" d="M470.75 379.17L470.75 386.77L464.73 390.56L458.72 386.77L458.72 379.17L464.73 375.37Z"/>
<path fill="#482979" stroke="#482979" d="M470.75 356.38L470.75 363.98L464.73 367.78L458.72 363.98L458.72 356.38L464.73 352.59Z"/>
<path fill="#482979" stroke="#482979" d="M470.75 333.60L470.75 341.20L464.73 344.99L458.72 341.20L458.72 333.60L464.73 329.80Z"/>
<path fill="#481467" stroke="#481467" d="M470.75 310.81L470.75 318.41L464.73 322.21L458.72 318.41L458.72 310.81L464.73 307.02Z"/>
<path fill="#481467" stroke="#481467" d="M470.75 288.03L470.75 295.62L464.73 299.42L458.72 295.62L458.72 288.03L464.73 284.23Z"/>
<path fill="#34618d" stroke="#34618d" d="M470.75 265.25L470.75 272.84L464.73 276.64L458.72 272.84L458.72 265.25L464.73 261.45Z"/>
<path fill="#3b528b" stroke="#3b528b" d="M470.75 242.46L470.75 250.06L464.73 253.85L458.72 250.06L458.72 242.46L464.73 238.66Z"/>
<path fill="#424086" stroke="#424086" d="M470.75 219.67L470.75 227.27L464.73 231.07L458.72 227.27L458.72 219.67L464.73 215.88Z"/>
<path fill="#482979" stroke="#482979" d="M470.75 196.89L470.75 204.48L464.73 208.28L458.72 204.48L458.72 196.89L464.73 193.09Z"/>
<path fill="#481467" stroke="#481467" d="M470.75 174.10L470.75 181.70L464.73 185.50L458.72 181.70L458.72 174.10L464.73 170.31Z"/>
<path fill="#481467" stroke="#481467" d="M470.75 151.32L470.75 158.91L464.73 162.71L458.72 158.91L458.72 151.32L464.73 147.52Z"/>
<path fill="#482979" stroke="#482979" d="M470.75 128.53L470.75 136.13L464.73 139.93L458.72 136.13L458.72 128.53L464.73 124.74Z"/>
<path fill="#440154" stroke="#440154" d="M470.75 60.18L470.75 67.78L464.73 71.57L458.72 67.78L458.72 60.18L464.73 56.38Z"/>
<path fill="#440154" stroke="#440154" d="M482.77 401.95L482.77 409.55L476.76 413.35L470.75 409.55L470.75 401.95L476.76 398.16Z"/>
<path fill="#482979" stroke="#482979" d="M482.77 356.38L482.77 363.98L476.76 367.78L470.75 363.98L470.75 356.38L476.76 352.59Z"/>
<path fill="#424086" stroke="#424086" d="M482.77 333.60L482.77 341.20L476.76 344.99L470.75 341.20L470.75 333.60L476.76 329.80Z"/>
<path fill="#482979" stroke="#482979" d="M482.77 310.81L482.77 318.41L476.76 322.21L470.75 318.41L470.75 310.81L476.76 307.02Z"/>
<path fill="#482979" stroke="#482979" d="M482.77 288.03L482.77 295.62L476.76 299.42L470.75 295.62L470.75 288.03L476.76 284.23Z"/>
<path fill="#424086" stroke="#424086" d="M482.77 265.25L482.77 272.84L476.76 276.64L470.75 272.84L470.75 265.25L476.76 261.45Z"/>
<path fill="#34618d" stroke="#34618d" d="M482.77 242.46L482.77 250.06L476.76 253.85L470.75 250.06L470.75 242.46L476.76 238.66Z"/>
<path fill="#424086" stroke="#424086" d="M482.77 219.67L482.77 227.27L476.76 231.07L470.75 227.27L470.75 219.67L476.76 215.88Z"/>
<path fill="#440154" stroke="#440154" d="M482.77 196.89L482.77 204.48L476.76 208.28L470.75 204.48L470.75 196.89L476.76 193.09Z"/>
<path fill="#34618d" stroke="#34618d" d="M482.77 174.10L482.77 181.70L476.76 185.50L470.75 181.70L470.75 174.10L476.76 170.31Z"/>
<path fill="#424086" stroke="#424086" d="M482.77 151.32L482.77 158.91L476.76 162.71L470.75 158.91L470.75 151.32L476.76 147.52Z"/>
<path fill="#481467" stroke="#481467" d="M482.77 128.53L482.77 136.13L476.76 139.93L470.75 136.13L470.75 128.53L476.76 124.74Z"/>
<path fill="#440154" stroke="#440154" d="M482.77 105.75L482.77 113.34L476.76 117.14L470.75 113.34L470.75 105.75L476.76 101.95Z"/>
<path fill="#440154" stroke="#440154" d="M482.77 60.18L482.77 67.78L476.76 71.57L470.75 67.78L470.75 60.18L476.76 56.38Z"/>
<path fill="#481467" stroke="#481467" d="M494.80 379.17L494.80 386.77L488.79 390.56L482.77 386.77L482.77 379.17L488.79 375.37Z"/>
<path fill="#481467" stroke="#481467" d="M494.80 356.38L494.80 363.98L488.79 367.78L482.77 363.98L482.77 356.38L488.79 352.59Z"/>
<path fill="#481467" stroke="#481467" d="M494.80 333.60L494.80 341.20L488.79 344.99L482.77 341.20L482.77 333.60L488.79 329.80Z"/>
<path fill="#482979" stroke="#482979" d="M494.80 310.81L494.80 318.41L488.79 322.21L482.77 318.41L482.77 310.81L488.79 307.02Z"/>
<path fill="#481467" stroke="#481467" d="M494.80 265.25L494.80 272.84L488.79 276.64L482.77 272.84L482.77 265.25L488.79 261.45Z"/>
<path fill="#481467" stroke="#481467" d="M494.80 242.46L494.80 250.06L488.79 253.85L482.77 250.06L482.77 242.46L488.79 238.66Z"/>
<path fill="#424086" stroke="#424086" d="M494.80 219.67L494.80 227.27L488.79 231.07L482.77 227.27L482.77 219.67L488.79 215.88Z"/>
<path fill="#481467" stroke="#481467" d="M494.80 196.89L494.80 204.48L488.79 208.28L482.77 204.48L482.77 196.89L488.79 193.09Z"/>
<path fill="#440154" stroke="#440154" d="M494.80 174.10L494.80 181.70L488.79 185.50L482.77 181.70L482.77 174.10L488.79 170.31Z"/>
<path fill="#482979" stroke="#482979" d="M494.80 151.32L494.80 158.91L488.79 162.71L482.77 158.91L482.77 151.32L488.79 147.52Z"/>
<path fill="#481467" stroke="#481467" d="M494.80 128.53L494.80 136.13L488.79 139.93L482.77 136.13L482.77 128.53L488.79 124.74Z"/>
<path fill="#440154" stroke="#440154" d="M494.80 82.97L494.80 90.56L488.79 94.36L482.77 90.56L482.77 82.97L488.79 79.17Z"/>
<path fill="#440154" stroke="#440154" d="M494.80 60.18L494.80 67.78L488.79 71.57L482.77 67.78L482.77 60.18L488.79 56.38Z"/>
<path fill="#440154" stroke="#440154" d="M506.82 401.95L506.82 409.55L500.81 413.35L494.80 409.55L494.80 401.95L500.81 398.16Z"/>
<path fill="#482979" stroke="#482979" d="M506.82 356.38L506.82 363.98L500.81 367.78L494.80 363.98L494.80 356.38L500.81 352.59Z"/>
<path fill="#440154" stroke="#440154" d="M506.82 310.81L506.82 318.41L500.81 322.21L494.80 318.41L494.80 310.81L500.81 307.02Z"/>
<path fill="#481467" stroke="#481467" d="M506.82 288.03L506.82 295.62L500.81 299.42L494.80 295.62L494.80 288.03L500.81 284.23Z"/>
<path fill="#481467" stroke="#481467" d="M506.82 265.25L506.82 272.84L500.81 276.64L494.80 272.84L494.80 265.25L500.81 261.45Z"/>
<path fill="#424086" stroke="#424086" d="M506.82 242.46L506.82 250.06L500.81 253.85L494.80 250.06L494.80 242.46L500.81 238.66Z"/>
<path fill="#2e6e8e" stroke="#2e6e8e" d="M506.82 219.67L506.82 227.27L500.81 231.07L494.80 227.27L494.80 219.67L500.81 215.88Z"/>
<path fill="#440154" stroke="#440154" d="M506.82 196.89L506.82 204.48L500.81 208.28L494.80 204.48L494.80 196.89L500.81 193.09Z"/>
<path fill="#482979" stroke="#482979" d="M506.82 174.10L506.82 181.70L500.81 185.50L494.80 181.70L494.80 174.10L500.81 170.31Z"/>
<path fill="#440154" stroke="#440154" d="M518.85 447.52L518.85 455.12L512.84 458.92L506.82 455.12L506.82 447.52L512.84 443.73Z"/>
<path fill="#481467" stroke="#481467" d="M518.85 401.95L518.85 409.55L512.84 413.35L506.82 409.55L506.82 401.95L512.84 398.16Z"/>
<path fill="#440154" stroke="#440154" d="M518.85 379.17L518.85 386.77L512.84 390.56L506.82 386.77L506.82 379.17L512.84 375.37Z"/>
<path fill="#3b528b" stroke="#3b528b" d="M518.85 356.38L518.85 363.98L512.84 367.78L506.82 363.98L506.82 356.38L512.84 352.59Z"/>
<path fill="#481467" stroke="#481467" d="M518.85 333.60L518.85 341.20L512.84 344.99L506.82 341.20L506.82 333.60L512.84 329.80Z"/>
<path fill="#424086" stroke="#424086" d="M518.85 310.81L518.85 318.41L512.84 322.21L506.82 318.41L506.82 310.81L512.84 307.02Z"/>
<path fill="#482979" stroke="#482979" d="M518.85 288.03L518.85 295.62L512.84 299.42L506.82 295.62L506.82 288.03L512.84 284.23Z"/>
<path fill="#34618d" stroke="#34618d" d="M518.85 265.25L518.85 272.84L512.84 276.64L506.82 272.84L506.82 265.25L512.84 261.45Z"/>
<path fill="#1f948c" stroke="#1f948c" d="M518.85 242.46L518.85 250.06L512.84 253.85L506.82 250.06L506.82 242.46L512.84 238.66Z"/>
<path fill="#297b8e" stroke="#297b8e" d="M518.85 219.67L518.85 227.27L512.84 231.07L506.82 227.27L506.82 219.67L512.84 215.88Z"/>
<path fill="#34618d" stroke="#34618d" d="M518.85 196.89L518.85 204.48L512.84 208.28L506.82 204.48L506.82 196.89L512.84 193.09Z"/>
<path fill="#482979" stroke="#482979" d="M518.85 174.10L518.85 181.70L512.84 185.50L506.82 181.70L506.82 174.10L512.84 170.31Z"/>
<path fill="#481467" stroke="#481467" d="M518.85 151.32L518.85 158.91L512.84 162.71L506.82 158.91L506.82 151.32L512.84 147.52Z"/>
<path fill="#440154" stroke="#440154" d="M518.85 128.53L518.85 136.13L512.84 139.93L506.82 136.13L506.82 128.53L512.84 124.74Z"/>
<path fill="#440154" stroke="#440154" d="M518.85 105.75L518.85 113.34L512.84 117.14L506.82 113.34L506.82 105.75L512.84 101.95Z"/>
<path fill="#481467" stroke="#481467" d="M518.85 82.97L518.85 90.56L512.84 94.36L506.82 90.56L506.82 82.97L512.84 79.17Z"/>
</g>
<path d="M98.30 508.00V7.80M182.48 508.00V7.80M266.66 508.00V7.80M350.84 508.00V7.80M435.02 508.00V7.80M519.20 508.00V7.80M76.80 486.30H540.30M76.80 395.16H540.30M76.80 304.02H540.30M76.80 212.88H540.30M76.80 121.74H540.30M76.80 30.60H540.30" fill="none" stroke="rgba(205,205,205,0.75)" stroke-width="1.05" stroke-dasharray="3.9 1.7"/>
<path d="M98.30 508.00v-7.00M76.80 486.30h7.00M182.48 508.00v-7.00M76.80 395.16h7.00M266.66 508.00v-7.00M76.80 304.02h7.00M350.84 508.00v-7.00M76.80 212.88h7.00M435.02 508.00v-7.00M76.80 121.74h7.00M519.20 508.00v-7.00M76.80 30.60h7.00" fill="none" stroke="#222222" stroke-width="1.67"/>
<path d="M76.80 7.80V508.00H540.30" fill="none" stroke="#7a7a7a" stroke-width="1.67" stroke-linecap="square"/>
<g font-family='DejaVu Sans, Liberation Sans, sans-serif' font-size="22.80" fill="#111111">
<text x="98.30" y="534.10" text-anchor="middle">0.0</text>
<text x="69.20" y="495.70" text-anchor="end">0.0</text>
<text x="182.48" y="534.10" text-anchor="middle">0.2</text>
<text x="69.20" y="404.56" text-anchor="end">0.2</text>
<text x="266.66" y="534.10" text-anchor="middle">0.4</text>
<text x="69.20" y="313.42" text-anchor="end">0.4</text>
<text x="350.84" y="534.10" text-anchor="middle">0.6</text>
<text x="69.20" y="222.28" text-anchor="end">0.6</text>
<text x="435.02" y="534.10" text-anchor="middle">0.8</text>
<text x="69.20" y="131.14" text-anchor="end">0.8</text>
<text x="519.20" y="534.10" text-anchor="middle">1.0</text>
<text x="69.20" y="40.00" text-anchor="end">1.0</text>
<text x="602.20" y="478.87">2.5</text>
<text x="602.20" y="412.99">5.0</text>
<text x="602.20" y="347.11">7.5</text>
<text x="602.20" y="281.23">10.0</text>
<text x="602.20" y="215.34">12.5</text>
<text x="602.20" y="149.46">15.0</text>
<text x="602.20" y="83.58">17.5</text>
<text x="602.20" y="17.70">20.0</text>
</g>
<g font-family="DejaVu Sans, Liberation Sans, sans-serif" font-size="23.50" fill="#111111">
<text x="308.60" y="564.80" text-anchor="middle">Solar output (p.u.)</text>
<text transform="translate(18.70 260.60) rotate(-90)" text-anchor="middle">Wind output (p.u.)</text>
<text transform="translate(680.00 262.20) rotate(-90)" text-anchor="middle">Density</text>
</g>
<rect x="568.50" y="7.50" width="25.90" height="500.70" fill="url(#vg)"/>
<path d="M594.40 468.67h-7.00M594.40 402.79h-7.00M594.40 336.91h-7.00M594.40 271.03h-7.00M594.40 205.14h-7.00M594.40 139.26h-7.00M594.40 73.38h-7.00M594.40 7.50h-7.00" fill="none" stroke="#222222" stroke-width="1.67"/>
<rect x="568.50" y="7.50" width="25.90" height="500.70" fill="none" stroke="#777777" stroke-width="1.67"/>
</svg>
</body></html>
